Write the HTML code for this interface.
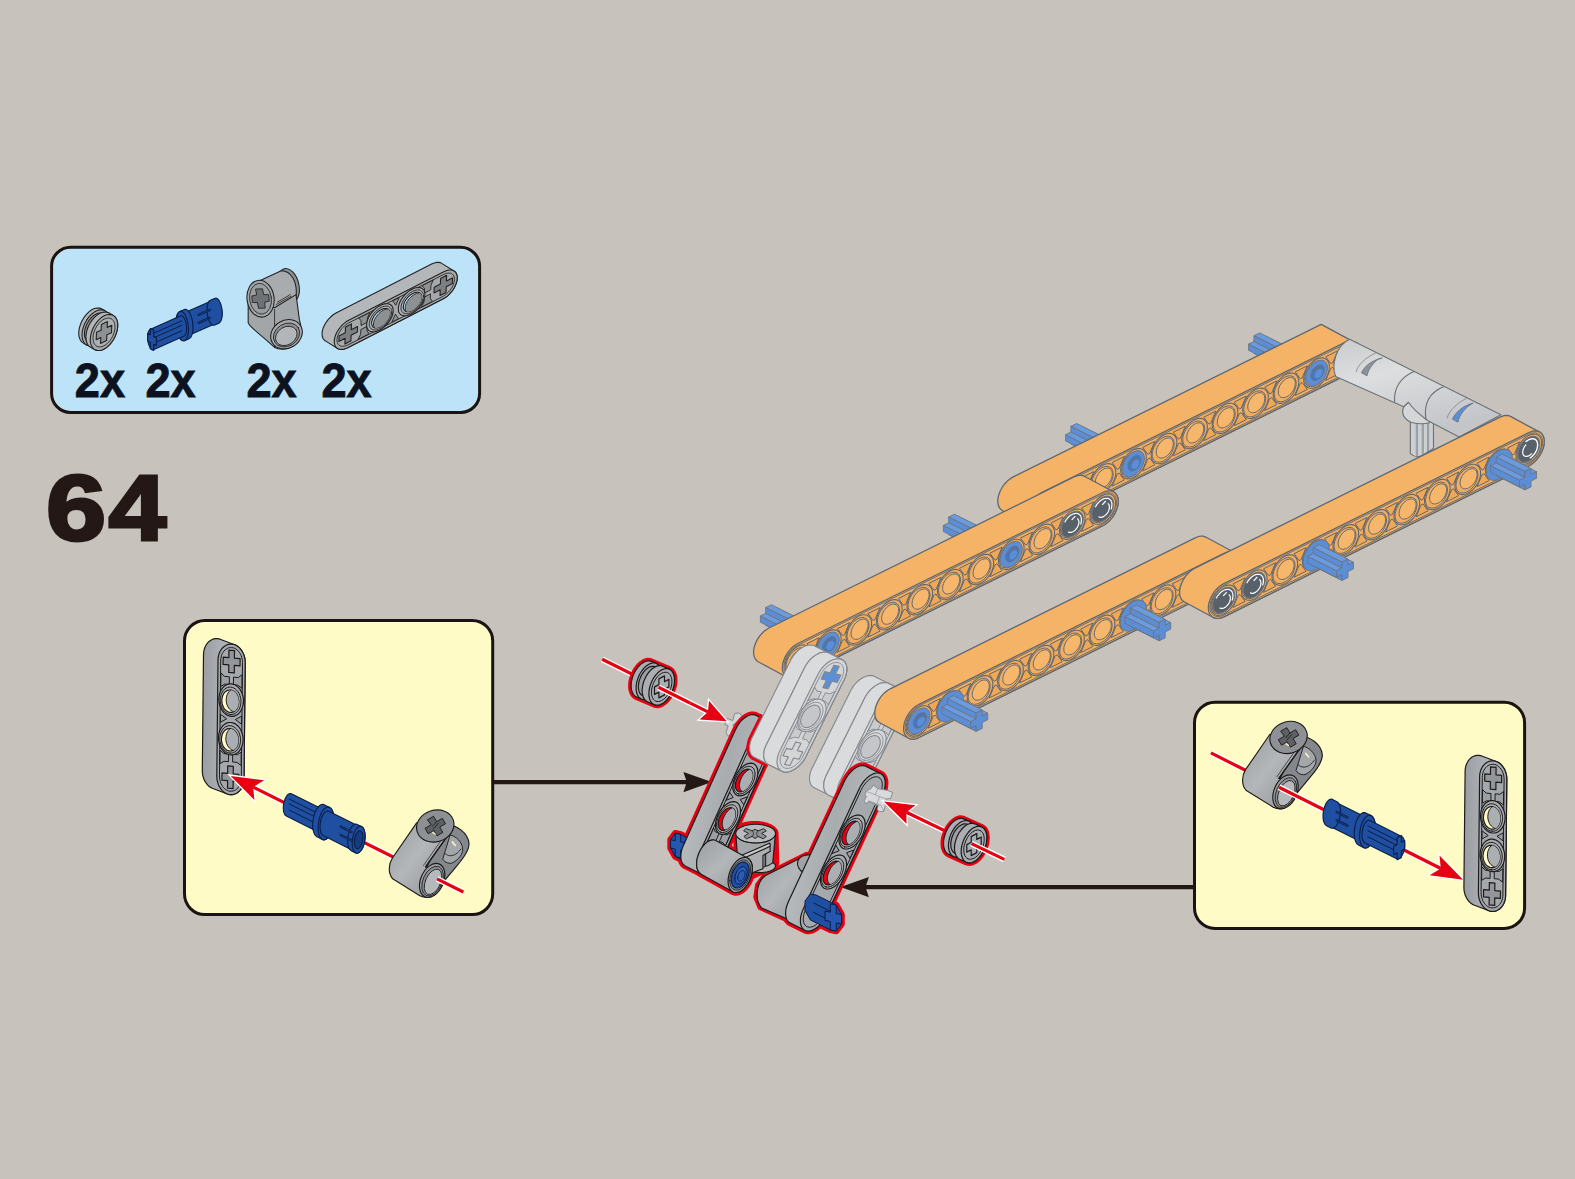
<!DOCTYPE html>
<html><head><meta charset="utf-8"><title>64</title>
<style>html,body{margin:0;padding:0;background:#c7c2bb;}body{width:1575px;height:1179px;overflow:hidden;font-family:"Liberation Sans",sans-serif;}svg{display:block;}</style>
</head><body>
<svg width="1575" height="1179" viewBox="0 0 1575 1179">
<defs>
<linearGradient id="gTube" x1="0" y1="0" x2="1" y2="1"><stop offset="0" stop-color="#9b9ea1"/><stop offset="0.45" stop-color="#b4b7ba"/><stop offset="1" stop-color="#8e9194"/></linearGradient>
<linearGradient id="gBandV" x1="0" y1="0" x2="1" y2="0"><stop offset="0" stop-color="#9a9ea2"/><stop offset="0.6" stop-color="#b2b6ba"/><stop offset="1" stop-color="#a8acb0"/></linearGradient>
<linearGradient id="gBandA" x1="0" y1="0" x2="1" y2="0.3"><stop offset="0" stop-color="#c2c5c7"/><stop offset="0.55" stop-color="#a9acaf"/><stop offset="1" stop-color="#b9bcbe"/></linearGradient>
<linearGradient id="gFadeCyl" x1="0" y1="0" x2="0.45" y2="1"><stop offset="0" stop-color="#c9cbcd"/><stop offset="0.4" stop-color="#dcdee0"/><stop offset="1" stop-color="#c3c5c8"/></linearGradient>
<linearGradient id="gOrEnd" x1="0" y1="0" x2="1" y2="0.6"><stop offset="0" stop-color="#f6b86f"/><stop offset="1" stop-color="#f1a95a"/></linearGradient>
</defs>
<rect width="1575" height="1179" fill="#c7c2bb"/>
<rect x="51.6" y="247.3" width="428" height="165.1" rx="19" ry="19" fill="#bce3f7" stroke="#1a1311" stroke-width="3"/>
<text transform="translate(74.8,396.7) scale(0.965,1.01)" font-family="Liberation Sans, sans-serif" font-weight="bold" font-size="46.8" fill="#0d1220" stroke="#0d1220" stroke-width="0.9">2x</text>
<text transform="translate(145.5,396.7) scale(0.965,1.01)" font-family="Liberation Sans, sans-serif" font-weight="bold" font-size="46.8" fill="#0d1220" stroke="#0d1220" stroke-width="0.9">2x</text>
<text transform="translate(246.5,396.7) scale(0.965,1.01)" font-family="Liberation Sans, sans-serif" font-weight="bold" font-size="46.8" fill="#0d1220" stroke="#0d1220" stroke-width="0.9">2x</text>
<text transform="translate(321.5,396.7) scale(0.965,1.01)" font-family="Liberation Sans, sans-serif" font-weight="bold" font-size="46.8" fill="#0d1220" stroke="#0d1220" stroke-width="0.9">2x</text>
<text transform="translate(46.0,539.9) scale(1.175,1.005)" font-family="Liberation Sans, sans-serif" font-weight="bold" font-size="92" fill="#231815" stroke="#231815" stroke-width="3" stroke-linejoin="miter">6</text>
<text transform="translate(108.4,539.9) scale(1.13,1)" font-family="Liberation Sans, sans-serif" font-weight="bold" font-size="92" fill="#231815" stroke="#231815" stroke-width="3" stroke-linejoin="miter">4</text>
<rect x="184.5" y="620.5" width="308.2" height="294.1" rx="20.5" ry="20.5" fill="#fffbc7" stroke="#1a1311" stroke-width="3"/>
<rect x="1194.5" y="702.3" width="330.1" height="226.1" rx="20.5" ry="20.5" fill="#fffbc7" stroke="#1a1311" stroke-width="3"/>
<path d="M494 782.1 H688" stroke="#231815" stroke-width="4.4" fill="none"/>
<path d="M711.8 782.1 L683.4 772.0 L686.8 782.1 L683.4 792.2Z" fill="#231815"/>
<path d="M1194 887.1 H864" stroke="#231815" stroke-width="4.4" fill="none"/>
<path d="M840.5 887.1 L868.9 877.0 L865.5 887.1 L868.9 897.2Z" fill="#231815"/>
<g stroke-linejoin="round" stroke-linecap="round">
<path d="M202.3 770.6 L203.5 654.8 L203.6 652.5 L204 650.4 L204.6 648.2 L205.4 646.3 L206.4 644.5 L207.6 642.9 L209 641.5 L210.5 640.4 L212.1 639.5 L213.8 638.9 L215.5 638.6 L217.3 638.6 L219.1 638.9 L220.8 639.5 L235.3 645 L237 645.9 L238.6 647.1 L240 648.5 L241.3 650.1 L242.5 651.9 L243.5 653.9 L244.2 656 L244.8 658.2 L245.1 660.4 L245.2 662.7 L244 778.5 L243.9 780.8 L243.5 783 L242.9 785.1 L242.1 787 L241.1 788.8 L239.9 790.4 L238.5 791.8 L237 792.9 L235.4 793.8 L233.8 794.4 L232 794.7 L230.2 794.7 L228.4 794.4 L226.7 793.8 L212.2 788.3 L210.5 787.4 L208.9 786.2 L207.5 784.9 L206.2 783.2 L205 781.4 L204 779.5 L203.3 777.3 L202.7 775.1 L202.4 772.9Z" fill="url(#gBandV)" stroke="#1c1a1a" stroke-width="1.2" />
<path d="M216.8 776.1 L216.9 778.4 L217.2 780.6 L217.8 782.8 L218.5 784.9 L219.5 786.9 L220.7 788.7 L222 790.4 L223.4 791.7 L225 792.9 L226.7 793.8 L228.4 794.4 L230.2 794.7 L232 794.7 L233.7 794.4 L235.4 793.8 L237 792.9 L238.5 791.8 L239.9 790.4 L241.1 788.8 L242.1 787 L242.9 785.1 L243.5 783 L243.9 780.8 L244 778.5 L245.2 662.7 L245.1 660.4 L244.8 658.2 L244.2 656 L243.5 653.9 L242.5 651.9 L241.3 650.1 L240 648.4 L238.6 647.1 L237 645.9 L235.3 645 L233.6 644.4 L231.8 644.1 L230 644.1 L228.3 644.4 L226.6 645 L225 645.9 L223.5 647 L222.1 648.4 L220.9 650 L219.9 651.8 L219.1 653.7 L218.5 655.8 L218.1 658 L218 660.3Z" fill="#a5a9ad" stroke="#1c1a1a" stroke-width="1.2" />
<path d="M219.5 776.3 L219.6 778.2 L219.9 780 L220.3 781.7 L220.9 783.4 L221.7 785 L222.6 786.4 L223.7 787.7 L224.8 788.9 L226.1 789.8 L227.4 790.5 L228.8 791 L230.3 791.2 L231.7 791.2 L233.1 791 L234.4 790.5 L235.7 789.8 L236.9 788.9 L238 787.8 L238.9 786.5 L239.8 785.1 L240.4 783.5 L240.9 781.8 L241.2 780.1 L241.3 778.3 L242.5 662.5 L242.4 660.6 L242.1 658.8 L241.7 657.1 L241.1 655.4 L240.3 653.8 L239.4 652.4 L238.3 651.1 L237.2 649.9 L235.9 649 L234.6 648.3 L233.2 647.8 L231.7 647.6 L230.3 647.6 L228.9 647.8 L227.6 648.3 L226.3 649 L225.1 649.9 L224 651 L223.1 652.3 L222.2 653.7 L221.6 655.3 L221.1 657 L220.8 658.7 L220.7 660.5Z" fill="none" stroke="#1c1a1a" stroke-width="1" />
<path d="M242 675.2 L241.9 688.3 L237.8 685.2 L233.4 684.8 L233.5 677.1 L237.9 677.5Z" fill="#9ca0a4" stroke="#1c1a1a" stroke-width="1" />
<path d="M220.9 673.3 L220.8 686.4 L224.9 684.1 L229.3 684.5 L229.4 676.8 L225 676.4Z" fill="#9ca0a4" stroke="#1c1a1a" stroke-width="1" />
<path d="M228.9 650.1 L228.9 657.6 L223.2 657.1 L223.1 664.4 L228.8 664.9 L228.7 672.4 L234.3 672.9 L234.3 665.4 L240 665.9 L240.1 658.6 L234.4 658.1 L234.5 650.6Z" fill="#92969a" stroke="#1c1a1a" stroke-width="1.2" />
<path d="M241.6 716.5 L241.5 724.2 L235.7 719.8Z" fill="#9ca0a4" stroke="#1c1a1a" stroke-width="1" />
<path d="M220.5 714.6 L220.4 722.3 L226.3 719Z" fill="#9ca0a4" stroke="#1c1a1a" stroke-width="1" />
<path d="M231 716.3 L233 716.3 L234.8 715.9 L236.6 715 L238.3 713.9 L239.8 712.3 L241 710.5 L242.1 708.4 L242.8 706.1 L243.3 703.7 L243.5 701.2 L243.4 698.6 L242.9 696.1 L242.2 693.7 L241.2 691.4 L240 689.4 L238.6 687.6 L236.9 686.1 L235.2 685 L233.3 684.3 L231.4 683.9 L229.4 683.9 L227.6 684.3 L225.8 685.2 L224.1 686.3 L222.6 687.9 L221.4 689.7 L220.3 691.8 L219.6 694.1 L219.1 696.5 L218.9 699 L219 701.6 L219.5 704.1 L220.2 706.5 L221.2 708.8 L222.4 710.8 L223.8 712.6 L225.5 714.1 L227.2 715.2 L229.1 715.9 L231 716.3Z" fill="#a8acb0" stroke="#1c1a1a" stroke-width="1.2" />
<path d="M230.5 714.5 L232.1 714.5 L233.7 714.1 L235.2 713.4 L236.6 712.4 L237.8 711.2 L238.9 709.6 L239.8 707.9 L240.4 705.9 L240.8 703.9 L241 701.7 L240.9 699.6 L240.5 697.5 L239.9 695.4 L239.1 693.5 L238 691.8 L236.8 690.3 L235.4 689 L234 688.1 L232.4 687.4 L230.7 687.1 L229.1 687.1 L227.5 687.5 L226 688.2 L224.6 689.2 L223.4 690.5 L222.3 692 L221.4 693.8 L220.8 695.7 L220.4 697.8 L220.2 699.9 L220.3 702.1 L220.7 704.2 L221.3 706.2 L222.1 708.1 L223.2 709.9 L224.4 711.4 L225.8 712.6 L227.3 713.6 L228.8 714.2 L230.5 714.5Z" fill="#a8acb0" stroke="#1c1a1a" stroke-width="1" />
<path d="M230.2 712.4 L231.5 712.4 L232.8 712.1 L234.1 711.5 L235.2 710.7 L236.2 709.6 L237.1 708.4 L237.8 706.9 L238.3 705.4 L238.7 703.7 L238.8 701.9 L238.7 700.2 L238.4 698.4 L237.9 696.8 L237.2 695.2 L236.4 693.8 L235.4 692.6 L234.3 691.5 L233 690.8 L231.8 690.2 L230.4 690 L229.1 690 L227.8 690.3 L226.6 690.9 L225.4 691.7 L224.4 692.7 L223.5 694 L222.8 695.4 L222.3 697 L222 698.7 L221.8 700.4 L221.9 702.2 L222.2 703.9 L222.7 705.6 L223.4 707.2 L224.2 708.6 L225.2 709.8 L226.4 710.8 L227.6 711.6 L228.9 712.1 L230.2 712.4Z" fill="#fffbc7" stroke="#1c1a1a" stroke-width="1.2" />
<clipPath id="c27"><path d="M230.2 712.4 L231.5 712.4 L232.8 712.1 L234.1 711.5 L235.2 710.7 L236.2 709.6 L237.1 708.4 L237.8 706.9 L238.3 705.4 L238.7 703.7 L238.8 701.9 L238.7 700.2 L238.4 698.4 L237.9 696.8 L237.2 695.2 L236.4 693.8 L235.4 692.6 L234.3 691.5 L233 690.8 L231.8 690.2 L230.4 690 L229.1 690 L227.8 690.3 L226.6 690.9 L225.4 691.7 L224.4 692.7 L223.5 694 L222.8 695.4 L222.3 697 L222 698.7 L221.8 700.4 L221.9 702.2 L222.2 703.9 L222.7 705.6 L223.4 707.2 L224.2 708.6 L225.2 709.8 L226.4 710.8 L227.6 711.6 L228.9 712.1 L230.2 712.4Z"/></clipPath>
<path d="M234.9 712 L236.3 712 L237.6 711.7 L238.9 711.1 L240.1 710.3 L241.1 709.2 L242 707.9 L242.8 706.4 L243.3 704.8 L243.6 703 L243.8 701.2 L243.7 699.4 L243.4 697.6 L242.9 695.9 L242.2 694.3 L241.3 692.8 L240.3 691.5 L239.1 690.5 L237.8 689.7 L236.5 689.1 L235.1 688.9 L233.7 688.9 L232.4 689.2 L231.1 689.8 L229.9 690.6 L228.9 691.7 L228 693 L227.2 694.5 L226.7 696.1 L226.4 697.9 L226.2 699.7 L226.3 701.5 L226.6 703.3 L227.1 705 L227.8 706.6 L228.7 708.1 L229.7 709.3 L230.9 710.4 L232.2 711.2 L233.5 711.8 L234.9 712Z" fill="#abafb3" stroke="#1c1a1a" stroke-width="1" clip-path="url(#c27)"/>
<path d="M241.2 752.4 L241.1 765.5 L237 762.4 L232.6 762 L232.7 754.3 L237.1 754.7Z" fill="#9ca0a4" stroke="#1c1a1a" stroke-width="1" />
<path d="M220.1 750.5 L220 763.6 L224.1 761.3 L228.5 761.7 L228.6 754 L224.2 753.6Z" fill="#9ca0a4" stroke="#1c1a1a" stroke-width="1" />
<path d="M230.6 754.9 L232.6 754.9 L234.4 754.5 L236.2 753.6 L237.9 752.5 L239.4 750.9 L240.6 749.1 L241.7 747 L242.4 744.7 L242.9 742.3 L243.1 739.8 L243 737.2 L242.5 734.7 L241.8 732.3 L240.8 730 L239.6 728 L238.2 726.2 L236.5 724.7 L234.8 723.6 L232.9 722.9 L231 722.5 L229 722.5 L227.2 722.9 L225.4 723.8 L223.7 724.9 L222.2 726.5 L221 728.3 L219.9 730.4 L219.2 732.7 L218.7 735.1 L218.5 737.6 L218.6 740.2 L219.1 742.7 L219.8 745.1 L220.8 747.4 L222 749.4 L223.4 751.2 L225.1 752.7 L226.8 753.8 L228.7 754.5 L230.6 754.9Z" fill="#a8acb0" stroke="#1c1a1a" stroke-width="1.2" />
<path d="M230.1 753.1 L231.7 753.1 L233.3 752.7 L234.8 752 L236.2 751 L237.4 749.8 L238.5 748.2 L239.4 746.5 L240 744.5 L240.4 742.5 L240.6 740.3 L240.5 738.2 L240.1 736.1 L239.5 734 L238.7 732.1 L237.6 730.4 L236.4 728.9 L235 727.6 L233.6 726.7 L232 726 L230.3 725.7 L228.7 725.7 L227.1 726.1 L225.6 726.8 L224.2 727.8 L223 729.1 L221.9 730.6 L221 732.4 L220.4 734.3 L220 736.4 L219.8 738.5 L219.9 740.7 L220.3 742.8 L220.9 744.8 L221.7 746.7 L222.8 748.5 L224 750 L225.4 751.2 L226.9 752.2 L228.4 752.8 L230.1 753.1Z" fill="#a8acb0" stroke="#1c1a1a" stroke-width="1" />
<path d="M229.8 751 L231.1 751 L232.4 750.7 L233.7 750.1 L234.8 749.3 L235.8 748.2 L236.7 747 L237.4 745.5 L237.9 744 L238.3 742.3 L238.4 740.5 L238.3 738.8 L238 737 L237.5 735.4 L236.8 733.8 L236 732.4 L235 731.2 L233.9 730.1 L232.6 729.4 L231.4 728.8 L230 728.6 L228.7 728.6 L227.4 728.9 L226.2 729.5 L225 730.3 L224 731.3 L223.1 732.6 L222.4 734 L221.9 735.6 L221.6 737.3 L221.4 739 L221.5 740.8 L221.8 742.5 L222.3 744.2 L223 745.8 L223.8 747.2 L224.8 748.4 L226 749.4 L227.2 750.2 L228.5 750.7 L229.8 751Z" fill="#fffbc7" stroke="#1c1a1a" stroke-width="1.2" />
<clipPath id="c34"><path d="M229.8 751 L231.1 751 L232.4 750.7 L233.7 750.1 L234.8 749.3 L235.8 748.2 L236.7 747 L237.4 745.5 L237.9 744 L238.3 742.3 L238.4 740.5 L238.3 738.8 L238 737 L237.5 735.4 L236.8 733.8 L236 732.4 L235 731.2 L233.9 730.1 L232.6 729.4 L231.4 728.8 L230 728.6 L228.7 728.6 L227.4 728.9 L226.2 729.5 L225 730.3 L224 731.3 L223.1 732.6 L222.4 734 L221.9 735.6 L221.6 737.3 L221.4 739 L221.5 740.8 L221.8 742.5 L222.3 744.2 L223 745.8 L223.8 747.2 L224.8 748.4 L226 749.4 L227.2 750.2 L228.5 750.7 L229.8 751Z"/></clipPath>
<path d="M234.5 750.6 L235.9 750.6 L237.2 750.3 L238.5 749.7 L239.7 748.9 L240.7 747.8 L241.6 746.5 L242.4 745 L242.9 743.4 L243.2 741.6 L243.4 739.8 L243.3 738 L243 736.2 L242.5 734.5 L241.8 732.9 L240.9 731.4 L239.9 730.1 L238.7 729.1 L237.4 728.3 L236.1 727.7 L234.7 727.5 L233.3 727.5 L232 727.8 L230.7 728.4 L229.5 729.2 L228.5 730.3 L227.6 731.6 L226.8 733.1 L226.3 734.7 L226 736.5 L225.8 738.3 L225.9 740.1 L226.2 741.9 L226.7 743.6 L227.4 745.2 L228.3 746.7 L229.3 747.9 L230.5 749 L231.8 749.8 L233.1 750.4 L234.5 750.6Z" fill="#abafb3" stroke="#1c1a1a" stroke-width="1" clip-path="url(#c34)"/>
<path d="M227.7 765.9 L227.7 773.4 L222 772.9 L221.9 780.2 L227.6 780.7 L227.5 788.2 L233.1 788.7 L233.1 781.2 L238.8 781.7 L238.9 774.4 L233.2 773.9 L233.3 766.4Z" fill="#92969a" stroke="#1c1a1a" stroke-width="1.2" />
</g>
<g stroke-linejoin="miter">
<path d="M463.3 892 L253.1 787.1" stroke="#ffffff" stroke-width="5.8" fill="none" stroke-linecap="butt"/>
<path d="M230.7 775.9 L264.2 780.3 L253.1 787.1 L254.4 800Z" fill="#ffffff" stroke="#ffffff" stroke-width="2.6" />
<path d="M463.3 892 L253.1 787.1" stroke="#e60012" stroke-width="3.2" fill="none" />
<path d="M230.7 775.9 L264.2 780.3 L253.1 787.1 L254.4 800Z" fill="#e60012" stroke="none" stroke-width="1" />
</g>
<g transform="translate(346.7,798.6) scale(0.11429)" stroke="#1c1a1a" stroke-width="10" stroke-linejoin="round" stroke-linecap="round" fill="none">
<path d="M880 232 C960 228 1062 300 1070 392 C1074 450 1030 512 962 590 L852 722 L700 600Z" fill="#84878b"/>
<path d="M905 318 C960 330 1010 380 1015 440 C1015 490 980 530 930 560 C900 575 860 560 840 530 L905 318Z" fill="#a4a7aa" stroke-width="8"/>
<path d="M925 380 L950 410" stroke="#fff6c0" stroke-width="14"/>
<path d="M860 480 C900 520 960 500 1000 440" stroke-width="7"/>
<path d="M612 212 L400 520 C366 572 360 650 402 702 L640 850 C705 882 765 862 802 798 C842 738 862 690 852 640 L690 598 L888 318Z" fill="url(#gTube)"/>
<g transform="translate(748 716) rotate(24)"><ellipse rx="100" ry="156" fill="#9da0a3"/><ellipse cx="6" cy="4" rx="84" ry="138" fill="#8b8e92" stroke-width="7"/><ellipse cx="12" cy="8" rx="66" ry="118" fill="#b6b9bc" stroke-width="7"/></g>
<path d="M888 318 L690 598" /><path d="M868 306 L672 585" stroke-width="6"/>
<g transform="translate(775 240) rotate(-18)"><ellipse rx="166" ry="138" fill="#8d9094"/><path d="M-32 -95 H32 V-32 H95 V32 H32 V95 H-32 V32 H-95 V-32 H-32Z" fill="#5d6064" stroke-width="8" transform="rotate(-12) scale(0.92,0.86)"/><path d="M-22 -10 L30 -28 M-28 14 L38 -8" stroke-width="6" transform="rotate(-12)"/><path d="M-48 38 L-36 60" stroke="#fff6c0" stroke-width="12" transform="rotate(-12)"/></g>
</g>
<path d="M437 878.9 L463.3 892" stroke="#ffffff" stroke-width="5.8" fill="none" />
<path d="M437 878.9 L463.3 892" stroke="#e60012" stroke-width="3.2" fill="none" />
<g stroke-linejoin="round">
<path d="M283.3 807.9 L283.4 806.2 L283.6 804.4 L283.9 802.6 L284.4 800.9 L284.9 799.2 L285.6 797.8 L286.4 796.5 L287.1 795.4 L288 794.5 L288.9 793.9 L289.7 793.6 L290.6 793.5 L291.4 793.7 L323.1 809.6 L323.9 810.1 L324.5 810.9 L325.1 811.9 L325.5 813.1 L325.9 814.5 L326.1 816.1 L326.1 817.8 L326.1 819.6 L325.9 821.4 L325.5 823.1 L325.1 824.9 L324.5 826.5 L323.9 828 L323.1 829.3 L322.3 830.4 L321.5 831.2 L320.6 831.8 L319.8 832.1 L318.9 832.2 L318.1 832 L286.4 816.1 L285.6 815.6 L284.9 814.9 L284.4 813.8 L283.9 812.6 L283.6 811.2 L283.4 809.6Z" fill="#1f4fa0" stroke="#0a1d48" stroke-width="1.1" />
<path d="M288.9 809.9 L320.6 825.8" stroke="#0a1d48" stroke-width="1" fill="none" />
<path d="M288.9 803.8 L320.6 819.7" stroke="#0a1d48" stroke-width="1" fill="none" />
<path d="M288.9 798.9 L320.6 814.7" stroke="#0a1d48" stroke-width="1" fill="none" />
<path d="M312.7 825.1 L312.8 822.5 L313.1 820 L313.6 817.4 L314.2 814.9 L315 812.6 L316 810.5 L317 808.6 L318.2 807 L319.4 805.8 L320.6 804.9 L321.9 804.5 L323.1 804.4 L324.2 804.7 L329.6 807.4 L330.6 808.1 L331.6 809.2 L332.4 810.7 L333.1 812.5 L333.5 814.5 L333.8 816.8 L333.9 819.2 L333.8 821.7 L333.5 824.3 L333.1 826.8 L332.4 829.3 L331.6 831.6 L330.6 833.8 L329.6 835.6 L328.4 837.2 L327.2 838.4 L326 839.3 L324.8 839.8 L323.5 839.9 L322.4 839.5 L317 836.8 L316 836.1 L315 835 L314.2 833.6 L313.6 831.8 L313.1 829.8 L312.8 827.5Z" fill="#1f4fa0" stroke="#0a1d48" stroke-width="1.1" />
<path d="M318.1 827.8 L318.2 825.2 L318.5 822.6 L318.9 820.1 L319.6 817.6 L320.4 815.3 L321.3 813.2 L322.4 811.3 L323.5 809.7 L324.8 808.5 L326 807.6 L327.2 807.1 L328.4 807.1 L329.6 807.4 L330.6 808.1 L331.6 809.2 L332.4 810.7 L333 812.4 L333.5 814.5 L333.8 816.7 L333.9 819.2 L333.8 821.7 L333.5 824.3 L333 826.8 L332.4 829.3 L331.6 831.6 L330.6 833.8 L329.6 835.6 L328.4 837.2 L327.2 838.4 L326 839.3 L324.8 839.8 L323.5 839.9 L322.4 839.5 L321.3 838.8 L320.4 837.7 L319.6 836.2 L318.9 834.5 L318.5 832.4 L318.2 830.2 L318.1 827.8Z" fill="#1f4fa0" stroke="#0a1d48" stroke-width="1.1" />
<path d="M320 826.7 L320.1 824.8 L320.3 822.9 L320.6 820.9 L321.1 819 L321.8 817.3 L322.5 815.7 L323.3 814.2 L324.1 813 L325.1 812.1 L326 811.5 L326.9 811.1 L327.8 811 L328.7 811.3 L361.4 827.6 L362.2 828.1 L362.9 829 L363.5 830.1 L364 831.4 L364.4 833 L364.6 834.7 L364.6 836.5 L364.6 838.4 L364.4 840.4 L364 842.3 L363.5 844.2 L362.9 846 L362.2 847.6 L361.4 849 L360.5 850.2 L359.6 851.1 L358.6 851.8 L357.7 852.1 L356.8 852.2 L355.9 851.9 L323.3 835.6 L322.5 835.1 L321.8 834.2 L321.1 833.1 L320.6 831.8 L320.3 830.3 L320.1 828.5Z" fill="#1f4fa0" stroke="#0a1d48" stroke-width="1.1" />
<path d="M347.7 841 L347.8 839 L348 836.9 L348.4 834.8 L348.9 832.8 L349.6 830.9 L350.4 829.1 L351.2 827.6 L352.2 826.3 L353.2 825.3 L354.2 824.6 L355.2 824.2 L356.2 824.1 L357.1 824.4 L361.6 826.6 L362.5 827.2 L363.2 828.1 L363.9 829.3 L364.4 830.8 L364.8 832.4 L365.1 834.3 L365.1 836.2 L365.1 838.3 L364.8 840.4 L364.4 842.5 L363.9 844.5 L363.2 846.5 L362.5 848.2 L361.6 849.7 L360.6 851 L359.7 852 L358.6 852.7 L357.6 853.1 L356.6 853.2 L355.7 852.9 L351.2 850.7 L350.4 850.1 L349.6 849.2 L348.9 848 L348.4 846.5 L348 844.9 L347.8 843Z" fill="#1f4fa0" stroke="#0a1d48" stroke-width="1.1" />
<path d="M352.2 843.3 L352.2 841.2 L352.5 839.1 L352.9 837 L353.4 835 L354.1 833.1 L354.8 831.3 L355.7 829.8 L356.6 828.5 L357.6 827.5 L358.6 826.8 L359.7 826.4 L360.6 826.4 L361.6 826.6 L362.5 827.2 L363.2 828.1 L363.9 829.3 L364.4 830.8 L364.8 832.4 L365 834.3 L365.1 836.3 L365 838.3 L364.8 840.4 L364.4 842.5 L363.9 844.5 L363.2 846.4 L362.5 848.2 L361.6 849.7 L360.6 851 L359.7 852 L358.6 852.7 L357.6 853.1 L356.6 853.2 L355.7 852.9 L354.8 852.3 L354.1 851.4 L353.4 850.2 L352.9 848.8 L352.5 847.1 L352.2 845.3 L352.2 843.3Z" fill="#1f4fa0" stroke="#0a1d48" stroke-width="1.1" />
<path d="M354.3 842.1 L354.4 840.7 L354.5 839.3 L354.8 837.9 L355.2 836.6 L355.6 835.3 L356.1 834.1 L356.7 833.1 L357.3 832.3 L358 831.6 L358.6 831.1 L359.3 830.9 L360 830.8 L360.6 831 L361.2 831.4 L361.7 832 L362.1 832.8 L362.5 833.8 L362.8 834.9 L362.9 836.1 L363 837.4 L362.9 838.8 L362.8 840.2 L362.5 841.6 L362.1 842.9 L361.7 844.2 L361.2 845.4 L360.6 846.4 L360 847.3 L359.3 847.9 L358.6 848.4 L358 848.7 L357.3 848.7 L356.7 848.5 L356.1 848.1 L355.6 847.5 L355.2 846.7 L354.8 845.8 L354.5 844.7 L354.4 843.4 L354.3 842.1Z" fill="#163c80" stroke="#0a1d48" stroke-width="1.1" />
<path d="M340.8 835 L351.5 840.4" stroke="#0a1d48" stroke-width="2.4" fill="none" stroke-linecap="round"/>
<path d="M340.8 835 L351.5 840.4" stroke="#163c80" stroke-width="1.1" fill="none" stroke-linecap="round"/>
<path d="M340.8 826.6 L351.5 832" stroke="#0a1d48" stroke-width="2.4" fill="none" stroke-linecap="round"/>
<path d="M340.8 826.6 L351.5 832" stroke="#163c80" stroke-width="1.1" fill="none" stroke-linecap="round"/>
</g>
<g stroke-linejoin="miter">
<path d="M1210.9 752.9 L1440.8 868.5" stroke="#ffffff" stroke-width="5.8" fill="none" stroke-linecap="butt"/>
<path d="M1463.1 879.7 L1429.6 875.2 L1440.8 868.5 L1439.5 855.5Z" fill="#ffffff" stroke="#ffffff" stroke-width="2.6" />
<path d="M1210.9 752.9 L1440.8 868.5" stroke="#e60012" stroke-width="3.2" fill="none" />
<path d="M1463.1 879.7 L1429.6 875.2 L1440.8 868.5 L1439.5 855.5Z" fill="#e60012" stroke="none" stroke-width="1" />
</g>
<g stroke-linejoin="round" stroke-linecap="round">
<path d="M1463.9 887.3 L1465.1 771.5 L1465.2 769.2 L1465.6 767 L1466.2 764.9 L1467 763 L1468 761.2 L1469.2 759.6 L1470.6 758.2 L1472.1 757.1 L1473.7 756.2 L1475.3 755.6 L1477.1 755.3 L1478.9 755.3 L1480.7 755.6 L1482.4 756.2 L1496.9 761.7 L1498.6 762.6 L1500.2 763.8 L1501.6 765.1 L1502.9 766.8 L1504.1 768.6 L1505.1 770.5 L1505.8 772.7 L1506.4 774.9 L1506.7 777.1 L1506.8 779.4 L1505.6 895.2 L1505.5 897.5 L1505.1 899.6 L1504.5 901.8 L1503.7 903.7 L1502.7 905.5 L1501.5 907.1 L1500.1 908.5 L1498.6 909.6 L1497 910.5 L1495.3 911.1 L1493.6 911.4 L1491.8 911.4 L1490 911.1 L1488.3 910.5 L1473.8 905 L1472.1 904.1 L1470.5 902.9 L1469.1 901.5 L1467.8 899.9 L1466.6 898.1 L1465.6 896.1 L1464.9 894 L1464.3 891.8 L1464 889.6Z" fill="url(#gBandV)" stroke="#1c1a1a" stroke-width="1.2" />
<path d="M1478.4 892.8 L1478.5 895.1 L1478.8 897.3 L1479.4 899.5 L1480.1 901.6 L1481.1 903.6 L1482.3 905.4 L1483.6 907.1 L1485 908.4 L1486.6 909.6 L1488.3 910.5 L1490 911.1 L1491.8 911.4 L1493.6 911.4 L1495.3 911.1 L1497 910.5 L1498.6 909.6 L1500.1 908.5 L1501.5 907.1 L1502.7 905.5 L1503.7 903.7 L1504.5 901.8 L1505.1 899.7 L1505.5 897.5 L1505.6 895.2 L1506.8 779.4 L1506.7 777.1 L1506.4 774.9 L1505.8 772.7 L1505.1 770.6 L1504.1 768.6 L1502.9 766.8 L1501.6 765.1 L1500.2 763.8 L1498.6 762.6 L1496.9 761.7 L1495.2 761.1 L1493.4 760.8 L1491.6 760.8 L1489.9 761.1 L1488.2 761.7 L1486.6 762.6 L1485.1 763.7 L1483.7 765.1 L1482.5 766.7 L1481.5 768.5 L1480.7 770.4 L1480.1 772.5 L1479.7 774.7 L1479.6 777Z" fill="#a5a9ad" stroke="#1c1a1a" stroke-width="1.2" />
<path d="M1481.1 893 L1481.2 894.9 L1481.5 896.7 L1481.9 898.4 L1482.5 900.1 L1483.3 901.7 L1484.2 903.1 L1485.3 904.4 L1486.4 905.6 L1487.7 906.5 L1489 907.2 L1490.4 907.7 L1491.9 907.9 L1493.3 907.9 L1494.7 907.7 L1496 907.2 L1497.3 906.5 L1498.5 905.6 L1499.6 904.5 L1500.5 903.2 L1501.4 901.8 L1502 900.2 L1502.5 898.5 L1502.8 896.8 L1502.9 895 L1504.1 779.2 L1504 777.3 L1503.7 775.5 L1503.3 773.8 L1502.7 772.1 L1501.9 770.5 L1501 769.1 L1499.9 767.8 L1498.8 766.6 L1497.5 765.7 L1496.2 765 L1494.8 764.5 L1493.3 764.3 L1491.9 764.3 L1490.5 764.5 L1489.2 765 L1487.9 765.7 L1486.7 766.6 L1485.6 767.7 L1484.7 769 L1483.8 770.4 L1483.2 772 L1482.7 773.7 L1482.4 775.4 L1482.3 777.2Z" fill="none" stroke="#1c1a1a" stroke-width="1" />
<path d="M1503.6 791.9 L1503.5 805 L1499.4 801.9 L1495 801.5 L1495.1 793.8 L1499.5 794.2Z" fill="#9ca0a4" stroke="#1c1a1a" stroke-width="1" />
<path d="M1482.5 790 L1482.4 803.1 L1486.5 800.8 L1490.9 801.2 L1491 793.5 L1486.6 793.1Z" fill="#9ca0a4" stroke="#1c1a1a" stroke-width="1" />
<path d="M1490.5 766.8 L1490.5 774.3 L1484.8 773.8 L1484.7 781.1 L1490.4 781.6 L1490.3 789.1 L1495.9 789.6 L1495.9 782.1 L1501.6 782.6 L1501.7 775.3 L1496 774.8 L1496.1 767.3Z" fill="#92969a" stroke="#1c1a1a" stroke-width="1.2" />
<path d="M1503.2 833.2 L1503.1 840.9 L1497.3 836.5Z" fill="#9ca0a4" stroke="#1c1a1a" stroke-width="1" />
<path d="M1482.1 831.3 L1482 839 L1487.9 835.7Z" fill="#9ca0a4" stroke="#1c1a1a" stroke-width="1" />
<path d="M1492.6 833 L1494.6 833 L1496.4 832.6 L1498.2 831.7 L1499.9 830.6 L1501.4 829 L1502.6 827.2 L1503.7 825.1 L1504.4 822.8 L1504.9 820.4 L1505.1 817.9 L1505 815.3 L1504.5 812.8 L1503.8 810.4 L1502.8 808.1 L1501.6 806.1 L1500.2 804.3 L1498.5 802.8 L1496.8 801.7 L1494.9 801 L1493 800.6 L1491 800.6 L1489.2 801 L1487.4 801.9 L1485.7 803 L1484.2 804.6 L1483 806.4 L1481.9 808.5 L1481.2 810.8 L1480.7 813.2 L1480.5 815.7 L1480.6 818.3 L1481.1 820.8 L1481.8 823.2 L1482.8 825.5 L1484 827.5 L1485.4 829.3 L1487.1 830.8 L1488.8 831.9 L1490.7 832.6 L1492.6 833Z" fill="#a8acb0" stroke="#1c1a1a" stroke-width="1.2" />
<path d="M1492.1 831.2 L1493.7 831.2 L1495.3 830.8 L1496.8 830.1 L1498.2 829.1 L1499.4 827.9 L1500.5 826.3 L1501.4 824.6 L1502 822.6 L1502.4 820.6 L1502.6 818.4 L1502.5 816.3 L1502.1 814.2 L1501.5 812.1 L1500.7 810.2 L1499.6 808.5 L1498.4 807 L1497 805.7 L1495.6 804.8 L1494 804.1 L1492.3 803.8 L1490.7 803.8 L1489.1 804.2 L1487.6 804.9 L1486.2 805.9 L1485 807.2 L1483.9 808.7 L1483 810.5 L1482.4 812.4 L1482 814.5 L1481.8 816.6 L1481.9 818.8 L1482.3 820.9 L1482.9 822.9 L1483.7 824.8 L1484.8 826.6 L1486 828.1 L1487.4 829.3 L1488.9 830.3 L1490.4 830.9 L1492.1 831.2Z" fill="#a8acb0" stroke="#1c1a1a" stroke-width="1" />
<path d="M1491.8 829.1 L1493.1 829.1 L1494.4 828.8 L1495.7 828.2 L1496.8 827.4 L1497.8 826.3 L1498.7 825.1 L1499.4 823.6 L1499.9 822.1 L1500.3 820.4 L1500.4 818.6 L1500.3 816.9 L1500 815.1 L1499.5 813.5 L1498.8 811.9 L1498 810.5 L1497 809.3 L1495.9 808.2 L1494.6 807.5 L1493.4 806.9 L1492 806.7 L1490.7 806.7 L1489.4 807 L1488.2 807.6 L1487 808.4 L1486 809.4 L1485.1 810.7 L1484.4 812.1 L1483.9 813.7 L1483.6 815.4 L1483.4 817.1 L1483.5 818.9 L1483.8 820.6 L1484.3 822.3 L1485 823.9 L1485.8 825.3 L1486.8 826.5 L1488 827.5 L1489.2 828.3 L1490.5 828.8 L1491.8 829.1Z" fill="#fffbc7" stroke="#1c1a1a" stroke-width="1.2" />
<clipPath id="c90"><path d="M1491.8 829.1 L1493.1 829.1 L1494.4 828.8 L1495.7 828.2 L1496.8 827.4 L1497.8 826.3 L1498.7 825.1 L1499.4 823.6 L1499.9 822.1 L1500.3 820.4 L1500.4 818.6 L1500.3 816.9 L1500 815.1 L1499.5 813.5 L1498.8 811.9 L1498 810.5 L1497 809.3 L1495.9 808.2 L1494.6 807.5 L1493.4 806.9 L1492 806.7 L1490.7 806.7 L1489.4 807 L1488.2 807.6 L1487 808.4 L1486 809.4 L1485.1 810.7 L1484.4 812.1 L1483.9 813.7 L1483.6 815.4 L1483.4 817.1 L1483.5 818.9 L1483.8 820.6 L1484.3 822.3 L1485 823.9 L1485.8 825.3 L1486.8 826.5 L1488 827.5 L1489.2 828.3 L1490.5 828.8 L1491.8 829.1Z"/></clipPath>
<path d="M1496.5 828.7 L1497.9 828.7 L1499.2 828.4 L1500.5 827.8 L1501.7 827 L1502.7 825.9 L1503.6 824.6 L1504.4 823.1 L1504.9 821.5 L1505.2 819.7 L1505.4 817.9 L1505.3 816.1 L1505 814.3 L1504.5 812.6 L1503.8 811 L1502.9 809.5 L1501.9 808.2 L1500.7 807.2 L1499.4 806.4 L1498.1 805.8 L1496.7 805.6 L1495.3 805.6 L1494 805.9 L1492.7 806.5 L1491.5 807.3 L1490.5 808.4 L1489.6 809.7 L1488.8 811.2 L1488.3 812.8 L1488 814.6 L1487.8 816.4 L1487.9 818.2 L1488.2 820 L1488.7 821.7 L1489.4 823.3 L1490.3 824.8 L1491.3 826 L1492.5 827.1 L1493.8 827.9 L1495.1 828.5 L1496.5 828.7Z" fill="#abafb3" stroke="#1c1a1a" stroke-width="1" clip-path="url(#c90)"/>
<path d="M1502.8 869.1 L1502.7 882.2 L1498.6 879.1 L1494.2 878.7 L1494.3 871 L1498.7 871.4Z" fill="#9ca0a4" stroke="#1c1a1a" stroke-width="1" />
<path d="M1481.7 867.2 L1481.6 880.3 L1485.7 878 L1490.1 878.4 L1490.2 870.7 L1485.8 870.3Z" fill="#9ca0a4" stroke="#1c1a1a" stroke-width="1" />
<path d="M1492.2 871.6 L1494.2 871.6 L1496 871.2 L1497.8 870.3 L1499.5 869.2 L1501 867.6 L1502.2 865.8 L1503.3 863.7 L1504 861.4 L1504.5 859 L1504.7 856.5 L1504.6 853.9 L1504.1 851.4 L1503.4 849 L1502.4 846.7 L1501.2 844.7 L1499.8 842.9 L1498.1 841.4 L1496.4 840.3 L1494.5 839.6 L1492.6 839.2 L1490.6 839.2 L1488.8 839.6 L1487 840.5 L1485.3 841.6 L1483.8 843.2 L1482.6 845 L1481.5 847.1 L1480.8 849.4 L1480.3 851.8 L1480.1 854.3 L1480.2 856.9 L1480.7 859.4 L1481.4 861.8 L1482.4 864.1 L1483.6 866.1 L1485 867.9 L1486.7 869.4 L1488.4 870.5 L1490.3 871.2 L1492.2 871.6Z" fill="#a8acb0" stroke="#1c1a1a" stroke-width="1.2" />
<path d="M1491.7 869.8 L1493.3 869.8 L1494.9 869.4 L1496.4 868.7 L1497.8 867.7 L1499 866.5 L1500.1 864.9 L1501 863.2 L1501.6 861.2 L1502 859.2 L1502.2 857 L1502.1 854.9 L1501.7 852.8 L1501.1 850.7 L1500.3 848.8 L1499.2 847.1 L1498 845.6 L1496.6 844.3 L1495.2 843.4 L1493.6 842.7 L1491.9 842.4 L1490.3 842.4 L1488.7 842.8 L1487.2 843.5 L1485.8 844.5 L1484.6 845.8 L1483.5 847.3 L1482.6 849.1 L1482 851 L1481.6 853.1 L1481.4 855.2 L1481.5 857.4 L1481.9 859.5 L1482.5 861.5 L1483.3 863.4 L1484.4 865.2 L1485.6 866.7 L1487 867.9 L1488.5 868.9 L1490 869.5 L1491.7 869.8Z" fill="#a8acb0" stroke="#1c1a1a" stroke-width="1" />
<path d="M1491.4 867.7 L1492.7 867.7 L1494 867.4 L1495.3 866.8 L1496.4 866 L1497.4 864.9 L1498.3 863.7 L1499 862.2 L1499.5 860.7 L1499.9 859 L1500 857.2 L1499.9 855.5 L1499.6 853.7 L1499.1 852.1 L1498.4 850.5 L1497.6 849.1 L1496.6 847.9 L1495.5 846.8 L1494.2 846.1 L1493 845.5 L1491.6 845.3 L1490.3 845.3 L1489 845.6 L1487.8 846.2 L1486.6 847 L1485.6 848 L1484.7 849.3 L1484 850.7 L1483.5 852.3 L1483.2 854 L1483 855.7 L1483.1 857.5 L1483.4 859.2 L1483.9 860.9 L1484.6 862.5 L1485.4 863.9 L1486.4 865.1 L1487.6 866.1 L1488.8 866.9 L1490.1 867.4 L1491.4 867.7Z" fill="#fffbc7" stroke="#1c1a1a" stroke-width="1.2" />
<clipPath id="c97"><path d="M1491.4 867.7 L1492.7 867.7 L1494 867.4 L1495.3 866.8 L1496.4 866 L1497.4 864.9 L1498.3 863.7 L1499 862.2 L1499.5 860.7 L1499.9 859 L1500 857.2 L1499.9 855.5 L1499.6 853.7 L1499.1 852.1 L1498.4 850.5 L1497.6 849.1 L1496.6 847.9 L1495.5 846.8 L1494.2 846.1 L1493 845.5 L1491.6 845.3 L1490.3 845.3 L1489 845.6 L1487.8 846.2 L1486.6 847 L1485.6 848 L1484.7 849.3 L1484 850.7 L1483.5 852.3 L1483.2 854 L1483 855.7 L1483.1 857.5 L1483.4 859.2 L1483.9 860.9 L1484.6 862.5 L1485.4 863.9 L1486.4 865.1 L1487.6 866.1 L1488.8 866.9 L1490.1 867.4 L1491.4 867.7Z"/></clipPath>
<path d="M1496.1 867.3 L1497.5 867.3 L1498.8 867 L1500.1 866.4 L1501.3 865.6 L1502.3 864.5 L1503.2 863.2 L1504 861.7 L1504.5 860.1 L1504.8 858.3 L1505 856.5 L1504.9 854.7 L1504.6 852.9 L1504.1 851.2 L1503.4 849.6 L1502.5 848.1 L1501.5 846.8 L1500.3 845.8 L1499 845 L1497.7 844.4 L1496.3 844.2 L1494.9 844.2 L1493.6 844.5 L1492.3 845.1 L1491.1 845.9 L1490.1 847 L1489.2 848.3 L1488.4 849.8 L1487.9 851.4 L1487.6 853.2 L1487.4 855 L1487.5 856.8 L1487.8 858.6 L1488.3 860.3 L1489 861.9 L1489.9 863.4 L1490.9 864.6 L1492.1 865.7 L1493.4 866.5 L1494.7 867.1 L1496.1 867.3Z" fill="#abafb3" stroke="#1c1a1a" stroke-width="1" clip-path="url(#c97)"/>
<path d="M1489.3 882.6 L1489.3 890.1 L1483.6 889.6 L1483.5 896.9 L1489.2 897.4 L1489.1 904.9 L1494.7 905.4 L1494.7 897.9 L1500.4 898.4 L1500.5 891.1 L1494.8 890.6 L1494.9 883.1Z" fill="#92969a" stroke="#1c1a1a" stroke-width="1.2" />
</g>
<g transform="translate(1200,710) scale(0.11429)" stroke="#1c1a1a" stroke-width="10" stroke-linejoin="round" stroke-linecap="round" fill="none">
<path d="M880 232 C960 228 1062 300 1070 392 C1074 450 1030 512 962 590 L852 722 L700 600Z" fill="#84878b"/>
<path d="M905 318 C960 330 1010 380 1015 440 C1015 490 980 530 930 560 C900 575 860 560 840 530 L905 318Z" fill="#a4a7aa" stroke-width="8"/>
<path d="M925 380 L950 410" stroke="#fff6c0" stroke-width="14"/>
<path d="M860 480 C900 520 960 500 1000 440" stroke-width="7"/>
<path d="M612 212 L400 520 C366 572 360 650 402 702 L640 850 C705 882 765 862 802 798 C842 738 862 690 852 640 L690 598 L888 318Z" fill="url(#gTube)"/>
<g transform="translate(748 716) rotate(24)"><ellipse rx="100" ry="156" fill="#9da0a3"/><ellipse cx="6" cy="4" rx="84" ry="138" fill="#8b8e92" stroke-width="7"/><ellipse cx="12" cy="8" rx="66" ry="118" fill="#b6b9bc" stroke-width="7"/></g>
<path d="M888 318 L690 598" /><path d="M868 306 L672 585" stroke-width="6"/>
<g transform="translate(775 240) rotate(-18)"><ellipse rx="166" ry="138" fill="#8d9094"/><path d="M-32 -95 H32 V-32 H95 V32 H32 V95 H-32 V32 H-95 V-32 H-32Z" fill="#5d6064" stroke-width="8" transform="rotate(-12) scale(0.92,0.86)"/><path d="M-22 -10 L30 -28 M-28 14 L38 -8" stroke-width="6" transform="rotate(-12)"/><path d="M-48 38 L-36 60" stroke="#fff6c0" stroke-width="12" transform="rotate(-12)"/></g>
</g>
<path d="M1279 787.2 L1336 815.8" stroke="#ffffff" stroke-width="5.8" fill="none" />
<path d="M1279 787.2 L1336 815.8" stroke="#e60012" stroke-width="3.2" fill="none" />
<g stroke-linejoin="round">
<path d="M1323.5 815.8 L1323.6 813.9 L1323.8 812 L1324.2 810 L1324.7 808.1 L1325.3 806.4 L1326 804.8 L1326.8 803.4 L1327.7 802.1 L1328.6 801.2 L1329.5 800.6 L1330.5 800.2 L1331.4 800.1 L1332.2 800.4 L1364.8 816.8 L1365.7 817.3 L1366.4 818.2 L1367 819.3 L1367.5 820.6 L1367.8 822.2 L1368 823.9 L1368.1 825.7 L1368 827.6 L1367.8 829.6 L1367.5 831.5 L1367 833.4 L1366.4 835.1 L1365.7 836.8 L1364.8 838.2 L1364 839.4 L1363.1 840.3 L1362.1 841 L1361.2 841.3 L1360.3 841.4 L1359.4 841.1 L1326.8 824.7 L1326 824.2 L1325.3 823.4 L1324.7 822.2 L1324.2 820.9 L1323.8 819.4 L1323.6 817.6Z" fill="#1f4fa0" stroke="#0a1d48" stroke-width="1.1" />
<path d="M1323 816.1 L1323.1 814 L1323.3 811.9 L1323.7 809.8 L1324.3 807.8 L1324.9 805.9 L1325.7 804.1 L1326.6 802.6 L1327.5 801.3 L1328.5 800.3 L1329.5 799.6 L1330.5 799.2 L1331.5 799.1 L1332.5 799.4 L1336.9 801.7 L1337.8 802.3 L1338.6 803.2 L1339.2 804.4 L1339.8 805.8 L1340.1 807.5 L1340.4 809.3 L1340.5 811.3 L1340.4 813.4 L1340.1 815.5 L1339.8 817.6 L1339.2 819.6 L1338.6 821.5 L1337.8 823.2 L1336.9 824.8 L1336 826 L1335 827.1 L1334 827.8 L1333 828.2 L1332 828.2 L1331 828 L1326.6 825.7 L1325.7 825.1 L1324.9 824.2 L1324.3 823 L1323.7 821.6 L1323.3 819.9 L1323.1 818.1Z" fill="#1f4fa0" stroke="#0a1d48" stroke-width="1.1" />
<path d="M1347.4 825.7 L1336.7 820.4" stroke="#0a1d48" stroke-width="2.4" fill="none" stroke-linecap="round"/>
<path d="M1347.4 825.7 L1336.7 820.4" stroke="#163c80" stroke-width="1.1" fill="none" stroke-linecap="round"/>
<path d="M1347.4 817.3 L1336.7 812" stroke="#0a1d48" stroke-width="2.4" fill="none" stroke-linecap="round"/>
<path d="M1347.4 817.3 L1336.7 812" stroke="#163c80" stroke-width="1.1" fill="none" stroke-linecap="round"/>
<path d="M1354.2 833.2 L1354.3 830.7 L1354.6 828.1 L1355.1 825.6 L1355.7 823.1 L1356.5 820.8 L1357.5 818.7 L1358.5 816.8 L1359.7 815.2 L1360.9 814 L1362.1 813.1 L1363.4 812.6 L1364.6 812.6 L1365.7 812.9 L1371.1 815.6 L1372.1 816.3 L1373.1 817.4 L1373.9 818.9 L1374.5 820.6 L1375 822.7 L1375.3 824.9 L1375.4 827.4 L1375.3 829.9 L1375 832.5 L1374.5 835 L1373.9 837.5 L1373.1 839.8 L1372.1 842 L1371.1 843.8 L1369.9 845.4 L1368.7 846.6 L1367.5 847.5 L1366.2 848 L1365 848 L1363.9 847.7 L1358.5 845 L1357.5 844.3 L1356.5 843.2 L1355.7 841.7 L1355.1 840 L1354.6 837.9 L1354.3 835.7Z" fill="#1f4fa0" stroke="#0a1d48" stroke-width="1.1" />
<path d="M1359.6 835.9 L1359.7 833.4 L1360 830.8 L1360.4 828.3 L1361.1 825.8 L1361.9 823.5 L1362.8 821.4 L1363.9 819.5 L1365 817.9 L1366.2 816.7 L1367.5 815.8 L1368.7 815.3 L1369.9 815.3 L1371.1 815.6 L1372.1 816.3 L1373.1 817.4 L1373.9 818.9 L1374.5 820.6 L1375 822.7 L1375.3 824.9 L1375.4 827.4 L1375.3 829.9 L1375 832.5 L1374.5 835 L1373.9 837.5 L1373.1 839.8 L1372.1 841.9 L1371.1 843.8 L1369.9 845.4 L1368.7 846.6 L1367.5 847.5 L1366.2 848 L1365 848 L1363.9 847.7 L1362.8 847 L1361.9 845.9 L1361.1 844.4 L1360.4 842.7 L1360 840.6 L1359.7 838.4 L1359.6 835.9Z" fill="#1f4fa0" stroke="#0a1d48" stroke-width="1.1" />
<path d="M1362 834.6 L1362 832.9 L1362.2 831.1 L1362.6 829.3 L1363 827.6 L1363.6 826 L1364.2 824.5 L1365 823.2 L1365.8 822.1 L1366.6 821.2 L1367.5 820.6 L1368.3 820.3 L1369.2 820.2 L1370 820.5 L1401.7 836.4 L1402.4 836.9 L1403.1 837.7 L1403.7 838.7 L1404.1 839.9 L1404.5 841.3 L1404.7 842.9 L1404.7 844.6 L1404.7 846.4 L1404.5 848.2 L1404.1 850 L1403.7 851.7 L1403.1 853.3 L1402.4 854.8 L1401.7 856.1 L1400.9 857.2 L1400.1 858 L1399.2 858.6 L1398.3 859 L1397.5 859 L1396.7 858.8 L1365 842.9 L1364.2 842.3 L1363.6 841.6 L1363 840.6 L1362.6 839.3 L1362.2 837.9 L1362 836.3Z" fill="#1f4fa0" stroke="#0a1d48" stroke-width="1.1" />
<path d="M1399.2 852.6 L1367.5 836.6" stroke="#0a1d48" stroke-width="1" fill="none" />
<path d="M1399.2 846.5 L1367.5 830.5" stroke="#0a1d48" stroke-width="1" fill="none" />
<path d="M1399.2 841.5 L1367.5 825.6" stroke="#0a1d48" stroke-width="1" fill="none" />
<path d="M1404.7 848.8 L1401.3 850.7 L1401.3 857.5 L1397.1 859.8 L1397.1 852.9 L1393.7 854.8 L1393.7 846.4 L1397.1 844.5 L1397.1 837.7 L1401.3 835.4 L1401.3 842.3 L1404.7 840.4Z" fill="#1f4fa0" stroke="#0a1d48" stroke-width="1.1" />
</g>
<g stroke-linejoin="round">
<path d="M78.8 332.3 L79 329.6 L79.7 326.8 L80.6 324 L81.8 321.2 L83.3 318.5 L85 316.1 L86.9 313.8 L88.9 311.9 L91 310.3 L93.2 309.1 L95.3 308.3 L97.4 308 L99.4 308.1 L101.1 308.6 L104.4 310.4 L105.9 311.4 L107.2 312.8 L108.3 314.5 L109 316.6 L109.4 318.9 L109.5 321.5 L109.2 324.2 L108.6 327 L107.6 329.9 L106.4 332.6 L104.9 335.3 L103.2 337.8 L101.3 340 L99.3 341.9 L97.2 343.5 L95 344.7 L92.9 345.5 L90.8 345.9 L88.9 345.8 L87.1 345.2 L83.9 343.4 L82.3 342.4 L81 341.1 L80 339.3 L79.2 337.2 L78.8 334.9Z" fill="#b4b7b9" stroke="#222222" stroke-width="1.1" />
<path d="M82 334.2 L82.3 331.4 L82.9 328.6 L83.8 325.8 L85 323 L86.5 320.4 L88.2 317.9 L90.1 315.6 L92.1 313.7 L94.3 312.1 L96.4 310.9 L98.6 310.1 L100.6 309.8 L102.6 309.9 L104.4 310.4 L105.9 311.4 L107.2 312.8 L108.3 314.5 L109 316.6 L109.4 318.9 L109.4 321.5 L109.2 324.2 L108.6 327 L107.6 329.8 L106.4 332.6 L104.9 335.3 L103.2 337.8 L101.3 340 L99.3 341.9 L97.2 343.5 L95 344.7 L92.9 345.5 L90.8 345.8 L88.9 345.8 L87.1 345.2 L85.5 344.2 L84.2 342.9 L83.2 341.1 L82.4 339.1 L82.1 336.7 L82 334.2Z" fill="#a6a9ab" stroke="#222222" stroke-width="1.1" />
<path d="M84.5 333 L84.7 330.8 L85.2 328.5 L86 326.2 L87 323.9 L88.2 321.7 L89.6 319.7 L91.1 317.8 L92.8 316.2 L94.5 314.9 L96.3 314 L98 313.3 L99.8 313 L101.3 313.1 L102.8 313.6 L106.7 315.8 L108 316.6 L109.1 317.7 L109.9 319.1 L110.5 320.8 L110.8 322.7 L110.9 324.8 L110.7 327.1 L110.2 329.4 L109.4 331.7 L108.4 334 L107.2 336.1 L105.8 338.2 L104.2 340 L102.6 341.6 L100.8 342.9 L99 343.9 L97.3 344.5 L95.6 344.8 L94 344.7 L92.5 344.3 L88.6 342.1 L87.3 341.3 L86.3 340.2 L85.4 338.7 L84.8 337 L84.5 335.1Z" fill="#8f9295" stroke="#222222" stroke-width="1.1" />
<path d="M85.9 336.4 L86.2 333.6 L86.8 330.8 L87.7 328 L88.9 325.2 L90.4 322.6 L92.1 320.1 L94 317.9 L96.1 315.9 L98.2 314.3 L100.3 313.1 L102.5 312.4 L104.5 312 L106.5 312.1 L108.3 312.6 L112.6 315.1 L114.2 316.1 L115.5 317.4 L116.5 319.2 L117.3 321.2 L117.7 323.6 L117.7 326.2 L117.5 328.9 L116.8 331.7 L115.9 334.5 L114.7 337.3 L113.2 340 L111.5 342.4 L109.6 344.7 L107.6 346.6 L105.5 348.2 L103.3 349.4 L101.2 350.2 L99.1 350.5 L97.1 350.4 L95.4 349.9 L91 347.4 L89.4 346.5 L88.1 345.1 L87.1 343.4 L86.4 341.3 L86 338.9Z" fill="#b4b7b9" stroke="#222222" stroke-width="1.1" />
<path d="M90.3 338.8 L90.6 336.1 L91.2 333.3 L92.1 330.5 L93.3 327.7 L94.8 325 L96.5 322.6 L98.4 320.3 L100.4 318.4 L102.5 316.8 L104.7 315.6 L106.8 314.8 L108.9 314.5 L110.9 314.6 L112.6 315.1 L114.2 316.1 L115.5 317.4 L116.6 319.2 L117.3 321.3 L117.7 323.6 L117.7 326.2 L117.4 328.9 L116.8 331.7 L115.9 334.5 L114.7 337.3 L113.2 340 L111.5 342.4 L109.6 344.7 L107.6 346.6 L105.5 348.2 L103.3 349.4 L101.2 350.2 L99.1 350.5 L97.1 350.4 L95.4 349.9 L93.8 348.9 L92.5 347.6 L91.4 345.8 L90.7 343.7 L90.3 341.4 L90.3 338.8Z" fill="#a6a9ab" stroke="#222222" stroke-width="1.1" />
<path d="M93 337.6 L93.2 335.4 L93.7 333.1 L94.5 330.9 L95.4 328.7 L96.6 326.5 L98 324.5 L99.5 322.8 L101.1 321.2 L102.8 319.9 L104.6 319 L106.3 318.4 L107.9 318.1 L109.5 318.2 L110.9 318.6 L112.2 319.4 L113.2 320.5 L114 321.8 L114.6 323.5 L114.9 325.4 L115 327.4 L114.8 329.6 L114.3 331.9 L113.5 334.1 L112.6 336.3 L111.4 338.5 L110 340.5 L108.5 342.2 L106.9 343.8 L105.2 345.1 L103.4 346 L101.7 346.6 L100.1 346.9 L98.5 346.8 L97.1 346.4 L95.8 345.6 L94.8 344.5 L94 343.2 L93.4 341.5 L93.1 339.6 L93 337.6Z" fill="#aeb1b3" stroke="#222222" stroke-width="0.9" />
<path d="M111.5 332.7 L106.9 334.8 L106.6 340.6 L100.6 343.4 L100.8 337.6 L96.2 339.8 L96.5 332.3 L101.1 330.2 L101.4 324.4 L107.4 321.6 L107.2 327.4 L111.8 325.2Z" fill="#8e9194" stroke="#222222" stroke-width="1.1" />
</g>
<g stroke-linejoin="round">
<path d="M181.8 321.5 L181.8 319.7 L182 318.1 L182.3 316.6 L182.7 315.3 L183.2 314.2 L183.8 313.4 L184.5 312.8 L214.6 299.4 L215.4 299.1 L216.1 299.1 L216.9 299.4 L217.7 299.9 L218.4 300.7 L219.1 301.8 L219.8 303 L220.4 304.5 L220.9 306.1 L221.3 307.8 L221.6 309.6 L221.8 311.5 L221.8 313.3 L221.8 315 L221.6 316.6 L221.3 318.1 L220.9 319.4 L220.4 320.5 L219.8 321.4 L219.1 321.9 L189 335.3 L188.3 335.6 L187.5 335.7 L186.7 335.4 L186 334.9 L185.2 334 L184.5 333 L183.8 331.7 L183.2 330.2 L182.7 328.6 L182.3 326.9 L182 325.1 L181.8 323.3Z" fill="#1f4fa0" stroke="#0a1d48" stroke-width="1.1" />
<path d="M207 309.9 L207 308 L207.2 306.3 L207.6 304.6 L208 303.2 L208.5 302.1 L209.2 301.2 L209.9 300.5 L214.5 298.5 L215.2 298.2 L216.1 298.1 L216.9 298.4 L217.7 299 L218.6 299.9 L219.3 301.1 L220 302.4 L220.7 304 L221.2 305.8 L221.7 307.6 L222 309.6 L222.2 311.5 L222.2 313.5 L222.2 315.4 L222 317.1 L221.7 318.7 L221.2 320.1 L220.7 321.3 L220 322.2 L219.3 322.9 L214.8 324.9 L214 325.2 L213.2 325.2 L212.3 324.9 L211.5 324.4 L210.7 323.5 L209.9 322.3 L209.2 320.9 L208.5 319.4 L208 317.6 L207.6 315.8 L207.2 313.8 L207 311.9Z" fill="#1f4fa0" stroke="#0a1d48" stroke-width="1.1" />
<path d="M198.6 322.8 L209.6 317.9" stroke="#0a1d48" stroke-width="2.4" fill="none" stroke-linecap="round"/>
<path d="M198.6 322.8 L209.6 317.9" stroke="#163c80" stroke-width="1.1" fill="none" stroke-linecap="round"/>
<path d="M198.6 314.8 L209.6 310" stroke="#0a1d48" stroke-width="2.4" fill="none" stroke-linecap="round"/>
<path d="M198.6 314.8 L209.6 310" stroke="#163c80" stroke-width="1.1" fill="none" stroke-linecap="round"/>
<path d="M175.9 322.8 L175.9 320.6 L176.2 318.5 L176.6 316.6 L177.1 315 L177.7 313.6 L178.5 312.5 L179.3 311.8 L183.9 309.7 L184.8 309.4 L185.8 309.3 L186.7 309.7 L187.7 310.4 L188.7 311.4 L189.6 312.7 L190.4 314.4 L191.2 316.2 L191.8 318.3 L192.3 320.5 L192.7 322.8 L192.9 325.1 L193 327.4 L192.9 329.6 L192.7 331.7 L192.3 333.6 L191.8 335.2 L191.2 336.6 L190.4 337.7 L189.6 338.4 L185 340.4 L184.1 340.8 L183.2 340.8 L182.2 340.5 L181.2 339.8 L180.2 338.8 L179.3 337.4 L178.5 335.8 L177.7 333.9 L177.1 331.9 L176.6 329.7 L176.2 327.4 L175.9 325.1Z" fill="#1f4fa0" stroke="#0a1d48" stroke-width="1.1" />
<path d="M188.5 329.4 L188.4 327.1 L188.2 324.8 L187.8 322.5 L187.3 320.3 L186.6 318.3 L185.9 316.4 L185 314.8 L184.1 313.4 L183.1 312.4 L182.2 311.7 L181.2 311.4 L180.2 311.4 L179.3 311.8 L178.5 312.5 L177.7 313.6 L177.1 315 L176.5 316.6 L176.2 318.5 L175.9 320.6 L175.9 322.8 L175.9 325.1 L176.2 327.4 L176.5 329.7 L177.1 331.9 L177.7 334 L178.5 335.8 L179.3 337.4 L180.2 338.8 L181.2 339.8 L182.2 340.5 L183.1 340.8 L184.1 340.8 L185 340.4 L185.9 339.7 L186.6 338.6 L187.3 337.2 L187.8 335.6 L188.2 333.7 L188.4 331.6 L188.5 329.4Z" fill="#1f4fa0" stroke="#0a1d48" stroke-width="1.1" />
<path d="M147.6 337.2 L147.6 335.6 L147.8 334.2 L148.1 332.9 L148.4 331.7 L148.9 330.7 L149.4 330 L150 329.5 L180.2 316.1 L180.8 315.8 L181.5 315.8 L182.2 316 L182.8 316.5 L183.5 317.2 L184.2 318.2 L184.8 319.3 L185.3 320.6 L185.7 322.1 L186.1 323.6 L186.4 325.2 L186.5 326.8 L186.6 328.4 L186.5 330 L186.4 331.4 L186.1 332.7 L185.7 333.9 L185.3 334.9 L184.8 335.6 L184.2 336.1 L154 349.5 L153.4 349.8 L152.7 349.8 L152 349.6 L151.3 349.1 L150.6 348.4 L150 347.4 L149.4 346.3 L148.9 345 L148.4 343.6 L148.1 342 L147.8 340.4 L147.6 338.8Z" fill="#1f4fa0" stroke="#0a1d48" stroke-width="1.1" />
<path d="M152 344 L182.2 330.6" stroke="#0a1d48" stroke-width="1" fill="none" />
<path d="M152 338.5 L182.2 325.1" stroke="#0a1d48" stroke-width="1" fill="none" />
<path d="M152 334 L182.2 320.6" stroke="#0a1d48" stroke-width="1" fill="none" />
<path d="M147.6 341 L150.3 342.5 L150.3 348.7 L153.7 350.5 L153.7 344.2 L156.4 345.6 L156.4 338 L153.7 336.5 L153.7 330.3 L150.3 328.5 L150.3 334.8 L147.6 333.4Z" fill="#1f4fa0" stroke="#0a1d48" stroke-width="1.1" />
</g>
<g transform="translate(60,255) scale(0.16507)" stroke="#222222" stroke-width="6.5" stroke-linejoin="round" stroke-linecap="round" fill="none">
<ellipse cx="1385" cy="185" rx="62" ry="105" transform="rotate(-14 1385 185)" fill="#8e9194"/>
<path d="M1190 165 L1340 95 C1400 95 1440 160 1430 250 L1300 330 L1150 300Z" fill="#a9acae"/>
<path d="M1140 300 L1140 410 C1150 440 1180 450 1300 560 C1340 580 1400 570 1440 530 C1465 490 1465 440 1450 390 L1430 240 L1300 320Z" fill="#a3a6a8"/>
<path d="M1300 330 L1300 560" stroke-width="5"/>
<path d="M1310 300 L1400 250 M1318 285 L1395 240" stroke-width="5"/>
<g transform="translate(1372 480) rotate(-32)"><ellipse rx="100" ry="84" fill="#a9acae"/><ellipse cx="-2" cy="4" rx="84" ry="68" fill="#8e9194" stroke-width="5"/><ellipse cx="-6" cy="8" rx="70" ry="54" fill="#b3b6b8" stroke-width="5"/></g>
<g transform="translate(1215 265) rotate(-8)"><ellipse rx="82" ry="112" fill="#a6a9ab"/><ellipse rx="66" ry="94" fill="#9b9ea0" stroke-width="5"/><path d="M-20 -62 L20 -58 L22 -22 L52 -18 L50 22 L22 24 L20 60 L-20 56 L-22 20 L-52 16 L-50 -24 L-22 -26Z" fill="#6f7275" stroke-width="5"/></g>
</g>
<g stroke-linejoin="round" stroke-linecap="round">
<path d="M322.1 333.5 L322.2 331.7 L322.7 329.7 L323.3 327.7 L324.2 325.7 L325.2 323.7 L326.5 321.8 L327.9 319.9 L329.5 318.1 L331.1 316.5 L332.9 315 L334.7 313.8 L336.5 312.7 L431.6 264.1 L433.4 263.3 L435.2 262.7 L436.9 262.4 L438.5 262.4 L440 262.6 L441.3 263.1 L453.5 270.7 L454.7 271.4 L455.6 272.4 L456.4 273.6 L456.9 275 L457.2 276.5 L457.2 278.3 L457.1 280.1 L456.6 282.1 L456 284.1 L455.1 286.1 L454.1 288.1 L452.8 290.1 L451.4 291.9 L449.8 293.7 L448.2 295.3 L446.4 296.8 L444.6 298.1 L442.8 299.1 L347.7 347.7 L345.9 348.5 L344.1 349.1 L342.4 349.4 L340.8 349.4 L339.3 349.2 L338 348.7 L325.8 341.1 L324.6 340.4 L323.7 339.4 L322.9 338.2 L322.4 336.8 L322.1 335.3Z" fill="#b4b7b9" stroke="#222222" stroke-width="1.1" />
<path d="M442.8 299.1 L444.6 298.1 L446.4 296.8 L448.2 295.3 L449.8 293.7 L451.4 291.9 L452.8 290 L454.1 288.1 L455.1 286.1 L456 284.1 L456.6 282.1 L457.1 280.1 L457.2 278.3 L457.2 276.5 L456.9 275 L456.4 273.6 L455.6 272.4 L454.7 271.4 L453.5 270.7 L452.2 270.2 L450.7 270 L449.1 270 L447.4 270.3 L445.6 270.9 L443.8 271.7 L348.7 320.3 L346.9 321.3 L345.1 322.6 L343.3 324.1 L341.7 325.7 L340.1 327.5 L338.7 329.4 L337.4 331.3 L336.4 333.3 L335.5 335.3 L334.9 337.3 L334.4 339.3 L334.3 341.1 L334.3 342.9 L334.6 344.4 L335.1 345.8 L335.9 347 L336.8 348 L338 348.7 L339.3 349.2 L340.8 349.4 L342.4 349.4 L344.1 349.1 L345.9 348.5 L347.7 347.7Z" fill="#a6a9ab" stroke="#222222" stroke-width="1.1" />
<path d="M442.9 296.4 L444.4 295.5 L445.8 294.5 L447.2 293.3 L448.5 292 L449.8 290.6 L450.9 289.1 L451.9 287.5 L452.8 285.9 L453.5 284.3 L454 282.7 L454.3 281.2 L454.5 279.7 L454.4 278.3 L454.2 277.1 L453.8 275.9 L453.2 275 L452.4 274.2 L451.5 273.6 L450.4 273.2 L449.2 273.1 L447.9 273.1 L446.6 273.3 L445.2 273.8 L443.7 274.4 L348.6 323 L347.1 323.9 L345.7 324.9 L344.3 326.1 L343 327.4 L341.7 328.8 L340.6 330.3 L339.6 331.9 L338.7 333.5 L338 335.1 L337.5 336.7 L337.2 338.2 L337 339.7 L337.1 341.1 L337.3 342.3 L337.7 343.5 L338.3 344.4 L339.1 345.2 L340 345.8 L341.1 346.2 L342.3 346.3 L343.6 346.3 L344.9 346.1 L346.3 345.6 L347.8 345Z" fill="none" stroke="#222222" stroke-width="0.9" />
<path d="M359 318 L369.8 312.5 L367.5 317.8 L367.3 322.2 L361 325.5 L361.1 321Z" fill="#8f9295" stroke="#222222" stroke-width="0.9" />
<path d="M358.3 339.3 L369.1 333.8 L367 330.8 L367.1 326.3 L360.8 329.6 L360.6 334Z" fill="#8f9295" stroke="#222222" stroke-width="0.9" />
<path d="M338.9 341.5 L345.1 338.3 L344.9 344.1 L350.9 341 L351.1 335.3 L357.3 332.1 L357.5 326.5 L351.3 329.7 L351.5 323.9 L345.5 327 L345.3 332.7 L339.1 335.9Z" fill="#7d8083" stroke="#222222" stroke-width="1.1" />
<path d="M393 300.7 L399.3 297.5 L395.9 305Z" fill="#8f9295" stroke="#222222" stroke-width="0.9" />
<path d="M392.2 321.9 L398.5 318.7 L395.6 314.4Z" fill="#8f9295" stroke="#222222" stroke-width="0.9" />
<path d="M393.2 311 L393.1 309.1 L392.7 307.5 L392 306.1 L390.9 305 L389.6 304.2 L388.1 303.8 L386.3 303.7 L384.4 303.9 L382.4 304.5 L380.4 305.4 L378.3 306.6 L376.2 308.1 L374.3 309.9 L372.4 311.8 L370.8 313.9 L369.4 316 L368.2 318.2 L367.4 320.4 L366.8 322.6 L366.6 324.6 L366.7 326.5 L367.1 328.1 L367.8 329.5 L368.9 330.6 L370.2 331.4 L371.7 331.8 L373.5 331.9 L375.4 331.7 L377.4 331.1 L379.4 330.2 L381.5 329 L383.6 327.5 L385.5 325.7 L387.4 323.8 L389 321.7 L390.4 319.6 L391.6 317.4 L392.4 315.2 L393 313 L393.2 311Z" fill="#aeb1b3" stroke="#222222" stroke-width="1.1" />
<path d="M391.8 312.3 L391.7 310.7 L391.3 309.4 L390.7 308.2 L389.8 307.3 L388.7 306.6 L387.4 306.2 L386 306.1 L384.4 306.3 L382.6 306.8 L380.9 307.6 L379.1 308.6 L377.4 309.9 L375.7 311.4 L374.2 313 L372.8 314.7 L371.6 316.6 L370.7 318.4 L369.9 320.3 L369.5 322.1 L369.3 323.8 L369.3 325.4 L369.7 326.8 L370.3 327.9 L371.2 328.9 L372.3 329.5 L373.6 329.9 L375.1 330 L376.7 329.8 L378.4 329.3 L380.1 328.5 L381.9 327.5 L383.6 326.2 L385.3 324.8 L386.8 323.1 L388.2 321.4 L389.4 319.6 L390.4 317.7 L391.1 315.8 L391.6 314 L391.8 312.3Z" fill="#aeb1b3" stroke="#222222" stroke-width="0.9" />
<path d="M390 313.5 L389.9 312.2 L389.7 311.1 L389.2 310.1 L388.4 309.4 L387.5 308.8 L386.5 308.5 L385.3 308.5 L384 308.6 L382.6 309 L381.1 309.7 L379.7 310.5 L378.3 311.5 L376.9 312.7 L375.7 314 L374.5 315.5 L373.6 317 L372.8 318.5 L372.2 320 L371.8 321.5 L371.6 322.9 L371.7 324.2 L372 325.3 L372.5 326.3 L373.2 327 L374.1 327.6 L375.2 327.9 L376.4 327.9 L377.7 327.8 L379.1 327.4 L380.5 326.7 L381.9 325.9 L383.4 324.9 L384.7 323.7 L386 322.3 L387.1 320.9 L388.1 319.4 L388.9 317.9 L389.5 316.4 L389.8 314.9 L390 313.5Z" fill="#bce3f7" stroke="#222222" stroke-width="1.1" />
<clipPath id="c173"><path d="M390 313.5 L389.9 312.2 L389.7 311.1 L389.2 310.1 L388.4 309.4 L387.5 308.8 L386.5 308.5 L385.3 308.5 L384 308.6 L382.6 309 L381.1 309.7 L379.7 310.5 L378.3 311.5 L376.9 312.7 L375.7 314 L374.5 315.5 L373.6 317 L372.8 318.5 L372.2 320 L371.8 321.5 L371.6 322.9 L371.7 324.2 L372 325.3 L372.5 326.3 L373.2 327 L374.1 327.6 L375.2 327.9 L376.4 327.9 L377.7 327.8 L379.1 327.4 L380.5 326.7 L381.9 325.9 L383.4 324.9 L384.7 323.7 L386 322.3 L387.1 320.9 L388.1 319.4 L388.9 317.9 L389.5 316.4 L389.8 314.9 L390 313.5Z"/></clipPath>
<path d="M392.5 314.3 L392.4 312.9 L392.1 311.8 L391.6 310.8 L390.8 310 L389.9 309.4 L388.8 309.1 L387.6 309 L386.2 309.2 L384.8 309.6 L383.3 310.3 L381.8 311.2 L380.3 312.2 L378.9 313.5 L377.6 314.8 L376.5 316.3 L375.5 317.9 L374.6 319.4 L374 321 L373.6 322.5 L373.5 324 L373.5 325.3 L373.8 326.5 L374.3 327.5 L375.1 328.3 L376 328.8 L377.1 329.1 L378.4 329.2 L379.7 329 L381.2 328.6 L382.6 328 L384.1 327.1 L385.6 326 L387 324.8 L388.3 323.4 L389.5 321.9 L390.5 320.4 L391.3 318.8 L391.9 317.2 L392.3 315.7 L392.5 314.3Z" fill="#8e9194" stroke="#222222" stroke-width="0.9" clip-path="url(#c173)"/>
<path d="M422.4 285.6 L433.2 280.1 L430.9 285.4 L430.7 289.8 L424.4 293.1 L424.5 288.6Z" fill="#8f9295" stroke="#222222" stroke-width="0.9" />
<path d="M421.7 306.9 L432.5 301.4 L430.4 298.4 L430.5 293.9 L424.2 297.2 L424 301.6Z" fill="#8f9295" stroke="#222222" stroke-width="0.9" />
<path d="M424.9 294.8 L424.8 292.9 L424.4 291.3 L423.7 289.9 L422.6 288.8 L421.3 288 L419.8 287.6 L418 287.5 L416.1 287.7 L414.1 288.3 L412.1 289.2 L410 290.4 L407.9 291.9 L406 293.7 L404.1 295.6 L402.5 297.7 L401.1 299.8 L399.9 302 L399.1 304.2 L398.5 306.4 L398.3 308.4 L398.4 310.3 L398.8 311.9 L399.5 313.3 L400.6 314.4 L401.9 315.2 L403.4 315.6 L405.2 315.7 L407.1 315.5 L409.1 314.9 L411.1 314 L413.2 312.8 L415.3 311.3 L417.2 309.5 L419.1 307.6 L420.7 305.5 L422.1 303.4 L423.3 301.2 L424.1 299 L424.7 296.8 L424.9 294.8Z" fill="#aeb1b3" stroke="#222222" stroke-width="1.1" />
<path d="M423.5 296.1 L423.4 294.5 L423 293.2 L422.4 292 L421.5 291.1 L420.4 290.4 L419.1 290 L417.7 289.9 L416.1 290.1 L414.3 290.6 L412.6 291.4 L410.8 292.4 L409.1 293.7 L407.4 295.2 L405.9 296.8 L404.5 298.5 L403.3 300.4 L402.4 302.2 L401.6 304.1 L401.2 305.9 L401 307.6 L401 309.2 L401.4 310.6 L402 311.7 L402.9 312.7 L404 313.3 L405.3 313.7 L406.8 313.8 L408.4 313.6 L410.1 313.1 L411.8 312.3 L413.6 311.3 L415.3 310 L417 308.6 L418.5 306.9 L419.9 305.2 L421.1 303.4 L422.1 301.5 L422.8 299.6 L423.3 297.8 L423.5 296.1Z" fill="#aeb1b3" stroke="#222222" stroke-width="0.9" />
<path d="M421.7 297.3 L421.6 296 L421.4 294.9 L420.9 293.9 L420.1 293.2 L419.2 292.6 L418.2 292.3 L417 292.3 L415.7 292.4 L414.3 292.8 L412.8 293.5 L411.4 294.3 L410 295.3 L408.6 296.5 L407.4 297.8 L406.2 299.3 L405.3 300.8 L404.5 302.3 L403.9 303.8 L403.5 305.3 L403.3 306.7 L403.4 308 L403.7 309.1 L404.2 310.1 L404.9 310.8 L405.8 311.4 L406.9 311.7 L408.1 311.7 L409.4 311.6 L410.8 311.2 L412.2 310.5 L413.6 309.7 L415.1 308.7 L416.4 307.5 L417.7 306.1 L418.8 304.7 L419.8 303.2 L420.6 301.7 L421.2 300.2 L421.5 298.7 L421.7 297.3Z" fill="#bce3f7" stroke="#222222" stroke-width="1.1" />
<clipPath id="c180"><path d="M421.7 297.3 L421.6 296 L421.4 294.9 L420.9 293.9 L420.1 293.2 L419.2 292.6 L418.2 292.3 L417 292.3 L415.7 292.4 L414.3 292.8 L412.8 293.5 L411.4 294.3 L410 295.3 L408.6 296.5 L407.4 297.8 L406.2 299.3 L405.3 300.8 L404.5 302.3 L403.9 303.8 L403.5 305.3 L403.3 306.7 L403.4 308 L403.7 309.1 L404.2 310.1 L404.9 310.8 L405.8 311.4 L406.9 311.7 L408.1 311.7 L409.4 311.6 L410.8 311.2 L412.2 310.5 L413.6 309.7 L415.1 308.7 L416.4 307.5 L417.7 306.1 L418.8 304.7 L419.8 303.2 L420.6 301.7 L421.2 300.2 L421.5 298.7 L421.7 297.3Z"/></clipPath>
<path d="M424.2 298.1 L424.1 296.7 L423.8 295.6 L423.3 294.6 L422.5 293.8 L421.6 293.2 L420.5 292.9 L419.3 292.8 L417.9 293 L416.5 293.4 L415 294.1 L413.5 295 L412 296 L410.6 297.3 L409.3 298.6 L408.2 300.1 L407.2 301.7 L406.3 303.2 L405.7 304.8 L405.3 306.3 L405.2 307.8 L405.2 309.1 L405.5 310.3 L406 311.3 L406.8 312.1 L407.7 312.6 L408.8 312.9 L410.1 313 L411.4 312.8 L412.9 312.4 L414.3 311.8 L415.8 310.9 L417.3 309.8 L418.7 308.6 L420 307.2 L421.2 305.7 L422.2 304.2 L423 302.6 L423.6 301 L424 299.5 L424.2 298.1Z" fill="#8e9194" stroke="#222222" stroke-width="0.9" clip-path="url(#c180)"/>
<path d="M434 292.9 L440.2 289.7 L440 295.5 L446 292.4 L446.2 286.7 L452.4 283.5 L452.6 277.9 L446.4 281.1 L446.6 275.3 L440.6 278.4 L440.4 284.1 L434.2 287.3Z" fill="#7d8083" stroke="#222222" stroke-width="1.1" />
</g>
<g stroke-linejoin="round">
<path d="M1259.7 338.6 L1265 336 L1297.5 352.2 L1292.1 354.9Z" fill="#6a9be0" stroke="#6b7581" stroke-width="0.9" />
<path d="M1253.9 353.4 L1253.9 347.7 L1286.3 364 L1286.3 369.7Z" fill="#5b8ed6" stroke="#6b7581" stroke-width="0.9" />
<path d="M1253.9 335.7 L1259.7 332.9 L1292.1 349.1 L1286.3 352Z" fill="#6a9be0" stroke="#6b7581" stroke-width="0.9" />
<path d="M1253.9 341.5 L1253.9 335.7 L1286.3 352 L1286.3 357.7Z" fill="#5b8ed6" stroke="#6b7581" stroke-width="0.9" />
<path d="M1248.6 350.3 L1248.6 344.1 L1281 360.4 L1281 366.6Z" fill="#5b8ed6" stroke="#6b7581" stroke-width="0.9" />
<path d="M1248.6 344.1 L1253.9 341.5 L1286.3 357.7 L1281 360.4Z" fill="#6a9be0" stroke="#6b7581" stroke-width="0.9" />
</g>
<g stroke-linejoin="round">
<path d="M1076.7 429.2 L1082 426.6 L1114.5 442.8 L1109.1 445.5Z" fill="#6a9be0" stroke="#6b7581" stroke-width="0.9" />
<path d="M1070.9 444 L1070.9 438.3 L1103.3 454.6 L1103.3 460.3Z" fill="#5b8ed6" stroke="#6b7581" stroke-width="0.9" />
<path d="M1070.9 426.3 L1076.7 423.5 L1109.1 439.7 L1103.3 442.6Z" fill="#6a9be0" stroke="#6b7581" stroke-width="0.9" />
<path d="M1070.9 432.1 L1070.9 426.3 L1103.3 442.6 L1103.3 448.3Z" fill="#5b8ed6" stroke="#6b7581" stroke-width="0.9" />
<path d="M1065.6 440.9 L1065.6 434.7 L1098 451 L1098 457.2Z" fill="#5b8ed6" stroke="#6b7581" stroke-width="0.9" />
<path d="M1065.6 434.7 L1070.9 432.1 L1103.3 448.3 L1098 451Z" fill="#6a9be0" stroke="#6b7581" stroke-width="0.9" />
</g>
<g stroke-linejoin="round">
<path d="M997.8 501.1 L997.9 498.9 L998.3 496.6 L999 494.2 L999.9 491.8 L1001 489.5 L1002.3 487.2 L1003.8 485 L1005.5 483 L1007.3 481.1 L1009.2 479.5 L1011.2 478.1 L1013.2 476.9 L1321.2 324.4 L1350 339.9 L1350 373.1 L1347 374.6 L1042 525.6 L1040 526.4 L1038 527 L1036.1 527.2 L1034.3 527.2 L1032.6 526.8 L1031.1 526.1 L1002.3 510.6 L1001 509.6 L999.9 508.4 L999 506.9 L998.3 505.1 L997.9 503.2Z" fill="#f5b368" stroke="#5f6870" stroke-width="1.3" />
<path d="M1042 525.6 L1040 526.4 L1038 527 L1036.1 527.2 L1034.3 527.2 L1032.6 526.8 L1031.1 526.1 L1029.8 525.1 L1028.7 523.9 L1027.8 522.4 L1027.1 520.7 L1026.7 518.7 L1026.6 516.6 L1026.7 514.4 L1027.1 512.1 L1027.8 509.7 L1028.7 507.3 L1029.8 505 L1031.1 502.7 L1032.6 500.5 L1034.3 498.5 L1036.1 496.6 L1038 495 L1040 493.6 L1042 492.4 L1347 341.4 L1350 339.9 L1350 373.1 L1347 374.6Z" fill="#f3ad60" stroke="#5f6870" stroke-width="1.3" />
<path d="M1042 523.9 L1040.2 524.7 L1038.4 525.2 L1036.7 525.4 L1035.1 525.3 L1033.6 525 L1032.2 524.4 L1031 523.5 L1030 522.4 L1029.2 521 L1028.6 519.5 L1028.3 517.8 L1028.1 515.9 L1028.3 513.9 L1028.6 511.8 L1029.2 509.6 L1030 507.5 L1031 505.4 L1032.2 503.3 L1033.6 501.4 L1035.1 499.5 L1036.7 497.9 L1038.4 496.4 L1040.2 495.1 L1042 494.1 L1347 343.1 L1348.8 342.3 L1350.6 341.8 L1352.3 341.6 L1353.9 341.7 L1355.4 342 L1356.8 342.6 L1358 343.5 L1359 344.6 L1359.8 346 L1360.4 347.5 L1360.7 349.2 L1360.9 351.1 L1360.7 353.1 L1360.4 355.2 L1359.8 357.4 L1359 359.5 L1358 361.6 L1356.8 363.7 L1355.4 365.6 L1353.9 367.5 L1352.3 369.1 L1350.6 370.6 L1348.8 371.9 L1347 372.9Z" fill="none" stroke="#5f6870" stroke-width="0.9" />
<path d="M1337.8 350.7 L1325.7 356.8 L1330.8 363.7 L1332.7 362.8ZM1337.8 374.3 L1325.7 380.4 L1330.8 368.3 L1332.7 367.4Z" fill="#f0a857" stroke="#5f6870" stroke-width="1" />
<path d="M1334.2 364.3 L1334.3 362.1 L1334.8 359.8 L1335.6 357.4 L1336.6 355 L1337.9 352.7 L1339.5 350.6 L1341.2 348.6 L1343 346.9 L1345 345.4 L1347 344.2 L1349 343.4 L1351 342.9 L1352.8 342.8 L1354.5 343.1 L1356.1 343.8 L1357.4 344.8 L1358.4 346.1 L1359.2 347.7 L1359.7 349.6 L1359.8 351.7 L1359.7 353.9 L1359.2 356.2 L1358.4 358.6 L1357.4 361 L1356.1 363.3 L1354.5 365.4 L1352.8 367.4 L1351 369.1 L1349 370.6 L1347 371.8 L1345 372.6 L1343 373.1 L1341.2 373.2 L1339.5 372.9 L1337.9 372.2 L1336.6 371.2 L1335.6 369.9 L1334.8 368.3 L1334.3 366.4 L1334.2 364.3Z" fill="#f3ad60" stroke="#5f6870" stroke-width="1.1" />
<path d="M1335.2 364 L1335.4 362.1 L1335.8 360.1 L1336.4 358.1 L1337.3 356.1 L1338.4 354.1 L1339.7 352.2 L1341.2 350.5 L1342.8 349 L1344.5 347.8 L1346.2 346.8 L1347.9 346.1 L1349.6 345.7 L1351.2 345.6 L1352.7 345.9 L1354 346.4 L1355.1 347.3 L1356 348.4 L1356.6 349.8 L1357 351.4 L1357.2 353.2 L1357 355.1 L1356.6 357.1 L1356 359.1 L1355.1 361.1 L1354 363.1 L1352.7 365 L1351.2 366.7 L1349.6 368.2 L1347.9 369.4 L1346.2 370.4 L1344.5 371.1 L1342.8 371.5 L1341.2 371.6 L1339.7 371.3 L1338.4 370.8 L1337.3 369.9 L1336.4 368.8 L1335.8 367.4 L1335.4 365.8 L1335.2 364Z" fill="none" stroke="#5f6870" stroke-width="1" />
<path d="M1339.3 361.6 L1339.4 360.1 L1339.7 358.6 L1340.2 357 L1340.9 355.4 L1341.8 353.9 L1342.8 352.5 L1343.9 351.1 L1345.2 350 L1346.5 349 L1347.8 348.2 L1349.1 347.7 L1350.4 347.4 L1351.7 347.3 L1352.8 347.5 L1353.8 347.9 L1354.7 348.6 L1355.4 349.5 L1355.9 350.5 L1356.2 351.8 L1356.3 353.2 L1356.2 354.7 L1355.9 356.2 L1355.4 357.8 L1354.7 359.4 L1353.8 360.9 L1352.8 362.3 L1351.7 363.7 L1350.4 364.8 L1349.1 365.8 L1347.8 366.6 L1346.5 367.1 L1345.2 367.4 L1343.9 367.5 L1342.8 367.3 L1341.8 366.9 L1340.9 366.2 L1340.2 365.3 L1339.7 364.3 L1339.4 363 L1339.3 361.6Z" fill="#f6b66c" stroke="#5f6870" stroke-width="1" />
<path d="M1307.3 365.8 L1295.2 371.9 L1300.3 378.8 L1302.2 377.9ZM1307.3 389.4 L1295.2 395.5 L1300.3 383.4 L1302.2 382.5Z" fill="#f0a857" stroke="#5f6870" stroke-width="1" />
<path d="M1303.7 379.4 L1303.8 377.2 L1304.3 374.9 L1305.1 372.5 L1306.1 370.1 L1307.4 367.8 L1309 365.7 L1310.7 363.7 L1312.5 362 L1314.5 360.5 L1316.5 359.3 L1318.5 358.5 L1320.5 358 L1322.3 357.9 L1324 358.2 L1325.6 358.9 L1326.9 359.9 L1327.9 361.2 L1328.7 362.8 L1329.2 364.7 L1329.3 366.8 L1329.2 369 L1328.7 371.3 L1327.9 373.7 L1326.9 376.1 L1325.6 378.4 L1324 380.5 L1322.3 382.5 L1320.5 384.2 L1318.5 385.7 L1316.5 386.9 L1314.5 387.7 L1312.5 388.2 L1310.7 388.3 L1309 388 L1307.4 387.3 L1306.1 386.3 L1305.1 385 L1304.3 383.4 L1303.8 381.5 L1303.7 379.4Z" fill="#f3ad60" stroke="#5f6870" stroke-width="1.1" />
<path d="M1304.7 379.1 L1304.9 377.2 L1305.3 375.2 L1305.9 373.2 L1306.8 371.2 L1307.9 369.2 L1309.2 367.3 L1310.7 365.6 L1312.3 364.1 L1314 362.9 L1315.7 361.9 L1317.4 361.2 L1319.1 360.8 L1320.7 360.7 L1322.2 361 L1323.5 361.5 L1324.6 362.4 L1325.5 363.5 L1326.1 364.9 L1326.5 366.5 L1326.7 368.3 L1326.5 370.2 L1326.1 372.2 L1325.5 374.2 L1324.6 376.2 L1323.5 378.2 L1322.2 380.1 L1320.7 381.8 L1319.1 383.3 L1317.4 384.5 L1315.7 385.5 L1314 386.2 L1312.3 386.6 L1310.7 386.7 L1309.2 386.4 L1307.9 385.9 L1306.8 385 L1305.9 383.9 L1305.3 382.5 L1304.9 380.9 L1304.7 379.1Z" fill="none" stroke="#5f6870" stroke-width="1" />
<path d="M1308.8 376.7 L1308.9 375.2 L1309.2 373.7 L1309.7 372.1 L1310.4 370.5 L1311.3 369 L1312.3 367.6 L1313.4 366.2 L1314.7 365.1 L1316 364.1 L1317.3 363.3 L1318.6 362.8 L1319.9 362.5 L1321.2 362.4 L1322.3 362.6 L1323.3 363 L1324.2 363.7 L1324.9 364.6 L1325.4 365.6 L1325.7 366.9 L1325.8 368.3 L1325.7 369.8 L1325.4 371.3 L1324.9 372.9 L1324.2 374.5 L1323.3 376 L1322.3 377.4 L1321.2 378.8 L1319.9 379.9 L1318.6 380.9 L1317.3 381.7 L1316 382.2 L1314.7 382.5 L1313.4 382.6 L1312.3 382.4 L1311.3 382 L1310.4 381.3 L1309.7 380.4 L1309.2 379.4 L1308.9 378.1 L1308.8 376.7Z" fill="#f6b66c" stroke="#5f6870" stroke-width="1" />
<path d="M1276.8 380.9 L1264.7 387 L1269.8 393.9 L1271.7 393ZM1276.8 404.5 L1264.7 410.6 L1269.8 398.5 L1271.7 397.6Z" fill="#f0a857" stroke="#5f6870" stroke-width="1" />
<path d="M1273.2 394.5 L1273.3 392.3 L1273.8 390 L1274.6 387.6 L1275.6 385.2 L1276.9 382.9 L1278.5 380.8 L1280.2 378.8 L1282 377.1 L1284 375.6 L1286 374.4 L1288 373.6 L1290 373.1 L1291.8 373 L1293.5 373.3 L1295.1 374 L1296.4 375 L1297.4 376.3 L1298.2 377.9 L1298.7 379.8 L1298.8 381.9 L1298.7 384.1 L1298.2 386.4 L1297.4 388.8 L1296.4 391.2 L1295.1 393.5 L1293.5 395.6 L1291.8 397.6 L1290 399.3 L1288 400.8 L1286 402 L1284 402.8 L1282 403.3 L1280.2 403.4 L1278.5 403.1 L1276.9 402.4 L1275.6 401.4 L1274.6 400.1 L1273.8 398.5 L1273.3 396.6 L1273.2 394.5Z" fill="#f3ad60" stroke="#5f6870" stroke-width="1.1" />
<path d="M1274.2 394.2 L1274.4 392.3 L1274.8 390.3 L1275.4 388.3 L1276.3 386.3 L1277.4 384.3 L1278.7 382.4 L1280.2 380.7 L1281.8 379.2 L1283.5 378 L1285.2 377 L1286.9 376.3 L1288.6 375.9 L1290.2 375.8 L1291.7 376.1 L1293 376.6 L1294.1 377.5 L1295 378.6 L1295.6 380 L1296 381.6 L1296.2 383.4 L1296 385.3 L1295.6 387.3 L1295 389.3 L1294.1 391.3 L1293 393.3 L1291.7 395.2 L1290.2 396.9 L1288.6 398.4 L1286.9 399.6 L1285.2 400.6 L1283.5 401.3 L1281.8 401.7 L1280.2 401.8 L1278.7 401.5 L1277.4 401 L1276.3 400.1 L1275.4 399 L1274.8 397.6 L1274.4 396 L1274.2 394.2Z" fill="none" stroke="#5f6870" stroke-width="1" />
<path d="M1278.3 391.8 L1278.4 390.3 L1278.7 388.8 L1279.2 387.2 L1279.9 385.6 L1280.8 384.1 L1281.8 382.7 L1282.9 381.3 L1284.2 380.2 L1285.5 379.2 L1286.8 378.4 L1288.1 377.9 L1289.4 377.6 L1290.7 377.5 L1291.8 377.7 L1292.8 378.1 L1293.7 378.8 L1294.4 379.7 L1294.9 380.7 L1295.2 382 L1295.3 383.4 L1295.2 384.9 L1294.9 386.4 L1294.4 388 L1293.7 389.6 L1292.8 391.1 L1291.8 392.5 L1290.7 393.9 L1289.4 395 L1288.1 396 L1286.8 396.8 L1285.5 397.3 L1284.2 397.6 L1282.9 397.7 L1281.8 397.5 L1280.8 397.1 L1279.9 396.4 L1279.2 395.5 L1278.7 394.5 L1278.4 393.2 L1278.3 391.8Z" fill="#f6b66c" stroke="#5f6870" stroke-width="1" />
<path d="M1246.3 396 L1234.2 402.1 L1239.3 409 L1241.2 408.1ZM1246.3 419.6 L1234.2 425.7 L1239.3 413.6 L1241.2 412.7Z" fill="#f0a857" stroke="#5f6870" stroke-width="1" />
<path d="M1242.7 409.6 L1242.8 407.4 L1243.3 405.1 L1244.1 402.7 L1245.1 400.3 L1246.4 398 L1248 395.9 L1249.7 393.9 L1251.5 392.2 L1253.5 390.7 L1255.5 389.5 L1257.5 388.7 L1259.5 388.2 L1261.3 388.1 L1263 388.4 L1264.6 389.1 L1265.9 390.1 L1266.9 391.4 L1267.7 393 L1268.2 394.9 L1268.3 397 L1268.2 399.2 L1267.7 401.5 L1266.9 403.9 L1265.9 406.3 L1264.6 408.6 L1263 410.7 L1261.3 412.7 L1259.5 414.4 L1257.5 415.9 L1255.5 417.1 L1253.5 417.9 L1251.5 418.4 L1249.7 418.5 L1248 418.2 L1246.4 417.5 L1245.1 416.5 L1244.1 415.2 L1243.3 413.6 L1242.8 411.7 L1242.7 409.6Z" fill="#f3ad60" stroke="#5f6870" stroke-width="1.1" />
<path d="M1243.7 409.3 L1243.9 407.4 L1244.3 405.4 L1244.9 403.4 L1245.8 401.4 L1246.9 399.4 L1248.2 397.5 L1249.7 395.8 L1251.3 394.3 L1253 393.1 L1254.7 392.1 L1256.4 391.4 L1258.1 391 L1259.7 390.9 L1261.2 391.2 L1262.5 391.7 L1263.6 392.6 L1264.5 393.7 L1265.1 395.1 L1265.5 396.7 L1265.7 398.5 L1265.5 400.4 L1265.1 402.4 L1264.5 404.4 L1263.6 406.4 L1262.5 408.4 L1261.2 410.3 L1259.7 412 L1258.1 413.5 L1256.4 414.7 L1254.7 415.7 L1253 416.4 L1251.3 416.8 L1249.7 416.9 L1248.2 416.6 L1246.9 416.1 L1245.8 415.2 L1244.9 414.1 L1244.3 412.7 L1243.9 411.1 L1243.7 409.3Z" fill="none" stroke="#5f6870" stroke-width="1" />
<path d="M1247.8 406.9 L1247.9 405.4 L1248.2 403.9 L1248.7 402.3 L1249.4 400.7 L1250.3 399.2 L1251.3 397.8 L1252.4 396.4 L1253.7 395.3 L1255 394.3 L1256.3 393.5 L1257.6 393 L1258.9 392.7 L1260.2 392.6 L1261.3 392.8 L1262.3 393.2 L1263.2 393.9 L1263.9 394.8 L1264.4 395.8 L1264.7 397.1 L1264.8 398.5 L1264.7 400 L1264.4 401.5 L1263.9 403.1 L1263.2 404.7 L1262.3 406.2 L1261.3 407.6 L1260.2 409 L1258.9 410.1 L1257.6 411.1 L1256.3 411.9 L1255 412.4 L1253.7 412.7 L1252.4 412.8 L1251.3 412.6 L1250.3 412.2 L1249.4 411.5 L1248.7 410.6 L1248.2 409.6 L1247.9 408.3 L1247.8 406.9Z" fill="#f6b66c" stroke="#5f6870" stroke-width="1" />
<path d="M1215.8 411.1 L1203.7 417.2 L1208.8 424.1 L1210.7 423.2ZM1215.8 434.7 L1203.7 440.8 L1208.8 428.7 L1210.7 427.8Z" fill="#f0a857" stroke="#5f6870" stroke-width="1" />
<path d="M1212.2 424.7 L1212.3 422.5 L1212.8 420.2 L1213.6 417.8 L1214.6 415.4 L1215.9 413.1 L1217.5 411 L1219.2 409 L1221 407.3 L1223 405.8 L1225 404.6 L1227 403.8 L1229 403.3 L1230.8 403.2 L1232.5 403.5 L1234.1 404.2 L1235.4 405.2 L1236.4 406.5 L1237.2 408.1 L1237.7 410 L1237.8 412.1 L1237.7 414.3 L1237.2 416.6 L1236.4 419 L1235.4 421.4 L1234.1 423.7 L1232.5 425.8 L1230.8 427.8 L1229 429.5 L1227 431 L1225 432.2 L1223 433 L1221 433.5 L1219.2 433.6 L1217.5 433.3 L1215.9 432.6 L1214.6 431.6 L1213.6 430.3 L1212.8 428.7 L1212.3 426.8 L1212.2 424.7Z" fill="#f3ad60" stroke="#5f6870" stroke-width="1.1" />
<path d="M1213.2 424.4 L1213.4 422.5 L1213.8 420.5 L1214.4 418.5 L1215.3 416.5 L1216.4 414.5 L1217.7 412.6 L1219.2 410.9 L1220.8 409.4 L1222.5 408.2 L1224.2 407.2 L1225.9 406.5 L1227.6 406.1 L1229.2 406 L1230.7 406.3 L1232 406.8 L1233.1 407.7 L1234 408.8 L1234.6 410.2 L1235 411.8 L1235.2 413.6 L1235 415.5 L1234.6 417.5 L1234 419.5 L1233.1 421.5 L1232 423.5 L1230.7 425.4 L1229.2 427.1 L1227.6 428.6 L1225.9 429.8 L1224.2 430.8 L1222.5 431.5 L1220.8 431.9 L1219.2 432 L1217.7 431.7 L1216.4 431.2 L1215.3 430.3 L1214.4 429.2 L1213.8 427.8 L1213.4 426.2 L1213.2 424.4Z" fill="none" stroke="#5f6870" stroke-width="1" />
<path d="M1217.3 422 L1217.4 420.5 L1217.7 419 L1218.2 417.4 L1218.9 415.8 L1219.8 414.3 L1220.8 412.9 L1221.9 411.5 L1223.2 410.4 L1224.5 409.4 L1225.8 408.6 L1227.1 408.1 L1228.4 407.8 L1229.7 407.7 L1230.8 407.9 L1231.8 408.3 L1232.7 409 L1233.4 409.9 L1233.9 410.9 L1234.2 412.2 L1234.3 413.6 L1234.2 415.1 L1233.9 416.6 L1233.4 418.2 L1232.7 419.8 L1231.8 421.3 L1230.8 422.7 L1229.7 424.1 L1228.4 425.2 L1227.1 426.2 L1225.8 427 L1224.5 427.5 L1223.2 427.8 L1221.9 427.9 L1220.8 427.7 L1219.8 427.3 L1218.9 426.6 L1218.2 425.7 L1217.7 424.7 L1217.4 423.4 L1217.3 422Z" fill="#f6b66c" stroke="#5f6870" stroke-width="1" />
<path d="M1185.3 426.2 L1173.2 432.3 L1178.3 439.2 L1180.2 438.3ZM1185.3 449.8 L1173.2 455.9 L1178.3 443.8 L1180.2 442.9Z" fill="#f0a857" stroke="#5f6870" stroke-width="1" />
<path d="M1181.7 439.8 L1181.8 437.6 L1182.3 435.3 L1183.1 432.9 L1184.1 430.5 L1185.4 428.2 L1187 426.1 L1188.7 424.1 L1190.5 422.4 L1192.5 420.9 L1194.5 419.7 L1196.5 418.9 L1198.5 418.4 L1200.3 418.3 L1202 418.6 L1203.6 419.3 L1204.9 420.3 L1205.9 421.6 L1206.7 423.2 L1207.2 425.1 L1207.3 427.2 L1207.2 429.4 L1206.7 431.7 L1205.9 434.1 L1204.9 436.5 L1203.6 438.8 L1202 440.9 L1200.3 442.9 L1198.5 444.6 L1196.5 446.1 L1194.5 447.3 L1192.5 448.1 L1190.5 448.6 L1188.7 448.7 L1187 448.4 L1185.4 447.7 L1184.1 446.7 L1183.1 445.4 L1182.3 443.8 L1181.8 441.9 L1181.7 439.8Z" fill="#f3ad60" stroke="#5f6870" stroke-width="1.1" />
<path d="M1182.7 439.5 L1182.9 437.6 L1183.3 435.6 L1183.9 433.6 L1184.8 431.6 L1185.9 429.6 L1187.2 427.7 L1188.7 426 L1190.3 424.5 L1192 423.3 L1193.7 422.3 L1195.4 421.6 L1197.1 421.2 L1198.7 421.1 L1200.2 421.4 L1201.5 421.9 L1202.6 422.8 L1203.5 423.9 L1204.1 425.3 L1204.5 426.9 L1204.7 428.7 L1204.5 430.6 L1204.1 432.6 L1203.5 434.6 L1202.6 436.6 L1201.5 438.6 L1200.2 440.5 L1198.7 442.2 L1197.1 443.7 L1195.4 444.9 L1193.7 445.9 L1192 446.6 L1190.3 447 L1188.7 447.1 L1187.2 446.8 L1185.9 446.3 L1184.8 445.4 L1183.9 444.3 L1183.3 442.9 L1182.9 441.3 L1182.7 439.5Z" fill="none" stroke="#5f6870" stroke-width="1" />
<path d="M1186.8 437.1 L1186.9 435.6 L1187.2 434.1 L1187.7 432.5 L1188.4 430.9 L1189.3 429.4 L1190.3 428 L1191.4 426.6 L1192.7 425.5 L1194 424.5 L1195.3 423.7 L1196.6 423.2 L1197.9 422.9 L1199.2 422.8 L1200.3 423 L1201.3 423.4 L1202.2 424.1 L1202.9 425 L1203.4 426 L1203.7 427.3 L1203.8 428.7 L1203.7 430.2 L1203.4 431.7 L1202.9 433.3 L1202.2 434.9 L1201.3 436.4 L1200.3 437.8 L1199.2 439.2 L1197.9 440.3 L1196.6 441.3 L1195.3 442.1 L1194 442.6 L1192.7 442.9 L1191.4 443 L1190.3 442.8 L1189.3 442.4 L1188.4 441.7 L1187.7 440.8 L1187.2 439.8 L1186.9 438.5 L1186.8 437.1Z" fill="#f6b66c" stroke="#5f6870" stroke-width="1" />
<path d="M1154.8 441.3 L1142.7 447.4 L1147.8 454.3 L1149.7 453.4ZM1154.8 464.9 L1142.7 471 L1147.8 458.9 L1149.7 458Z" fill="#f0a857" stroke="#5f6870" stroke-width="1" />
<path d="M1151.2 454.9 L1151.3 452.7 L1151.8 450.4 L1152.6 448 L1153.6 445.6 L1154.9 443.3 L1156.5 441.2 L1158.2 439.2 L1160 437.5 L1162 436 L1164 434.8 L1166 434 L1168 433.5 L1169.8 433.4 L1171.5 433.7 L1173.1 434.4 L1174.4 435.4 L1175.4 436.7 L1176.2 438.3 L1176.7 440.2 L1176.8 442.3 L1176.7 444.5 L1176.2 446.8 L1175.4 449.2 L1174.4 451.6 L1173.1 453.9 L1171.5 456 L1169.8 458 L1168 459.7 L1166 461.2 L1164 462.4 L1162 463.2 L1160 463.7 L1158.2 463.8 L1156.5 463.5 L1154.9 462.8 L1153.6 461.8 L1152.6 460.5 L1151.8 458.9 L1151.3 457 L1151.2 454.9Z" fill="#f3ad60" stroke="#5f6870" stroke-width="1.1" />
<path d="M1152.2 454.6 L1152.4 452.7 L1152.8 450.7 L1153.4 448.7 L1154.3 446.7 L1155.4 444.7 L1156.7 442.8 L1158.2 441.1 L1159.8 439.6 L1161.5 438.4 L1163.2 437.4 L1164.9 436.7 L1166.6 436.3 L1168.2 436.2 L1169.7 436.5 L1171 437 L1172.1 437.9 L1173 439 L1173.6 440.4 L1174 442 L1174.2 443.8 L1174 445.7 L1173.6 447.7 L1173 449.7 L1172.1 451.7 L1171 453.7 L1169.7 455.6 L1168.2 457.3 L1166.6 458.8 L1164.9 460 L1163.2 461 L1161.5 461.7 L1159.8 462.1 L1158.2 462.2 L1156.7 461.9 L1155.4 461.4 L1154.3 460.5 L1153.4 459.4 L1152.8 458 L1152.4 456.4 L1152.2 454.6Z" fill="none" stroke="#5f6870" stroke-width="1" />
<path d="M1156.3 452.2 L1156.4 450.7 L1156.7 449.2 L1157.2 447.6 L1157.9 446 L1158.8 444.5 L1159.8 443.1 L1160.9 441.7 L1162.2 440.6 L1163.5 439.6 L1164.8 438.8 L1166.1 438.3 L1167.4 438 L1168.7 437.9 L1169.8 438.1 L1170.8 438.5 L1171.7 439.2 L1172.4 440.1 L1172.9 441.1 L1173.2 442.4 L1173.3 443.8 L1173.2 445.3 L1172.9 446.8 L1172.4 448.4 L1171.7 450 L1170.8 451.5 L1169.8 452.9 L1168.7 454.3 L1167.4 455.4 L1166.1 456.4 L1164.8 457.2 L1163.5 457.7 L1162.2 458 L1160.9 458.1 L1159.8 457.9 L1158.8 457.5 L1157.9 456.8 L1157.2 455.9 L1156.7 454.9 L1156.4 453.6 L1156.3 452.2Z" fill="#f6b66c" stroke="#5f6870" stroke-width="1" />
<path d="M1124.3 456.4 L1112.2 462.5 L1117.3 469.4 L1119.2 468.5ZM1124.3 480 L1112.2 486.1 L1117.3 474 L1119.2 473.1Z" fill="#f0a857" stroke="#5f6870" stroke-width="1" />
<path d="M1120.7 470 L1120.8 467.8 L1121.3 465.5 L1122.1 463.1 L1123.1 460.7 L1124.4 458.4 L1126 456.3 L1127.7 454.3 L1129.5 452.6 L1131.5 451.1 L1133.5 449.9 L1135.5 449.1 L1137.5 448.6 L1139.3 448.5 L1141 448.8 L1142.6 449.5 L1143.9 450.5 L1144.9 451.8 L1145.7 453.4 L1146.2 455.3 L1146.3 457.4 L1146.2 459.6 L1145.7 461.9 L1144.9 464.3 L1143.9 466.7 L1142.6 469 L1141 471.1 L1139.3 473.1 L1137.5 474.8 L1135.5 476.3 L1133.5 477.5 L1131.5 478.3 L1129.5 478.8 L1127.7 478.9 L1126 478.6 L1124.4 477.9 L1123.1 476.9 L1122.1 475.6 L1121.3 474 L1120.8 472.1 L1120.7 470Z" fill="#f3ad60" stroke="#5f6870" stroke-width="1.1" />
<path d="M1121.7 469.7 L1121.9 467.8 L1122.3 465.8 L1122.9 463.8 L1123.8 461.8 L1124.9 459.8 L1126.2 457.9 L1127.7 456.2 L1129.3 454.7 L1131 453.5 L1132.7 452.5 L1134.4 451.8 L1136.1 451.4 L1137.7 451.3 L1139.2 451.6 L1140.5 452.1 L1141.6 453 L1142.5 454.1 L1143.1 455.5 L1143.5 457.1 L1143.7 458.9 L1143.5 460.8 L1143.1 462.8 L1142.5 464.8 L1141.6 466.8 L1140.5 468.8 L1139.2 470.7 L1137.7 472.4 L1136.1 473.9 L1134.4 475.1 L1132.7 476.1 L1131 476.8 L1129.3 477.2 L1127.7 477.3 L1126.2 477 L1124.9 476.5 L1123.8 475.6 L1122.9 474.5 L1122.3 473.1 L1121.9 471.5 L1121.7 469.7Z" fill="none" stroke="#5f6870" stroke-width="1" />
<path d="M1125.8 467.3 L1125.9 465.8 L1126.2 464.3 L1126.7 462.7 L1127.4 461.1 L1128.3 459.6 L1129.3 458.2 L1130.4 456.8 L1131.7 455.7 L1133 454.7 L1134.3 453.9 L1135.6 453.4 L1136.9 453.1 L1138.2 453 L1139.3 453.2 L1140.3 453.6 L1141.2 454.3 L1141.9 455.2 L1142.4 456.2 L1142.7 457.5 L1142.8 458.9 L1142.7 460.4 L1142.4 461.9 L1141.9 463.5 L1141.2 465.1 L1140.3 466.6 L1139.3 468 L1138.2 469.4 L1136.9 470.5 L1135.6 471.5 L1134.3 472.3 L1133 472.8 L1131.7 473.1 L1130.4 473.2 L1129.3 473 L1128.3 472.6 L1127.4 471.9 L1126.7 471 L1126.2 470 L1125.9 468.7 L1125.8 467.3Z" fill="#f6b66c" stroke="#5f6870" stroke-width="1" />
<path d="M1093.8 471.5 L1081.7 477.6 L1086.8 484.5 L1088.7 483.6ZM1093.8 495.1 L1081.7 501.2 L1086.8 489.1 L1088.7 488.2Z" fill="#f0a857" stroke="#5f6870" stroke-width="1" />
<path d="M1090.2 485.1 L1090.3 482.9 L1090.8 480.6 L1091.6 478.2 L1092.6 475.8 L1093.9 473.5 L1095.5 471.4 L1097.2 469.4 L1099 467.7 L1101 466.2 L1103 465 L1105 464.2 L1107 463.7 L1108.8 463.6 L1110.5 463.9 L1112.1 464.6 L1113.4 465.6 L1114.4 466.9 L1115.2 468.5 L1115.7 470.4 L1115.8 472.5 L1115.7 474.7 L1115.2 477 L1114.4 479.4 L1113.4 481.8 L1112.1 484.1 L1110.5 486.2 L1108.8 488.2 L1107 489.9 L1105 491.4 L1103 492.6 L1101 493.4 L1099 493.9 L1097.2 494 L1095.5 493.7 L1093.9 493 L1092.6 492 L1091.6 490.7 L1090.8 489.1 L1090.3 487.2 L1090.2 485.1Z" fill="#f3ad60" stroke="#5f6870" stroke-width="1.1" />
<path d="M1091.2 484.8 L1091.4 482.9 L1091.8 480.9 L1092.4 478.9 L1093.3 476.9 L1094.4 474.9 L1095.7 473 L1097.2 471.3 L1098.8 469.8 L1100.5 468.6 L1102.2 467.6 L1103.9 466.9 L1105.6 466.5 L1107.2 466.4 L1108.7 466.7 L1110 467.2 L1111.1 468.1 L1112 469.2 L1112.6 470.6 L1113 472.2 L1113.2 474 L1113 475.9 L1112.6 477.9 L1112 479.9 L1111.1 481.9 L1110 483.9 L1108.7 485.8 L1107.2 487.5 L1105.6 489 L1103.9 490.2 L1102.2 491.2 L1100.5 491.9 L1098.8 492.3 L1097.2 492.4 L1095.7 492.1 L1094.4 491.6 L1093.3 490.7 L1092.4 489.6 L1091.8 488.2 L1091.4 486.6 L1091.2 484.8Z" fill="none" stroke="#5f6870" stroke-width="1" />
<path d="M1095.3 482.4 L1095.4 480.9 L1095.7 479.4 L1096.2 477.8 L1096.9 476.2 L1097.8 474.7 L1098.8 473.3 L1099.9 471.9 L1101.2 470.8 L1102.5 469.8 L1103.8 469 L1105.1 468.5 L1106.4 468.2 L1107.7 468.1 L1108.8 468.3 L1109.8 468.7 L1110.7 469.4 L1111.4 470.3 L1111.9 471.3 L1112.2 472.6 L1112.3 474 L1112.2 475.5 L1111.9 477 L1111.4 478.6 L1110.7 480.2 L1109.8 481.7 L1108.8 483.1 L1107.7 484.5 L1106.4 485.6 L1105.1 486.6 L1103.8 487.4 L1102.5 487.9 L1101.2 488.2 L1099.9 488.3 L1098.8 488.1 L1097.8 487.7 L1096.9 487 L1096.2 486.1 L1095.7 485.1 L1095.4 483.8 L1095.3 482.4Z" fill="#f6b66c" stroke="#5f6870" stroke-width="1" />
<path d="M1063.3 486.6 L1051.2 492.7 L1056.3 499.6 L1058.2 498.7ZM1063.3 510.2 L1051.2 516.3 L1056.3 504.2 L1058.2 503.3Z" fill="#f0a857" stroke="#5f6870" stroke-width="1" />
<path d="M1059.7 500.2 L1059.8 498 L1060.3 495.7 L1061.1 493.3 L1062.1 490.9 L1063.4 488.6 L1065 486.5 L1066.7 484.5 L1068.5 482.8 L1070.5 481.3 L1072.5 480.1 L1074.5 479.3 L1076.5 478.8 L1078.3 478.7 L1080 479 L1081.6 479.7 L1082.9 480.7 L1083.9 482 L1084.7 483.6 L1085.2 485.5 L1085.3 487.6 L1085.2 489.8 L1084.7 492.1 L1083.9 494.5 L1082.9 496.9 L1081.6 499.2 L1080 501.3 L1078.3 503.3 L1076.5 505 L1074.5 506.5 L1072.5 507.7 L1070.5 508.5 L1068.5 509 L1066.7 509.1 L1065 508.8 L1063.4 508.1 L1062.1 507.1 L1061.1 505.8 L1060.3 504.2 L1059.8 502.3 L1059.7 500.2Z" fill="#f3ad60" stroke="#5f6870" stroke-width="1.1" />
<path d="M1060.7 499.9 L1060.9 498 L1061.3 496 L1061.9 494 L1062.8 492 L1063.9 490 L1065.2 488.1 L1066.7 486.4 L1068.3 484.9 L1070 483.7 L1071.7 482.7 L1073.4 482 L1075.1 481.6 L1076.7 481.5 L1078.2 481.8 L1079.5 482.3 L1080.6 483.2 L1081.5 484.3 L1082.1 485.7 L1082.5 487.3 L1082.7 489.1 L1082.5 491 L1082.1 493 L1081.5 495 L1080.6 497 L1079.5 499 L1078.2 500.9 L1076.7 502.6 L1075.1 504.1 L1073.4 505.3 L1071.7 506.3 L1070 507 L1068.3 507.4 L1066.7 507.5 L1065.2 507.2 L1063.9 506.7 L1062.8 505.8 L1061.9 504.7 L1061.3 503.3 L1060.9 501.7 L1060.7 499.9Z" fill="none" stroke="#5f6870" stroke-width="1" />
<path d="M1064.8 497.5 L1064.9 496 L1065.2 494.5 L1065.7 492.9 L1066.4 491.3 L1067.3 489.8 L1068.3 488.4 L1069.4 487 L1070.7 485.9 L1072 484.9 L1073.3 484.1 L1074.6 483.6 L1075.9 483.3 L1077.2 483.2 L1078.3 483.4 L1079.3 483.8 L1080.2 484.5 L1080.9 485.4 L1081.4 486.4 L1081.7 487.7 L1081.8 489.1 L1081.7 490.6 L1081.4 492.1 L1080.9 493.7 L1080.2 495.3 L1079.3 496.8 L1078.3 498.2 L1077.2 499.6 L1075.9 500.7 L1074.6 501.7 L1073.3 502.5 L1072 503 L1070.7 503.3 L1069.4 503.4 L1068.3 503.2 L1067.3 502.8 L1066.4 502.1 L1065.7 501.2 L1065.2 500.2 L1064.9 498.9 L1064.8 497.5Z" fill="#f6b66c" stroke="#5f6870" stroke-width="1" />
<path d="M1029.2 515.3 L1029.3 513.1 L1029.8 510.8 L1030.6 508.4 L1031.6 506 L1032.9 503.7 L1034.5 501.6 L1036.2 499.6 L1038 497.9 L1040 496.4 L1042 495.2 L1044 494.4 L1046 493.9 L1047.8 493.8 L1049.5 494.1 L1051.1 494.8 L1052.4 495.8 L1053.4 497.1 L1054.2 498.7 L1054.7 500.6 L1054.8 502.7 L1054.7 504.9 L1054.2 507.2 L1053.4 509.6 L1052.4 512 L1051.1 514.3 L1049.5 516.4 L1047.8 518.4 L1046 520.1 L1044 521.6 L1042 522.8 L1040 523.6 L1038 524.1 L1036.2 524.2 L1034.5 523.9 L1032.9 523.2 L1031.6 522.2 L1030.6 520.9 L1029.8 519.3 L1029.3 517.4 L1029.2 515.3Z" fill="#f3ad60" stroke="#5f6870" stroke-width="1.1" />
<path d="M1030.2 515 L1030.4 513.1 L1030.8 511.1 L1031.4 509.1 L1032.3 507.1 L1033.4 505.1 L1034.7 503.2 L1036.2 501.5 L1037.8 500 L1039.5 498.8 L1041.2 497.8 L1042.9 497.1 L1044.6 496.7 L1046.2 496.6 L1047.7 496.9 L1049 497.4 L1050.1 498.3 L1051 499.4 L1051.6 500.8 L1052 502.4 L1052.2 504.2 L1052 506.1 L1051.6 508.1 L1051 510.1 L1050.1 512.1 L1049 514.1 L1047.7 516 L1046.2 517.7 L1044.6 519.2 L1042.9 520.4 L1041.2 521.4 L1039.5 522.1 L1037.8 522.5 L1036.2 522.6 L1034.7 522.3 L1033.4 521.8 L1032.3 520.9 L1031.4 519.8 L1030.8 518.4 L1030.4 516.8 L1030.2 515Z" fill="none" stroke="#5f6870" stroke-width="1" />
<path d="M1034.3 512.6 L1034.4 511.1 L1034.7 509.6 L1035.2 508 L1035.9 506.4 L1036.8 504.9 L1037.8 503.5 L1038.9 502.1 L1040.2 501 L1041.5 500 L1042.8 499.2 L1044.1 498.7 L1045.4 498.4 L1046.7 498.3 L1047.8 498.5 L1048.8 498.9 L1049.7 499.6 L1050.4 500.5 L1050.9 501.5 L1051.2 502.8 L1051.3 504.2 L1051.2 505.7 L1050.9 507.2 L1050.4 508.8 L1049.7 510.4 L1048.8 511.9 L1047.8 513.3 L1046.7 514.7 L1045.4 515.8 L1044.1 516.8 L1042.8 517.6 L1041.5 518.1 L1040.2 518.4 L1038.9 518.5 L1037.8 518.3 L1036.8 517.9 L1035.9 517.2 L1035.2 516.3 L1034.7 515.3 L1034.4 514 L1034.3 512.6Z" fill="#f6b66c" stroke="#5f6870" stroke-width="1" />
</g>
<g stroke-linejoin="round">
<path d="M1305.5 378.5 L1305.7 376.6 L1306.1 374.6 L1306.7 372.6 L1307.6 370.6 L1308.7 368.6 L1310 366.7 L1311.5 365 L1313.1 363.5 L1314.8 362.3 L1316.5 361.3 L1318.2 360.6 L1319.9 360.2 L1321.5 360.1 L1323 360.4 L1324.3 360.9 L1325.4 361.8 L1326.3 362.9 L1326.9 364.3 L1327.3 365.9 L1327.5 367.7 L1327.3 369.6 L1326.9 371.6 L1326.3 373.6 L1325.4 375.6 L1324.3 377.6 L1323 379.5 L1321.5 381.2 L1319.9 382.7 L1318.2 383.9 L1316.5 384.9 L1314.8 385.6 L1313.1 386 L1311.5 386.1 L1310 385.8 L1308.7 385.3 L1307.6 384.4 L1306.7 383.3 L1306.1 381.9 L1305.7 380.3 L1305.5 378.5Z" fill="#5b8ed6" stroke="#6b7581" stroke-width="1" />
<path d="M1310.8 375.9 L1310.9 374.8 L1311.1 373.5 L1311.5 372.3 L1312.1 371 L1312.8 369.8 L1313.6 368.7 L1314.5 367.7 L1315.4 366.8 L1316.5 366 L1317.5 365.4 L1318.5 365 L1319.6 364.7 L1320.5 364.7 L1321.4 364.8 L1322.2 365.1 L1322.9 365.7 L1323.5 366.4 L1323.9 367.2 L1324.1 368.2 L1324.2 369.3 L1324.1 370.4 L1323.9 371.7 L1323.5 372.9 L1322.9 374.2 L1322.2 375.4 L1321.4 376.5 L1320.5 377.5 L1319.6 378.4 L1318.5 379.2 L1317.5 379.8 L1316.5 380.2 L1315.4 380.5 L1314.5 380.5 L1313.6 380.4 L1312.8 380.1 L1312.1 379.5 L1311.5 378.8 L1311.1 378 L1310.9 377 L1310.8 375.9Z" fill="#4677bd" stroke="#6b7581" stroke-width="0.9" />
<path d="M1314.5 375.6 L1314.6 374.9 L1314.7 374.1 L1315 373.4 L1315.3 372.7 L1315.7 372 L1316.2 371.3 L1316.7 370.7 L1317.3 370.2 L1317.9 369.7 L1318.5 369.3 L1319.1 369.1 L1319.7 368.9 L1320.3 368.9 L1320.8 369 L1321.3 369.2 L1321.7 369.5 L1322 369.9 L1322.3 370.4 L1322.4 371 L1322.5 371.6 L1322.4 372.3 L1322.3 373.1 L1322 373.8 L1321.7 374.5 L1321.3 375.2 L1320.8 375.9 L1320.3 376.5 L1319.7 377 L1319.1 377.5 L1318.5 377.9 L1317.9 378.1 L1317.3 378.3 L1316.7 378.3 L1316.2 378.2 L1315.7 378 L1315.3 377.7 L1315 377.3 L1314.7 376.8 L1314.6 376.2 L1314.5 375.6Z" fill="#5b8ed6" stroke="none" stroke-width="0" />
<path d="M1322.6 366.8 L1311.9 371.4" stroke="#6b7581" stroke-width="1.2" fill="none" />
</g>
<g stroke-linejoin="round">
<path d="M1122.5 469.1 L1122.7 467.2 L1123.1 465.2 L1123.7 463.2 L1124.6 461.2 L1125.7 459.2 L1127 457.3 L1128.5 455.6 L1130.1 454.1 L1131.8 452.9 L1133.5 451.9 L1135.2 451.2 L1136.9 450.8 L1138.5 450.7 L1140 451 L1141.3 451.5 L1142.4 452.4 L1143.3 453.5 L1143.9 454.9 L1144.3 456.5 L1144.5 458.3 L1144.3 460.2 L1143.9 462.2 L1143.3 464.2 L1142.4 466.2 L1141.3 468.2 L1140 470.1 L1138.5 471.8 L1136.9 473.3 L1135.2 474.5 L1133.5 475.5 L1131.8 476.2 L1130.1 476.6 L1128.5 476.7 L1127 476.4 L1125.7 475.9 L1124.6 475 L1123.7 473.9 L1123.1 472.5 L1122.7 470.9 L1122.5 469.1Z" fill="#5b8ed6" stroke="#6b7581" stroke-width="1" />
<path d="M1127.8 466.5 L1127.9 465.4 L1128.1 464.1 L1128.5 462.9 L1129.1 461.6 L1129.8 460.4 L1130.6 459.3 L1131.5 458.3 L1132.4 457.4 L1133.5 456.6 L1134.5 456 L1135.5 455.6 L1136.6 455.3 L1137.5 455.3 L1138.4 455.4 L1139.2 455.7 L1139.9 456.3 L1140.5 457 L1140.9 457.8 L1141.1 458.8 L1141.2 459.9 L1141.1 461 L1140.9 462.3 L1140.5 463.5 L1139.9 464.8 L1139.2 466 L1138.4 467.1 L1137.5 468.1 L1136.6 469 L1135.5 469.8 L1134.5 470.4 L1133.5 470.8 L1132.4 471.1 L1131.5 471.1 L1130.6 471 L1129.8 470.7 L1129.1 470.1 L1128.5 469.4 L1128.1 468.6 L1127.9 467.6 L1127.8 466.5Z" fill="#4677bd" stroke="#6b7581" stroke-width="0.9" />
<path d="M1131.5 466.2 L1131.6 465.5 L1131.7 464.7 L1132 464 L1132.3 463.3 L1132.7 462.6 L1133.2 461.9 L1133.7 461.3 L1134.3 460.8 L1134.9 460.3 L1135.5 459.9 L1136.1 459.7 L1136.7 459.5 L1137.3 459.5 L1137.8 459.6 L1138.3 459.8 L1138.7 460.1 L1139 460.5 L1139.3 461 L1139.4 461.6 L1139.5 462.2 L1139.4 462.9 L1139.3 463.7 L1139 464.4 L1138.7 465.1 L1138.3 465.8 L1137.8 466.5 L1137.3 467.1 L1136.7 467.6 L1136.1 468.1 L1135.5 468.5 L1134.9 468.7 L1134.3 468.9 L1133.7 468.9 L1133.2 468.8 L1132.7 468.6 L1132.3 468.3 L1132 467.9 L1131.7 467.4 L1131.6 466.8 L1131.5 466.2Z" fill="#5b8ed6" stroke="none" stroke-width="0" />
<path d="M1139.6 457.4 L1128.9 462" stroke="#6b7581" stroke-width="1.2" fill="none" />
</g>
<g transform="translate(1300,310) scale(0.16540)" stroke="#6d7378" stroke-width="7" stroke-linejoin="round" stroke-linecap="round" fill="none">
<path d="M667 660 L667 868 C690 888 720 890 740 880 L807 838 L807 660Z" fill="#cdd0d2"/>
<path d="M703 672 V884 M710 672 V884 M739 668 V880 M746 668 V877 M771 668 V860 M778 668 V856" stroke-width="3.5"/>
<path d="M627 585 C612 620 625 655 670 679 C700 690 760 690 780 682 L792 668 L656 556Z" fill="#d4d6d8"/>
<path d="M300 177 L1215 633 L962 768 L771 668 C745 648 690 610 656 558 L627 585 L216 402 C188 340 215 215 300 177Z" fill="url(#gFadeCyl)"/>
<path d="M690 372 C610 405 565 470 572 556" /><path d="M870 462 C790 495 745 560 762 662"/>
<path d="M495 290 C430 305 385 345 372 380 L405 398 C415 350 450 315 470 300Z" fill="#8b9299" stroke-width="5"/>
<path d="M1045 563 C980 580 935 625 922 660 L955 678 C965 630 1000 595 1020 580Z" fill="#5b8ed6" stroke-width="5"/>
<path d="M455 262 C400 285 350 330 340 372 M1005 535 C950 562 900 610 890 652" stroke-width="4"/>
</g>
<g stroke-linejoin="round">
<path d="M954.5 519.9 L959.8 517.3 L992.3 533.5 L986.9 536.2Z" fill="#6a9be0" stroke="#6b7581" stroke-width="0.9" />
<path d="M948.7 534.7 L948.7 529 L981.1 545.3 L981.1 551Z" fill="#5b8ed6" stroke="#6b7581" stroke-width="0.9" />
<path d="M948.7 517 L954.5 514.2 L986.9 530.4 L981.1 533.3Z" fill="#6a9be0" stroke="#6b7581" stroke-width="0.9" />
<path d="M948.7 522.8 L948.7 517 L981.1 533.3 L981.1 539Z" fill="#5b8ed6" stroke="#6b7581" stroke-width="0.9" />
<path d="M943.4 531.6 L943.4 525.4 L975.8 541.7 L975.8 547.9Z" fill="#5b8ed6" stroke="#6b7581" stroke-width="0.9" />
<path d="M943.4 525.4 L948.7 522.8 L981.1 539 L975.8 541.7Z" fill="#6a9be0" stroke="#6b7581" stroke-width="0.9" />
</g>
<g stroke-linejoin="round">
<path d="M771.5 610.5 L776.8 607.9 L809.3 624.1 L803.9 626.8Z" fill="#6a9be0" stroke="#6b7581" stroke-width="0.9" />
<path d="M765.7 625.3 L765.7 619.6 L798.1 635.9 L798.1 641.6Z" fill="#5b8ed6" stroke="#6b7581" stroke-width="0.9" />
<path d="M765.7 607.6 L771.5 604.8 L803.9 621 L798.1 623.9Z" fill="#6a9be0" stroke="#6b7581" stroke-width="0.9" />
<path d="M765.7 613.4 L765.7 607.6 L798.1 623.9 L798.1 629.6Z" fill="#5b8ed6" stroke="#6b7581" stroke-width="0.9" />
<path d="M760.4 622.2 L760.4 616 L792.8 632.3 L792.8 638.5Z" fill="#5b8ed6" stroke="#6b7581" stroke-width="0.9" />
<path d="M760.4 616 L765.7 613.4 L798.1 629.6 L792.8 632.3Z" fill="#6a9be0" stroke="#6b7581" stroke-width="0.9" />
</g>
<g stroke-linejoin="round">
<path d="M753.6 652.2 L753.7 650 L754.1 647.7 L754.8 645.3 L755.7 642.9 L756.8 640.6 L758.1 638.3 L759.6 636.1 L761.3 634.1 L763.1 632.2 L765 630.6 L767 629.2 L769 628 L1074 477 L1076 476.2 L1078 475.6 L1079.9 475.4 L1081.7 475.4 L1083.4 475.8 L1084.9 476.5 L1113.7 492 L1115 493 L1116.1 494.2 L1117 495.7 L1117.7 497.4 L1118.1 499.4 L1118.2 501.5 L1118.1 503.7 L1117.7 506 L1117 508.4 L1116.1 510.8 L1115 513.1 L1113.7 515.4 L1112.2 517.6 L1110.5 519.6 L1108.7 521.5 L1106.8 523.1 L1104.8 524.5 L1102.8 525.7 L797.8 676.7 L795.8 677.5 L793.8 678.1 L791.9 678.3 L790.1 678.3 L788.4 677.9 L786.9 677.2 L758.1 661.7 L756.8 660.7 L755.7 659.5 L754.8 658 L754.1 656.2 L753.7 654.3Z" fill="#f5b368" stroke="#5f6870" stroke-width="1.3" />
<path d="M797.8 676.7 L795.8 677.5 L793.8 678.1 L791.9 678.3 L790.1 678.3 L788.4 677.9 L786.9 677.2 L785.6 676.2 L784.5 675 L783.6 673.5 L782.9 671.8 L782.5 669.8 L782.4 667.7 L782.5 665.5 L782.9 663.2 L783.6 660.8 L784.5 658.4 L785.6 656.1 L786.9 653.8 L788.4 651.6 L790.1 649.6 L791.9 647.7 L793.8 646.1 L795.8 644.7 L797.8 643.5 L1102.8 492.5 L1104.8 491.7 L1106.8 491.1 L1108.7 490.9 L1110.5 490.9 L1112.2 491.3 L1113.7 492 L1115 493 L1116.1 494.2 L1117 495.7 L1117.7 497.4 L1118.1 499.4 L1118.2 501.5 L1118.1 503.7 L1117.7 506 L1117 508.4 L1116.1 510.8 L1115 513.1 L1113.7 515.4 L1112.2 517.6 L1110.5 519.6 L1108.7 521.5 L1106.8 523.1 L1104.8 524.5 L1102.8 525.7Z" fill="#f3ad60" stroke="#5f6870" stroke-width="1.3" />
<path d="M797.8 675 L796 675.8 L794.2 676.3 L792.5 676.5 L790.9 676.4 L789.4 676.1 L788 675.5 L786.8 674.6 L785.8 673.5 L785 672.1 L784.4 670.6 L784.1 668.9 L783.9 667 L784.1 665 L784.4 662.9 L785 660.7 L785.8 658.6 L786.8 656.5 L788 654.4 L789.4 652.5 L790.9 650.6 L792.5 649 L794.2 647.5 L796 646.2 L797.8 645.2 L1102.8 494.2 L1104.6 493.4 L1106.4 492.9 L1108.1 492.7 L1109.7 492.8 L1111.2 493.1 L1112.6 493.7 L1113.8 494.6 L1114.8 495.7 L1115.6 497.1 L1116.2 498.6 L1116.5 500.3 L1116.7 502.2 L1116.5 504.2 L1116.2 506.3 L1115.6 508.5 L1114.8 510.6 L1113.8 512.7 L1112.6 514.8 L1111.2 516.7 L1109.7 518.6 L1108.1 520.2 L1106.4 521.7 L1104.6 523 L1102.8 524Z" fill="none" stroke="#5f6870" stroke-width="0.9" />
<path d="M1093.6 501.8 L1081.5 507.9 L1086.6 514.8 L1088.5 513.9ZM1093.6 525.4 L1081.5 531.5 L1086.6 519.4 L1088.5 518.5Z" fill="#f0a857" stroke="#5f6870" stroke-width="1" />
<path d="M1090 515.4 L1090.1 513.2 L1090.6 510.9 L1091.4 508.5 L1092.4 506.1 L1093.7 503.8 L1095.3 501.7 L1097 499.7 L1098.8 498 L1100.8 496.5 L1102.8 495.3 L1104.8 494.5 L1106.8 494 L1108.6 493.9 L1110.3 494.2 L1111.9 494.9 L1113.2 495.9 L1114.2 497.2 L1115 498.8 L1115.5 500.7 L1115.6 502.8 L1115.5 505 L1115 507.3 L1114.2 509.7 L1113.2 512.1 L1111.9 514.4 L1110.3 516.5 L1108.6 518.5 L1106.8 520.2 L1104.8 521.7 L1102.8 522.9 L1100.8 523.7 L1098.8 524.2 L1097 524.3 L1095.3 524 L1093.7 523.3 L1092.4 522.3 L1091.4 521 L1090.6 519.4 L1090.1 517.5 L1090 515.4Z" fill="#f3ad60" stroke="#5f6870" stroke-width="1.1" />
<path d="M1091 515.1 L1091.2 513.2 L1091.6 511.2 L1092.2 509.2 L1093.1 507.2 L1094.2 505.2 L1095.5 503.3 L1097 501.6 L1098.6 500.1 L1100.3 498.9 L1102 497.9 L1103.7 497.2 L1105.4 496.8 L1107 496.7 L1108.5 497 L1109.8 497.5 L1110.9 498.4 L1111.8 499.5 L1112.4 500.9 L1112.8 502.5 L1113 504.3 L1112.8 506.2 L1112.4 508.2 L1111.8 510.2 L1110.9 512.2 L1109.8 514.2 L1108.5 516.1 L1107 517.8 L1105.4 519.3 L1103.7 520.5 L1102 521.5 L1100.3 522.2 L1098.6 522.6 L1097 522.7 L1095.5 522.4 L1094.2 521.9 L1093.1 521 L1092.2 519.9 L1091.6 518.5 L1091.2 516.9 L1091 515.1Z" fill="none" stroke="#5f6870" stroke-width="1" />
<path d="M1095.1 512.7 L1095.2 511.2 L1095.5 509.7 L1096 508.1 L1096.7 506.5 L1097.6 505 L1098.6 503.6 L1099.7 502.2 L1101 501.1 L1102.3 500.1 L1103.6 499.3 L1104.9 498.8 L1106.2 498.5 L1107.5 498.4 L1108.6 498.6 L1109.6 499 L1110.5 499.7 L1111.2 500.6 L1111.7 501.6 L1112 502.9 L1112.1 504.3 L1112 505.8 L1111.7 507.3 L1111.2 508.9 L1110.5 510.5 L1109.6 512 L1108.6 513.4 L1107.5 514.8 L1106.2 515.9 L1104.9 516.9 L1103.6 517.7 L1102.3 518.2 L1101 518.5 L1099.7 518.6 L1098.6 518.4 L1097.6 518 L1096.7 517.3 L1096 516.4 L1095.5 515.4 L1095.2 514.1 L1095.1 512.7Z" fill="#f6b66c" stroke="#5f6870" stroke-width="1" />
<path d="M1063.1 516.9 L1051 523 L1056.1 529.9 L1058 529ZM1063.1 540.5 L1051 546.6 L1056.1 534.5 L1058 533.6Z" fill="#f0a857" stroke="#5f6870" stroke-width="1" />
<path d="M1059.5 530.5 L1059.6 528.3 L1060.1 526 L1060.9 523.6 L1061.9 521.2 L1063.2 518.9 L1064.8 516.8 L1066.5 514.8 L1068.3 513.1 L1070.3 511.6 L1072.3 510.4 L1074.3 509.6 L1076.3 509.1 L1078.1 509 L1079.8 509.3 L1081.4 510 L1082.7 511 L1083.7 512.3 L1084.5 513.9 L1085 515.8 L1085.1 517.9 L1085 520.1 L1084.5 522.4 L1083.7 524.8 L1082.7 527.2 L1081.4 529.5 L1079.8 531.6 L1078.1 533.6 L1076.3 535.3 L1074.3 536.8 L1072.3 538 L1070.3 538.8 L1068.3 539.3 L1066.5 539.4 L1064.8 539.1 L1063.2 538.4 L1061.9 537.4 L1060.9 536.1 L1060.1 534.5 L1059.6 532.6 L1059.5 530.5Z" fill="#f3ad60" stroke="#5f6870" stroke-width="1.1" />
<path d="M1060.5 530.2 L1060.7 528.3 L1061.1 526.3 L1061.7 524.3 L1062.6 522.3 L1063.7 520.3 L1065 518.4 L1066.5 516.7 L1068.1 515.2 L1069.8 514 L1071.5 513 L1073.2 512.3 L1074.9 511.9 L1076.5 511.8 L1078 512.1 L1079.3 512.6 L1080.4 513.5 L1081.3 514.6 L1081.9 516 L1082.3 517.6 L1082.5 519.4 L1082.3 521.3 L1081.9 523.3 L1081.3 525.3 L1080.4 527.3 L1079.3 529.3 L1078 531.2 L1076.5 532.9 L1074.9 534.4 L1073.2 535.6 L1071.5 536.6 L1069.8 537.3 L1068.1 537.7 L1066.5 537.8 L1065 537.5 L1063.7 537 L1062.6 536.1 L1061.7 535 L1061.1 533.6 L1060.7 532 L1060.5 530.2Z" fill="none" stroke="#5f6870" stroke-width="1" />
<path d="M1064.6 527.8 L1064.7 526.3 L1065 524.8 L1065.5 523.2 L1066.2 521.6 L1067.1 520.1 L1068.1 518.7 L1069.2 517.3 L1070.5 516.2 L1071.8 515.2 L1073.1 514.4 L1074.4 513.9 L1075.7 513.6 L1077 513.5 L1078.1 513.7 L1079.1 514.1 L1080 514.8 L1080.7 515.7 L1081.2 516.7 L1081.5 518 L1081.6 519.4 L1081.5 520.9 L1081.2 522.4 L1080.7 524 L1080 525.6 L1079.1 527.1 L1078.1 528.5 L1077 529.9 L1075.7 531 L1074.4 532 L1073.1 532.8 L1071.8 533.3 L1070.5 533.6 L1069.2 533.7 L1068.1 533.5 L1067.1 533.1 L1066.2 532.4 L1065.5 531.5 L1065 530.5 L1064.7 529.2 L1064.6 527.8Z" fill="#f6b66c" stroke="#5f6870" stroke-width="1" />
<path d="M1032.6 532 L1020.4 538.1 L1025.6 545 L1027.5 544.1ZM1032.6 555.6 L1020.4 561.7 L1025.6 549.6 L1027.5 548.7Z" fill="#f0a857" stroke="#5f6870" stroke-width="1" />
<path d="M1029 545.6 L1029.1 543.4 L1029.6 541.1 L1030.4 538.7 L1031.4 536.3 L1032.7 534 L1034.3 531.9 L1036 529.9 L1037.8 528.2 L1039.8 526.7 L1041.8 525.5 L1043.8 524.7 L1045.8 524.2 L1047.6 524.1 L1049.3 524.4 L1050.9 525.1 L1052.2 526.1 L1053.2 527.4 L1054 529 L1054.5 530.9 L1054.6 533 L1054.5 535.2 L1054 537.5 L1053.2 539.9 L1052.2 542.3 L1050.9 544.6 L1049.3 546.7 L1047.6 548.7 L1045.8 550.4 L1043.8 551.9 L1041.8 553.1 L1039.8 553.9 L1037.8 554.4 L1036 554.5 L1034.3 554.2 L1032.7 553.5 L1031.4 552.5 L1030.4 551.2 L1029.6 549.6 L1029.1 547.7 L1029 545.6Z" fill="#f3ad60" stroke="#5f6870" stroke-width="1.1" />
<path d="M1030 545.3 L1030.2 543.4 L1030.6 541.4 L1031.2 539.4 L1032.1 537.4 L1033.2 535.4 L1034.5 533.5 L1036 531.8 L1037.6 530.3 L1039.3 529.1 L1041 528.1 L1042.7 527.4 L1044.4 527 L1046 526.9 L1047.5 527.2 L1048.8 527.7 L1049.9 528.6 L1050.8 529.7 L1051.4 531.1 L1051.8 532.7 L1052 534.5 L1051.8 536.4 L1051.4 538.4 L1050.8 540.4 L1049.9 542.4 L1048.8 544.4 L1047.5 546.3 L1046 548 L1044.4 549.5 L1042.7 550.7 L1041 551.7 L1039.3 552.4 L1037.6 552.8 L1036 552.9 L1034.5 552.6 L1033.2 552.1 L1032.1 551.2 L1031.2 550.1 L1030.6 548.7 L1030.2 547.1 L1030 545.3Z" fill="none" stroke="#5f6870" stroke-width="1" />
<path d="M1034.1 542.9 L1034.2 541.4 L1034.5 539.9 L1035 538.3 L1035.7 536.7 L1036.6 535.2 L1037.6 533.8 L1038.7 532.4 L1040 531.3 L1041.3 530.3 L1042.6 529.5 L1043.9 529 L1045.2 528.7 L1046.5 528.6 L1047.6 528.8 L1048.6 529.2 L1049.5 529.9 L1050.2 530.8 L1050.7 531.8 L1051 533.1 L1051.1 534.5 L1051 536 L1050.7 537.5 L1050.2 539.1 L1049.5 540.7 L1048.6 542.2 L1047.6 543.6 L1046.5 545 L1045.2 546.1 L1043.9 547.1 L1042.6 547.9 L1041.3 548.4 L1040 548.7 L1038.7 548.8 L1037.6 548.6 L1036.6 548.2 L1035.7 547.5 L1035 546.6 L1034.5 545.6 L1034.2 544.3 L1034.1 542.9Z" fill="#f6b66c" stroke="#5f6870" stroke-width="1" />
<path d="M1002.1 547.1 L989.9 553.2 L995.1 560.1 L997 559.2ZM1002.1 570.7 L989.9 576.8 L995.1 564.7 L997 563.8Z" fill="#f0a857" stroke="#5f6870" stroke-width="1" />
<path d="M998.5 560.7 L998.6 558.5 L999.1 556.2 L999.9 553.8 L1000.9 551.4 L1002.2 549.1 L1003.8 547 L1005.5 545 L1007.3 543.3 L1009.3 541.8 L1011.3 540.6 L1013.3 539.8 L1015.3 539.3 L1017.1 539.2 L1018.8 539.5 L1020.4 540.2 L1021.7 541.2 L1022.7 542.5 L1023.5 544.1 L1024 546 L1024.1 548.1 L1024 550.3 L1023.5 552.6 L1022.7 555 L1021.7 557.4 L1020.4 559.7 L1018.8 561.8 L1017.1 563.8 L1015.3 565.5 L1013.3 567 L1011.3 568.2 L1009.3 569 L1007.3 569.5 L1005.5 569.6 L1003.8 569.3 L1002.2 568.6 L1000.9 567.6 L999.9 566.3 L999.1 564.7 L998.6 562.8 L998.5 560.7Z" fill="#f3ad60" stroke="#5f6870" stroke-width="1.1" />
<path d="M999.5 560.4 L999.7 558.5 L1000.1 556.5 L1000.7 554.5 L1001.6 552.5 L1002.7 550.5 L1004 548.6 L1005.5 546.9 L1007.1 545.4 L1008.8 544.2 L1010.5 543.2 L1012.2 542.5 L1013.9 542.1 L1015.5 542 L1017 542.3 L1018.3 542.8 L1019.4 543.7 L1020.3 544.8 L1020.9 546.2 L1021.3 547.8 L1021.5 549.6 L1021.3 551.5 L1020.9 553.5 L1020.3 555.5 L1019.4 557.5 L1018.3 559.5 L1017 561.4 L1015.5 563.1 L1013.9 564.6 L1012.2 565.8 L1010.5 566.8 L1008.8 567.5 L1007.1 567.9 L1005.5 568 L1004 567.7 L1002.7 567.2 L1001.6 566.3 L1000.7 565.2 L1000.1 563.8 L999.7 562.2 L999.5 560.4Z" fill="none" stroke="#5f6870" stroke-width="1" />
<path d="M1003.6 558 L1003.7 556.5 L1004 555 L1004.5 553.4 L1005.2 551.8 L1006.1 550.3 L1007.1 548.9 L1008.2 547.5 L1009.5 546.4 L1010.8 545.4 L1012.1 544.6 L1013.4 544.1 L1014.7 543.8 L1016 543.7 L1017.1 543.9 L1018.1 544.3 L1019 545 L1019.7 545.9 L1020.2 546.9 L1020.5 548.2 L1020.6 549.6 L1020.5 551.1 L1020.2 552.6 L1019.7 554.2 L1019 555.8 L1018.1 557.3 L1017.1 558.7 L1016 560.1 L1014.7 561.2 L1013.4 562.2 L1012.1 563 L1010.8 563.5 L1009.5 563.8 L1008.2 563.9 L1007.1 563.7 L1006.1 563.3 L1005.2 562.6 L1004.5 561.7 L1004 560.7 L1003.7 559.4 L1003.6 558Z" fill="#f6b66c" stroke="#5f6870" stroke-width="1" />
<path d="M971.6 562.2 L959.4 568.3 L964.6 575.2 L966.5 574.3ZM971.6 585.8 L959.4 591.9 L964.6 579.8 L966.5 578.9Z" fill="#f0a857" stroke="#5f6870" stroke-width="1" />
<path d="M968 575.8 L968.1 573.6 L968.6 571.3 L969.4 568.9 L970.4 566.5 L971.7 564.2 L973.3 562.1 L975 560.1 L976.8 558.4 L978.8 556.9 L980.8 555.7 L982.8 554.9 L984.8 554.4 L986.6 554.3 L988.3 554.6 L989.9 555.3 L991.2 556.3 L992.2 557.6 L993 559.2 L993.5 561.1 L993.6 563.2 L993.5 565.4 L993 567.7 L992.2 570.1 L991.2 572.5 L989.9 574.8 L988.3 576.9 L986.6 578.9 L984.8 580.6 L982.8 582.1 L980.8 583.3 L978.8 584.1 L976.8 584.6 L975 584.7 L973.3 584.4 L971.7 583.7 L970.4 582.7 L969.4 581.4 L968.6 579.8 L968.1 577.9 L968 575.8Z" fill="#f3ad60" stroke="#5f6870" stroke-width="1.1" />
<path d="M969 575.5 L969.2 573.6 L969.6 571.6 L970.2 569.6 L971.1 567.6 L972.2 565.6 L973.5 563.7 L975 562 L976.6 560.5 L978.3 559.3 L980 558.3 L981.7 557.6 L983.4 557.2 L985 557.1 L986.5 557.4 L987.8 557.9 L988.9 558.8 L989.8 559.9 L990.4 561.3 L990.8 562.9 L991 564.7 L990.8 566.6 L990.4 568.6 L989.8 570.6 L988.9 572.6 L987.8 574.6 L986.5 576.5 L985 578.2 L983.4 579.7 L981.7 580.9 L980 581.9 L978.3 582.6 L976.6 583 L975 583.1 L973.5 582.8 L972.2 582.3 L971.1 581.4 L970.2 580.3 L969.6 578.9 L969.2 577.3 L969 575.5Z" fill="none" stroke="#5f6870" stroke-width="1" />
<path d="M973.1 573.1 L973.2 571.6 L973.5 570.1 L974 568.5 L974.7 566.9 L975.6 565.4 L976.6 564 L977.7 562.6 L979 561.5 L980.3 560.5 L981.6 559.7 L982.9 559.2 L984.2 558.9 L985.5 558.8 L986.6 559 L987.6 559.4 L988.5 560.1 L989.2 561 L989.7 562 L990 563.3 L990.1 564.7 L990 566.2 L989.7 567.7 L989.2 569.3 L988.5 570.9 L987.6 572.4 L986.6 573.8 L985.5 575.2 L984.2 576.3 L982.9 577.3 L981.6 578.1 L980.3 578.6 L979 578.9 L977.7 579 L976.6 578.8 L975.6 578.4 L974.7 577.7 L974 576.8 L973.5 575.8 L973.2 574.5 L973.1 573.1Z" fill="#f6b66c" stroke="#5f6870" stroke-width="1" />
<path d="M941.1 577.3 L928.9 583.4 L934.1 590.3 L936 589.4ZM941.1 600.9 L928.9 607 L934.1 594.9 L936 594Z" fill="#f0a857" stroke="#5f6870" stroke-width="1" />
<path d="M937.5 590.9 L937.6 588.7 L938.1 586.4 L938.9 584 L939.9 581.6 L941.2 579.3 L942.8 577.2 L944.5 575.2 L946.3 573.5 L948.3 572 L950.3 570.8 L952.3 570 L954.3 569.5 L956.1 569.4 L957.8 569.7 L959.4 570.4 L960.7 571.4 L961.7 572.7 L962.5 574.3 L963 576.2 L963.1 578.3 L963 580.5 L962.5 582.8 L961.7 585.2 L960.7 587.6 L959.4 589.9 L957.8 592 L956.1 594 L954.3 595.7 L952.3 597.2 L950.3 598.4 L948.3 599.2 L946.3 599.7 L944.5 599.8 L942.8 599.5 L941.2 598.8 L939.9 597.8 L938.9 596.5 L938.1 594.9 L937.6 593 L937.5 590.9Z" fill="#f3ad60" stroke="#5f6870" stroke-width="1.1" />
<path d="M938.5 590.6 L938.7 588.7 L939.1 586.7 L939.7 584.7 L940.6 582.7 L941.7 580.7 L943 578.8 L944.5 577.1 L946.1 575.6 L947.8 574.4 L949.5 573.4 L951.2 572.7 L952.9 572.3 L954.5 572.2 L956 572.5 L957.3 573 L958.4 573.9 L959.3 575 L959.9 576.4 L960.3 578 L960.5 579.8 L960.3 581.7 L959.9 583.7 L959.3 585.7 L958.4 587.7 L957.3 589.7 L956 591.6 L954.5 593.3 L952.9 594.8 L951.2 596 L949.5 597 L947.8 597.7 L946.1 598.1 L944.5 598.2 L943 597.9 L941.7 597.4 L940.6 596.5 L939.7 595.4 L939.1 594 L938.7 592.4 L938.5 590.6Z" fill="none" stroke="#5f6870" stroke-width="1" />
<path d="M942.6 588.2 L942.7 586.7 L943 585.2 L943.5 583.6 L944.2 582 L945.1 580.5 L946.1 579.1 L947.2 577.7 L948.5 576.6 L949.8 575.6 L951.1 574.8 L952.4 574.3 L953.7 574 L955 573.9 L956.1 574.1 L957.1 574.5 L958 575.2 L958.7 576.1 L959.2 577.1 L959.5 578.4 L959.6 579.8 L959.5 581.3 L959.2 582.8 L958.7 584.4 L958 586 L957.1 587.5 L956.1 588.9 L955 590.3 L953.7 591.4 L952.4 592.4 L951.1 593.2 L949.8 593.7 L948.5 594 L947.2 594.1 L946.1 593.9 L945.1 593.5 L944.2 592.8 L943.5 591.9 L943 590.9 L942.7 589.6 L942.6 588.2Z" fill="#f6b66c" stroke="#5f6870" stroke-width="1" />
<path d="M910.6 592.4 L898.4 598.5 L903.6 605.4 L905.5 604.5ZM910.6 616 L898.4 622.1 L903.6 610 L905.5 609.1Z" fill="#f0a857" stroke="#5f6870" stroke-width="1" />
<path d="M907 606 L907.1 603.8 L907.6 601.5 L908.4 599.1 L909.4 596.7 L910.7 594.4 L912.3 592.3 L914 590.3 L915.8 588.6 L917.8 587.1 L919.8 585.9 L921.8 585.1 L923.8 584.6 L925.6 584.5 L927.3 584.8 L928.9 585.5 L930.2 586.5 L931.2 587.8 L932 589.4 L932.5 591.3 L932.6 593.4 L932.5 595.6 L932 597.9 L931.2 600.3 L930.2 602.7 L928.9 605 L927.3 607.1 L925.6 609.1 L923.8 610.8 L921.8 612.3 L919.8 613.5 L917.8 614.3 L915.8 614.8 L914 614.9 L912.3 614.6 L910.7 613.9 L909.4 612.9 L908.4 611.6 L907.6 610 L907.1 608.1 L907 606Z" fill="#f3ad60" stroke="#5f6870" stroke-width="1.1" />
<path d="M908 605.7 L908.2 603.8 L908.6 601.8 L909.2 599.8 L910.1 597.8 L911.2 595.8 L912.5 593.9 L914 592.2 L915.6 590.7 L917.3 589.5 L919 588.5 L920.7 587.8 L922.4 587.4 L924 587.3 L925.5 587.6 L926.8 588.1 L927.9 589 L928.8 590.1 L929.4 591.5 L929.8 593.1 L930 594.9 L929.8 596.8 L929.4 598.8 L928.8 600.8 L927.9 602.8 L926.8 604.8 L925.5 606.7 L924 608.4 L922.4 609.9 L920.7 611.1 L919 612.1 L917.3 612.8 L915.6 613.2 L914 613.3 L912.5 613 L911.2 612.5 L910.1 611.6 L909.2 610.5 L908.6 609.1 L908.2 607.5 L908 605.7Z" fill="none" stroke="#5f6870" stroke-width="1" />
<path d="M912.1 603.3 L912.2 601.8 L912.5 600.3 L913 598.7 L913.7 597.1 L914.6 595.6 L915.6 594.2 L916.7 592.8 L918 591.7 L919.3 590.7 L920.6 589.9 L921.9 589.4 L923.2 589.1 L924.5 589 L925.6 589.2 L926.6 589.6 L927.5 590.3 L928.2 591.2 L928.7 592.2 L929 593.5 L929.1 594.9 L929 596.4 L928.7 597.9 L928.2 599.5 L927.5 601.1 L926.6 602.6 L925.6 604 L924.5 605.4 L923.2 606.5 L921.9 607.5 L920.6 608.3 L919.3 608.8 L918 609.1 L916.7 609.2 L915.6 609 L914.6 608.6 L913.7 607.9 L913 607 L912.5 606 L912.2 604.7 L912.1 603.3Z" fill="#f6b66c" stroke="#5f6870" stroke-width="1" />
<path d="M880.1 607.5 L867.9 613.6 L873.1 620.5 L875 619.6ZM880.1 631.1 L867.9 637.2 L873.1 625.1 L875 624.2Z" fill="#f0a857" stroke="#5f6870" stroke-width="1" />
<path d="M876.5 621.1 L876.6 618.9 L877.1 616.6 L877.9 614.2 L878.9 611.8 L880.2 609.5 L881.8 607.4 L883.5 605.4 L885.3 603.7 L887.3 602.2 L889.3 601 L891.3 600.2 L893.3 599.7 L895.1 599.6 L896.8 599.9 L898.4 600.6 L899.7 601.6 L900.7 602.9 L901.5 604.5 L902 606.4 L902.1 608.5 L902 610.7 L901.5 613 L900.7 615.4 L899.7 617.8 L898.4 620.1 L896.8 622.2 L895.1 624.2 L893.3 625.9 L891.3 627.4 L889.3 628.6 L887.3 629.4 L885.3 629.9 L883.5 630 L881.8 629.7 L880.2 629 L878.9 628 L877.9 626.7 L877.1 625.1 L876.6 623.2 L876.5 621.1Z" fill="#f3ad60" stroke="#5f6870" stroke-width="1.1" />
<path d="M877.5 620.8 L877.7 618.9 L878.1 616.9 L878.7 614.9 L879.6 612.9 L880.7 610.9 L882 609 L883.5 607.3 L885.1 605.8 L886.8 604.6 L888.5 603.6 L890.2 602.9 L891.9 602.5 L893.5 602.4 L895 602.7 L896.3 603.2 L897.4 604.1 L898.3 605.2 L898.9 606.6 L899.3 608.2 L899.5 610 L899.3 611.9 L898.9 613.9 L898.3 615.9 L897.4 617.9 L896.3 619.9 L895 621.8 L893.5 623.5 L891.9 625 L890.2 626.2 L888.5 627.2 L886.8 627.9 L885.1 628.3 L883.5 628.4 L882 628.1 L880.7 627.6 L879.6 626.7 L878.7 625.6 L878.1 624.2 L877.7 622.6 L877.5 620.8Z" fill="none" stroke="#5f6870" stroke-width="1" />
<path d="M881.6 618.4 L881.7 616.9 L882 615.4 L882.5 613.8 L883.2 612.2 L884.1 610.7 L885.1 609.3 L886.2 607.9 L887.5 606.8 L888.8 605.8 L890.1 605 L891.4 604.5 L892.7 604.2 L894 604.1 L895.1 604.3 L896.1 604.7 L897 605.4 L897.7 606.3 L898.2 607.3 L898.5 608.6 L898.6 610 L898.5 611.5 L898.2 613 L897.7 614.6 L897 616.2 L896.1 617.7 L895.1 619.1 L894 620.5 L892.7 621.6 L891.4 622.6 L890.1 623.4 L888.8 623.9 L887.5 624.2 L886.2 624.3 L885.1 624.1 L884.1 623.7 L883.2 623 L882.5 622.1 L882 621.1 L881.7 619.8 L881.6 618.4Z" fill="#f6b66c" stroke="#5f6870" stroke-width="1" />
<path d="M849.6 622.6 L837.4 628.7 L842.6 635.6 L844.5 634.7ZM849.6 646.2 L837.4 652.3 L842.6 640.2 L844.5 639.3Z" fill="#f0a857" stroke="#5f6870" stroke-width="1" />
<path d="M846 636.2 L846.1 634 L846.6 631.7 L847.4 629.3 L848.4 626.9 L849.7 624.6 L851.3 622.5 L853 620.5 L854.8 618.8 L856.8 617.3 L858.8 616.1 L860.8 615.3 L862.8 614.8 L864.6 614.7 L866.3 615 L867.9 615.7 L869.2 616.7 L870.2 618 L871 619.6 L871.5 621.5 L871.6 623.6 L871.5 625.8 L871 628.1 L870.2 630.5 L869.2 632.9 L867.9 635.2 L866.3 637.3 L864.6 639.3 L862.8 641 L860.8 642.5 L858.8 643.7 L856.8 644.5 L854.8 645 L853 645.1 L851.3 644.8 L849.7 644.1 L848.4 643.1 L847.4 641.8 L846.6 640.2 L846.1 638.3 L846 636.2Z" fill="#f3ad60" stroke="#5f6870" stroke-width="1.1" />
<path d="M847 635.9 L847.2 634 L847.6 632 L848.2 630 L849.1 628 L850.2 626 L851.5 624.1 L853 622.4 L854.6 620.9 L856.3 619.7 L858 618.7 L859.7 618 L861.4 617.6 L863 617.5 L864.5 617.8 L865.8 618.3 L866.9 619.2 L867.8 620.3 L868.4 621.7 L868.8 623.3 L869 625.1 L868.8 627 L868.4 629 L867.8 631 L866.9 633 L865.8 635 L864.5 636.9 L863 638.6 L861.4 640.1 L859.7 641.3 L858 642.3 L856.3 643 L854.6 643.4 L853 643.5 L851.5 643.2 L850.2 642.7 L849.1 641.8 L848.2 640.7 L847.6 639.3 L847.2 637.7 L847 635.9Z" fill="none" stroke="#5f6870" stroke-width="1" />
<path d="M851.1 633.5 L851.2 632 L851.5 630.5 L852 628.9 L852.7 627.3 L853.6 625.8 L854.6 624.4 L855.7 623 L857 621.9 L858.3 620.9 L859.6 620.1 L860.9 619.6 L862.2 619.3 L863.5 619.2 L864.6 619.4 L865.6 619.8 L866.5 620.5 L867.2 621.4 L867.7 622.4 L868 623.7 L868.1 625.1 L868 626.6 L867.7 628.1 L867.2 629.7 L866.5 631.3 L865.6 632.8 L864.6 634.2 L863.5 635.6 L862.2 636.7 L860.9 637.7 L859.6 638.5 L858.3 639 L857 639.3 L855.7 639.4 L854.6 639.2 L853.6 638.8 L852.7 638.1 L852 637.2 L851.5 636.2 L851.2 634.9 L851.1 633.5Z" fill="#f6b66c" stroke="#5f6870" stroke-width="1" />
<path d="M819.1 637.7 L806.9 643.8 L812.1 650.7 L814 649.8ZM819.1 661.3 L806.9 667.4 L812.1 655.3 L814 654.4Z" fill="#f0a857" stroke="#5f6870" stroke-width="1" />
<path d="M815.5 651.3 L815.6 649.1 L816.1 646.8 L816.9 644.4 L817.9 642 L819.2 639.7 L820.8 637.6 L822.5 635.6 L824.3 633.9 L826.3 632.4 L828.3 631.2 L830.3 630.4 L832.3 629.9 L834.1 629.8 L835.8 630.1 L837.4 630.8 L838.7 631.8 L839.7 633.1 L840.5 634.7 L841 636.6 L841.1 638.7 L841 640.9 L840.5 643.2 L839.7 645.6 L838.7 648 L837.4 650.3 L835.8 652.4 L834.1 654.4 L832.3 656.1 L830.3 657.6 L828.3 658.8 L826.3 659.6 L824.3 660.1 L822.5 660.2 L820.8 659.9 L819.2 659.2 L817.9 658.2 L816.9 656.9 L816.1 655.3 L815.6 653.4 L815.5 651.3Z" fill="#f3ad60" stroke="#5f6870" stroke-width="1.1" />
<path d="M816.5 651 L816.7 649.1 L817.1 647.1 L817.7 645.1 L818.6 643.1 L819.7 641.1 L821 639.2 L822.5 637.5 L824.1 636 L825.8 634.8 L827.5 633.8 L829.2 633.1 L830.9 632.7 L832.5 632.6 L834 632.9 L835.3 633.4 L836.4 634.3 L837.3 635.4 L837.9 636.8 L838.3 638.4 L838.5 640.2 L838.3 642.1 L837.9 644.1 L837.3 646.1 L836.4 648.1 L835.3 650.1 L834 652 L832.5 653.7 L830.9 655.2 L829.2 656.4 L827.5 657.4 L825.8 658.1 L824.1 658.5 L822.5 658.6 L821 658.3 L819.7 657.8 L818.6 656.9 L817.7 655.8 L817.1 654.4 L816.7 652.8 L816.5 651Z" fill="none" stroke="#5f6870" stroke-width="1" />
<path d="M820.6 648.6 L820.7 647.1 L821 645.6 L821.5 644 L822.2 642.4 L823.1 640.9 L824.1 639.5 L825.2 638.1 L826.5 637 L827.8 636 L829.1 635.2 L830.4 634.7 L831.7 634.4 L833 634.3 L834.1 634.5 L835.1 634.9 L836 635.6 L836.7 636.5 L837.2 637.5 L837.5 638.8 L837.6 640.2 L837.5 641.7 L837.2 643.2 L836.7 644.8 L836 646.4 L835.1 647.9 L834.1 649.3 L833 650.7 L831.7 651.8 L830.4 652.8 L829.1 653.6 L827.8 654.1 L826.5 654.4 L825.2 654.5 L824.1 654.3 L823.1 653.9 L822.2 653.2 L821.5 652.3 L821 651.3 L820.7 650 L820.6 648.6Z" fill="#f6b66c" stroke="#5f6870" stroke-width="1" />
<path d="M785 666.4 L785.1 664.2 L785.6 661.9 L786.4 659.5 L787.4 657.1 L788.7 654.8 L790.3 652.7 L792 650.7 L793.8 649 L795.8 647.5 L797.8 646.3 L799.8 645.5 L801.8 645 L803.6 644.9 L805.3 645.2 L806.9 645.9 L808.2 646.9 L809.2 648.2 L810 649.8 L810.5 651.7 L810.6 653.8 L810.5 656 L810 658.3 L809.2 660.7 L808.2 663.1 L806.9 665.4 L805.3 667.5 L803.6 669.5 L801.8 671.2 L799.8 672.7 L797.8 673.9 L795.8 674.7 L793.8 675.2 L792 675.3 L790.3 675 L788.7 674.3 L787.4 673.3 L786.4 672 L785.6 670.4 L785.1 668.5 L785 666.4Z" fill="#f3ad60" stroke="#5f6870" stroke-width="1.1" />
<path d="M786 666.1 L786.2 664.2 L786.6 662.2 L787.2 660.2 L788.1 658.2 L789.2 656.2 L790.5 654.3 L792 652.6 L793.6 651.1 L795.3 649.9 L797 648.9 L798.7 648.2 L800.4 647.8 L802 647.7 L803.5 648 L804.8 648.5 L805.9 649.4 L806.8 650.5 L807.4 651.9 L807.8 653.5 L808 655.3 L807.8 657.2 L807.4 659.2 L806.8 661.2 L805.9 663.2 L804.8 665.2 L803.5 667.1 L802 668.8 L800.4 670.3 L798.7 671.5 L797 672.5 L795.3 673.2 L793.6 673.6 L792 673.7 L790.5 673.4 L789.2 672.9 L788.1 672 L787.2 670.9 L786.6 669.5 L786.2 667.9 L786 666.1Z" fill="none" stroke="#5f6870" stroke-width="1" />
<path d="M790.1 663.7 L790.2 662.2 L790.5 660.7 L791 659.1 L791.7 657.5 L792.6 656 L793.6 654.6 L794.7 653.2 L796 652.1 L797.3 651.1 L798.6 650.3 L799.9 649.8 L801.2 649.5 L802.5 649.4 L803.6 649.6 L804.6 650 L805.5 650.7 L806.2 651.6 L806.7 652.6 L807 653.9 L807.1 655.3 L807 656.8 L806.7 658.3 L806.2 659.9 L805.5 661.5 L804.6 663 L803.6 664.4 L802.5 665.8 L801.2 666.9 L799.9 667.9 L798.6 668.7 L797.3 669.2 L796 669.5 L794.7 669.6 L793.6 669.4 L792.6 669 L791.7 668.3 L791 667.4 L790.5 666.4 L790.2 665.1 L790.1 663.7Z" fill="#f6b66c" stroke="#5f6870" stroke-width="1" />
</g>
<g stroke-linejoin="round">
<path d="M1000.3 559.8 L1000.5 557.9 L1000.9 555.9 L1001.5 553.9 L1002.4 551.9 L1003.5 549.9 L1004.8 548 L1006.3 546.3 L1007.9 544.8 L1009.6 543.6 L1011.3 542.6 L1013 541.9 L1014.7 541.5 L1016.3 541.4 L1017.8 541.7 L1019.1 542.2 L1020.2 543.1 L1021.1 544.2 L1021.7 545.6 L1022.1 547.2 L1022.3 549 L1022.1 550.9 L1021.7 552.9 L1021.1 554.9 L1020.2 556.9 L1019.1 558.9 L1017.8 560.8 L1016.3 562.5 L1014.7 564 L1013 565.2 L1011.3 566.2 L1009.6 566.9 L1007.9 567.3 L1006.3 567.4 L1004.8 567.1 L1003.5 566.6 L1002.4 565.7 L1001.5 564.6 L1000.9 563.2 L1000.5 561.6 L1000.3 559.8Z" fill="#5b8ed6" stroke="#6b7581" stroke-width="1" />
<path d="M1005.6 557.2 L1005.7 556.1 L1005.9 554.8 L1006.3 553.6 L1006.9 552.3 L1007.6 551.1 L1008.4 550 L1009.3 549 L1010.2 548.1 L1011.3 547.3 L1012.3 546.7 L1013.3 546.3 L1014.4 546 L1015.3 546 L1016.2 546.1 L1017 546.4 L1017.7 547 L1018.3 547.7 L1018.7 548.5 L1018.9 549.5 L1019 550.6 L1018.9 551.7 L1018.7 553 L1018.3 554.2 L1017.7 555.5 L1017 556.7 L1016.2 557.8 L1015.3 558.8 L1014.4 559.7 L1013.3 560.5 L1012.3 561.1 L1011.3 561.5 L1010.2 561.8 L1009.3 561.8 L1008.4 561.7 L1007.6 561.4 L1006.9 560.8 L1006.3 560.1 L1005.9 559.3 L1005.7 558.3 L1005.6 557.2Z" fill="#4677bd" stroke="#6b7581" stroke-width="0.9" />
<path d="M1009.3 556.9 L1009.4 556.2 L1009.5 555.4 L1009.8 554.7 L1010.1 554 L1010.5 553.3 L1011 552.6 L1011.5 552 L1012.1 551.5 L1012.7 551 L1013.3 550.6 L1013.9 550.4 L1014.5 550.2 L1015.1 550.2 L1015.6 550.3 L1016.1 550.5 L1016.5 550.8 L1016.8 551.2 L1017.1 551.7 L1017.2 552.3 L1017.3 552.9 L1017.2 553.6 L1017.1 554.4 L1016.8 555.1 L1016.5 555.8 L1016.1 556.5 L1015.6 557.2 L1015.1 557.8 L1014.5 558.3 L1013.9 558.8 L1013.3 559.2 L1012.7 559.4 L1012.1 559.6 L1011.5 559.6 L1011 559.5 L1010.5 559.3 L1010.1 559 L1009.8 558.6 L1009.5 558.1 L1009.4 557.5 L1009.3 556.9Z" fill="#5b8ed6" stroke="none" stroke-width="0" />
<path d="M1017.4 548.1 L1006.7 552.7" stroke="#6b7581" stroke-width="1.2" fill="none" />
</g>
<g stroke-linejoin="round">
<path d="M817.3 650.4 L817.5 648.5 L817.9 646.5 L818.5 644.5 L819.4 642.5 L820.5 640.5 L821.8 638.6 L823.3 636.9 L824.9 635.4 L826.6 634.2 L828.3 633.2 L830 632.5 L831.7 632.1 L833.3 632 L834.8 632.3 L836.1 632.8 L837.2 633.7 L838.1 634.8 L838.7 636.2 L839.1 637.8 L839.3 639.6 L839.1 641.5 L838.7 643.5 L838.1 645.5 L837.2 647.5 L836.1 649.5 L834.8 651.4 L833.3 653.1 L831.7 654.6 L830 655.8 L828.3 656.8 L826.6 657.5 L824.9 657.9 L823.3 658 L821.8 657.7 L820.5 657.2 L819.4 656.3 L818.5 655.2 L817.9 653.8 L817.5 652.2 L817.3 650.4Z" fill="#5b8ed6" stroke="#6b7581" stroke-width="1" />
<path d="M822.6 647.8 L822.7 646.7 L822.9 645.4 L823.3 644.2 L823.9 642.9 L824.6 641.7 L825.4 640.6 L826.3 639.6 L827.2 638.7 L828.3 637.9 L829.3 637.3 L830.3 636.9 L831.4 636.6 L832.3 636.6 L833.2 636.7 L834 637 L834.7 637.6 L835.3 638.3 L835.7 639.1 L835.9 640.1 L836 641.2 L835.9 642.3 L835.7 643.6 L835.3 644.8 L834.7 646.1 L834 647.3 L833.2 648.4 L832.3 649.4 L831.4 650.3 L830.3 651.1 L829.3 651.7 L828.3 652.1 L827.2 652.4 L826.3 652.4 L825.4 652.3 L824.6 652 L823.9 651.4 L823.3 650.7 L822.9 649.9 L822.7 648.9 L822.6 647.8Z" fill="#4677bd" stroke="#6b7581" stroke-width="0.9" />
<path d="M826.3 647.5 L826.4 646.8 L826.5 646 L826.8 645.3 L827.1 644.6 L827.5 643.9 L828 643.2 L828.5 642.6 L829.1 642.1 L829.7 641.6 L830.3 641.2 L830.9 641 L831.5 640.8 L832.1 640.8 L832.6 640.9 L833.1 641.1 L833.5 641.4 L833.8 641.8 L834.1 642.3 L834.2 642.9 L834.3 643.5 L834.2 644.2 L834.1 645 L833.8 645.7 L833.5 646.4 L833.1 647.1 L832.6 647.8 L832.1 648.4 L831.5 648.9 L830.9 649.4 L830.3 649.8 L829.7 650 L829.1 650.2 L828.5 650.2 L828 650.1 L827.5 649.9 L827.1 649.6 L826.8 649.2 L826.5 648.7 L826.4 648.1 L826.3 647.5Z" fill="#5b8ed6" stroke="none" stroke-width="0" />
<path d="M834.4 638.7 L823.7 643.3" stroke="#6b7581" stroke-width="1.2" fill="none" />
</g>
<g stroke-linejoin="round">
<path d="M1091.8 514.5 L1092 512.6 L1092.4 510.6 L1093 508.6 L1093.9 506.6 L1095 504.6 L1096.3 502.7 L1097.8 501 L1099.4 499.5 L1101.1 498.3 L1102.8 497.3 L1104.5 496.6 L1106.2 496.2 L1107.8 496.1 L1109.3 496.4 L1110.6 496.9 L1111.7 497.8 L1112.6 498.9 L1113.2 500.3 L1113.6 501.9 L1113.8 503.7 L1113.6 505.6 L1113.2 507.6 L1112.6 509.6 L1111.7 511.6 L1110.6 513.6 L1109.3 515.5 L1107.8 517.2 L1106.2 518.7 L1104.5 519.9 L1102.8 520.9 L1101.1 521.6 L1099.4 522 L1097.8 522.1 L1096.3 521.8 L1095 521.3 L1093.9 520.4 L1093 519.3 L1092.4 517.9 L1092 516.3 L1091.8 514.5Z" fill="#586069" stroke="#6b7581" stroke-width="1" />
<path d="M1095.2 507.3 L1095.7 506.5 L1096.1 505.7 L1096.6 504.9 L1097.1 504.2 L1097.7 503.5 L1098.2 502.8 L1098.9 502.2 L1099.5 501.6 L1100.1 501 L1100.8 500.5 L1101.5 500 L1102.2 499.6 L1102.8 499.2 L1103.5 498.9 L1104.2 498.7 L1104.9 498.5 L1105.5 498.4 L1106.2 498.3 L1106.8 498.3 L1107.4 498.3 L1108 498.4 L1108.5 498.6 L1109.1 498.8 L1109.5 499.1 L1110 499.5 L1110.4 499.9 L1110.8 500.3 L1111.1 500.8 L1111.3 501.3 L1111.6 501.9 L1111.7 502.6 L1111.9 503.2 L1111.9 503.9 L1111.9 504.7 L1111.9 505.4 L1111.8 506.2 L1111.7 507 L1111.5 507.8 L1111.3 508.6 L1111 509.4" fill="none" stroke="#ffffff" stroke-width="1.2" />
<path d="M1107.8 503.4 L1108.1 503.7 L1108.4 504 L1108.6 504.3 L1108.9 504.7 L1109 505.1 L1109.2 505.5 L1109.3 505.9 L1109.4 506.4 L1109.4 506.9 L1109.4 507.5 L1109.3 508 L1109.3 508.6 L1109.1 509.1 L1109 509.7 L1108.8 510.3 L1108.5 510.9 L1108.3 511.4 L1108 512 L1107.6 512.6 L1107.3 513.1 L1106.9 513.6 L1106.5 514.1 L1106.1 514.6 L1105.6 515 L1105.2 515.4 L1104.7 515.8 L1104.2 516.1 L1103.7 516.4 L1103.3 516.7 L1102.8 516.9 L1102.3 517.1 L1101.8 517.2 L1101.3 517.3 L1100.9 517.3 L1100.4 517.3 L1100 517.3 L1099.6 517.2 L1099.2 517 L1098.9 516.8 L1098.6 516.6" fill="none" stroke="#ffffff" stroke-width="1.2" />
<path d="M1102.2 504.8 L1105.8 501" stroke="#ffffff" stroke-width="1.2" fill="none" />
</g>
<g stroke-linejoin="round">
<path d="M1061.3 529.6 L1061.5 527.7 L1061.9 525.7 L1062.5 523.7 L1063.4 521.7 L1064.5 519.7 L1065.8 517.8 L1067.3 516.1 L1068.9 514.6 L1070.6 513.4 L1072.3 512.4 L1074 511.7 L1075.7 511.3 L1077.3 511.2 L1078.8 511.5 L1080.1 512 L1081.2 512.9 L1082.1 514 L1082.7 515.4 L1083.1 517 L1083.3 518.8 L1083.1 520.7 L1082.7 522.7 L1082.1 524.7 L1081.2 526.7 L1080.1 528.7 L1078.8 530.6 L1077.3 532.3 L1075.7 533.8 L1074 535 L1072.3 536 L1070.6 536.7 L1068.9 537.1 L1067.3 537.2 L1065.8 536.9 L1064.5 536.4 L1063.4 535.5 L1062.5 534.4 L1061.9 533 L1061.5 531.4 L1061.3 529.6Z" fill="#586069" stroke="#6b7581" stroke-width="1" />
<path d="M1064.7 522.4 L1065.2 521.6 L1065.6 520.8 L1066.1 520 L1066.6 519.3 L1067.2 518.6 L1067.7 517.9 L1068.4 517.3 L1069 516.7 L1069.6 516.1 L1070.3 515.6 L1071 515.1 L1071.7 514.7 L1072.3 514.3 L1073 514 L1073.7 513.8 L1074.4 513.6 L1075 513.5 L1075.7 513.4 L1076.3 513.4 L1076.9 513.4 L1077.5 513.5 L1078 513.7 L1078.6 513.9 L1079 514.2 L1079.5 514.6 L1079.9 515 L1080.3 515.4 L1080.6 515.9 L1080.8 516.4 L1081.1 517 L1081.2 517.7 L1081.4 518.3 L1081.4 519 L1081.4 519.8 L1081.4 520.5 L1081.3 521.3 L1081.2 522.1 L1081 522.9 L1080.8 523.7 L1080.5 524.5" fill="none" stroke="#ffffff" stroke-width="1.2" />
<path d="M1077.3 518.5 L1077.6 518.8 L1077.9 519.1 L1078.1 519.4 L1078.4 519.8 L1078.5 520.2 L1078.7 520.6 L1078.8 521 L1078.9 521.5 L1078.9 522 L1078.9 522.6 L1078.8 523.1 L1078.8 523.7 L1078.6 524.2 L1078.5 524.8 L1078.3 525.4 L1078 526 L1077.8 526.5 L1077.5 527.1 L1077.1 527.7 L1076.8 528.2 L1076.4 528.7 L1076 529.2 L1075.6 529.7 L1075.1 530.1 L1074.7 530.5 L1074.2 530.9 L1073.7 531.2 L1073.2 531.5 L1072.8 531.8 L1072.3 532 L1071.8 532.2 L1071.3 532.3 L1070.8 532.4 L1070.4 532.4 L1069.9 532.4 L1069.5 532.4 L1069.1 532.3 L1068.7 532.1 L1068.4 531.9 L1068.1 531.7" fill="none" stroke="#ffffff" stroke-width="1.2" />
<path d="M1071.7 519.9 L1075.3 516.1" stroke="#ffffff" stroke-width="1.2" fill="none" />
</g>
<g transform="translate(690,700) scale(0.07634)" stroke="#84888d" stroke-width="13" stroke-linejoin="round" fill="#d3d5d7">
<path d="M585 175 L640 170 L700 215 L640 330 L590 300 L560 330 L610 360 L560 460 L500 470 L470 430 L500 340 L455 320 L490 240 L560 270Z"/>
</g>
<path d="M809.5 779.3 L809.5 777.1 L809.9 774.9 L810.4 772.5 L811.2 770.1 L812.3 767.8 L850.5 691 L851.8 688.6 L853.3 686.4 L854.9 684.2 L856.7 682.3 L858.6 680.5 L860.7 679 L862.7 677.7 L864.8 676.7 L866.8 676 L868.8 675.6 L870.7 675.5 L872.5 675.6 L874.1 676.2 L901.6 690 L903 690.8 L904.3 691.9 L905.3 693.2 L906 694.9 L906.5 696.7 L906.8 698.7 L906.8 700.9 L906.5 703.1 L905.9 705.5 L905.1 707.9 L904 710.2 L865.8 787 L864.5 789.4 L863 791.6 L861.4 793.8 L859.6 795.7 L857.6 797.5 L855.6 799 L853.6 800.3 L851.5 801.3 L849.5 802 L847.5 802.4 L845.6 802.5 L843.8 802.4 L842.2 801.8 L814.7 788 L813.3 787.2 L812 786.1 L811 784.8 L810.3 783.1 L809.8 781.3Z" fill="#d9dbdd" stroke="#84888d" stroke-width="1.1" stroke-linejoin="round"/>
<path d="M823.7 786.5 L823.8 784.3 L824 782 L824.6 779.7 L825.4 777.3 L826.5 774.9 L864.7 698.1 L866 695.8 L867.5 693.5 L869.1 691.4 L870.9 689.4 L872.9 687.7 L874.9 686.1 L876.9 684.9 L879 683.8 L881 683.1 L883 682.7 L884.9 682.6 L886.7 682.8 L888.3 683.3 L901.6 690 L903 690.8 L904.3 691.9 L905.3 693.2 L906 694.9 L906.5 696.7 L906.8 698.7 L906.8 700.9 L906.5 703.1 L905.9 705.5 L905.1 707.9 L904 710.2 L865.8 787 L864.5 789.4 L863 791.6 L861.4 793.8 L859.6 795.7 L857.6 797.5 L855.6 799 L853.6 800.3 L851.5 801.3 L849.5 802 L847.5 802.4 L845.6 802.5 L843.8 802.4 L842.2 801.8 L828.9 795.2 L827.5 794.4 L826.2 793.3 L825.2 791.9 L824.5 790.3 L824 788.5Z" fill="#d9dbdd" stroke="#84888d" stroke-width="1.1" stroke-linejoin="round"/>
<g stroke-linejoin="round" stroke-linecap="round">
<path d="M823.7 786.5 L823.8 784.3 L824 782 L824.6 779.7 L825.4 777.3 L826.5 774.9 L864.7 698.1 L866 695.8 L867.5 693.5 L869.1 691.4 L870.9 689.4 L872.9 687.7 L874.9 686.1 L876.9 684.9 L879 683.8 L881 683.1 L883 682.7 L884.9 682.6 L886.7 682.8 L888.3 683.3 L901.6 690 L903 690.8 L904.3 691.9 L905.3 693.2 L906 694.9 L906.5 696.7 L906.8 698.7 L906.8 700.9 L906.5 703.1 L905.9 705.5 L905.1 707.9 L904 710.2 L865.8 787 L864.5 789.4 L863 791.6 L861.4 793.8 L859.6 795.7 L857.6 797.5 L855.6 799 L853.6 800.3 L851.5 801.3 L849.5 802 L847.5 802.4 L845.6 802.5 L843.8 802.4 L842.2 801.8 L828.9 795.2 L827.5 794.4 L826.2 793.3 L825.2 791.9 L824.5 790.3 L824 788.5Z" fill="#d9dbdd" stroke="#84888d" stroke-width="1.1" />
<path d="M839.8 781.5 L838.7 783.9 L837.9 786.3 L837.4 788.7 L837.1 790.9 L837 793.1 L837.3 795.1 L837.8 796.9 L838.5 798.6 L839.5 799.9 L840.8 801 L842.2 801.8 L843.8 802.3 L845.6 802.6 L847.5 802.4 L849.5 802 L851.5 801.3 L853.6 800.3 L855.6 799 L857.6 797.5 L859.6 795.7 L861.4 793.7 L863 791.6 L864.5 789.4 L865.8 787 L904 710.2 L905.1 707.9 L905.9 705.5 L906.4 703.1 L906.7 700.9 L906.8 698.7 L906.5 696.7 L906 694.9 L905.3 693.2 L904.3 691.9 L903 690.8 L901.6 690 L900 689.5 L898.2 689.2 L896.3 689.4 L894.3 689.8 L892.3 690.5 L890.2 691.5 L888.2 692.8 L886.2 694.3 L884.2 696.1 L882.4 698.1 L880.8 700.2 L879.3 702.4 L878 704.8Z" fill="#d3d5d7" stroke="#84888d" stroke-width="1.1" />
<path d="M842.4 782.1 L841.6 784 L840.9 785.9 L840.4 787.8 L840.2 789.6 L840.2 791.3 L840.4 793 L840.8 794.4 L841.4 795.7 L842.2 796.8 L843.2 797.7 L844.3 798.3 L845.6 798.7 L847 798.9 L848.6 798.8 L850.1 798.5 L851.8 797.9 L853.4 797.1 L855.1 796.1 L856.7 794.8 L858.2 793.4 L859.7 791.9 L861 790.2 L862.2 788.4 L863.2 786.5 L901.4 709.7 L902.2 707.8 L902.9 705.9 L903.4 704 L903.6 702.2 L903.6 700.5 L903.4 698.8 L903 697.4 L902.4 696.1 L901.6 695 L900.6 694.1 L899.5 693.5 L898.2 693.1 L896.8 692.9 L895.2 693 L893.7 693.3 L892 693.9 L890.4 694.7 L888.7 695.7 L887.1 697 L885.6 698.4 L884.1 699.9 L882.8 701.6 L881.6 703.4 L880.6 705.3Z" fill="none" stroke="#84888d" stroke-width="0.9" />
<path d="M894.8 722.3 L888.3 735.4 L885.7 731.8 L881.5 731 L885.3 723.3 L889.5 724.2Z" fill="#c9cbcd" stroke="#84888d" stroke-width="0.9" />
<path d="M874.6 718 L868.1 731.1 L873.4 729.2 L877.6 730.1 L881.4 722.4 L877.2 721.6Z" fill="#c9cbcd" stroke="#84888d" stroke-width="0.9" />
<path d="M893.9 695.8 L890.2 703.3 L884.7 702.1 L881.1 709.4 L886.5 710.6 L882.8 718.1 L888.1 719.2 L891.8 711.7 L897.3 712.9 L900.9 705.6 L895.5 704.4 L899.2 696.9Z" fill="#d3d5d7" stroke="#84888d" stroke-width="1.1" />
<path d="M875.7 760.7 L869.2 773.8 L866.6 770.2 L862.4 769.4 L866.2 761.7 L870.4 762.6Z" fill="#c9cbcd" stroke="#84888d" stroke-width="0.9" />
<path d="M855.5 756.4 L849 769.5 L854.3 767.6 L858.5 768.5 L862.3 760.8 L858.1 760Z" fill="#c9cbcd" stroke="#84888d" stroke-width="0.9" />
<path d="M863.9 762 L865.8 762.2 L867.9 762 L870.1 761.4 L872.3 760.4 L874.5 759.1 L876.7 757.4 L878.7 755.4 L880.6 753.2 L882.2 750.9 L883.6 748.4 L884.8 745.8 L885.5 743.3 L886 740.8 L886.1 738.4 L885.9 736.3 L885.3 734.3 L884.4 732.7 L883.2 731.3 L881.7 730.4 L879.9 729.8 L878 729.6 L875.9 729.8 L873.7 730.4 L871.5 731.4 L869.3 732.7 L867.1 734.4 L865.1 736.4 L863.2 738.6 L861.6 740.9 L860.2 743.4 L859 746 L858.3 748.5 L857.8 751 L857.7 753.4 L857.9 755.5 L858.5 757.5 L859.4 759.1 L860.6 760.5 L862.1 761.4 L863.9 762Z" fill="#d6d8da" stroke="#84888d" stroke-width="1.1" />
<path d="M864.2 760.2 L865.8 760.3 L867.6 760.2 L869.4 759.6 L871.3 758.8 L873.2 757.7 L875 756.3 L876.7 754.6 L878.3 752.8 L879.7 750.8 L880.9 748.6 L881.8 746.5 L882.5 744.3 L882.9 742.2 L883 740.2 L882.8 738.4 L882.3 736.8 L881.5 735.4 L880.5 734.2 L879.2 733.4 L877.7 732.9 L876.1 732.8 L874.3 732.9 L872.5 733.5 L870.6 734.3 L868.7 735.4 L866.9 736.8 L865.2 738.5 L863.6 740.3 L862.2 742.3 L861 744.5 L860.1 746.6 L859.4 748.8 L859 750.9 L858.9 752.9 L859.1 754.7 L859.6 756.3 L860.4 757.7 L861.4 758.9 L862.7 759.7 L864.2 760.2Z" fill="#d6d8da" stroke="#84888d" stroke-width="0.9" />
<path d="M864.9 758 L866.3 758.1 L867.7 758 L869.2 757.6 L870.8 756.9 L872.3 756 L873.8 754.8 L875.2 753.5 L876.5 751.9 L877.6 750.3 L878.6 748.6 L879.4 746.8 L879.9 745.1 L880.2 743.3 L880.3 741.7 L880.1 740.2 L879.7 738.9 L879.1 737.7 L878.3 736.8 L877.2 736.1 L876 735.7 L874.7 735.6 L873.3 735.8 L871.7 736.2 L870.2 736.9 L868.7 737.8 L867.2 738.9 L865.8 740.3 L864.5 741.8 L863.3 743.4 L862.4 745.2 L861.6 746.9 L861.1 748.7 L860.7 750.4 L860.7 752 L860.8 753.5 L861.2 754.9 L861.9 756 L862.7 756.9 L863.7 757.6 L864.9 758Z" fill="#c4c6c9" stroke="#84888d" stroke-width="1.1" />
<path d="M855.7 772.6 L852 780.1 L846.5 778.9 L842.9 786.2 L848.3 787.4 L844.6 794.9 L849.9 796 L853.6 788.5 L859.1 789.7 L862.7 782.4 L857.3 781.2 L861 773.7Z" fill="#d3d5d7" stroke="#84888d" stroke-width="1.1" />
</g>
<g stroke-linejoin="round">
<path d="M874.8 713 L874.9 710.8 L875.3 708.5 L876 706.1 L876.9 703.7 L878 701.4 L879.3 699.1 L880.8 696.9 L882.5 694.9 L884.3 693 L886.2 691.4 L888.2 690 L890.2 688.8 L1195.2 537.8 L1197.2 537 L1199.2 536.4 L1201.1 536.2 L1202.9 536.2 L1204.6 536.6 L1206.1 537.3 L1234.9 552.8 L1236.2 553.8 L1237.3 555 L1238.2 556.5 L1238.9 558.2 L1239.3 560.2 L1239.4 562.3 L1239.3 564.5 L1238.9 566.8 L1238.2 569.2 L1237.3 571.6 L1236.2 573.9 L1234.9 576.2 L1233.4 578.4 L1231.7 580.4 L1229.9 582.3 L1228 583.9 L1226 585.3 L1224 586.5 L919 737.5 L917 738.3 L915 738.9 L913.1 739.1 L911.3 739.1 L909.6 738.7 L908.1 738 L879.3 722.5 L878 721.5 L876.9 720.3 L876 718.8 L875.3 717 L874.9 715.1Z" fill="#f5b368" stroke="#5f6870" stroke-width="1.3" />
<path d="M919 737.5 L917 738.3 L915 738.9 L913.1 739.1 L911.3 739.1 L909.6 738.7 L908.1 738 L906.8 737 L905.7 735.8 L904.8 734.3 L904.1 732.6 L903.7 730.6 L903.6 728.5 L903.7 726.3 L904.1 724 L904.8 721.6 L905.7 719.2 L906.8 716.9 L908.1 714.6 L909.6 712.4 L911.3 710.4 L913.1 708.5 L915 706.9 L917 705.5 L919 704.3 L1224 553.3 L1226 552.5 L1228 551.9 L1229.9 551.7 L1231.7 551.7 L1233.4 552.1 L1234.9 552.8 L1236.2 553.8 L1237.3 555 L1238.2 556.5 L1238.9 558.2 L1239.3 560.2 L1239.4 562.3 L1239.3 564.5 L1238.9 566.8 L1238.2 569.2 L1237.3 571.6 L1236.2 573.9 L1234.9 576.2 L1233.4 578.4 L1231.7 580.4 L1229.9 582.3 L1228 583.9 L1226 585.3 L1224 586.5Z" fill="#f3ad60" stroke="#5f6870" stroke-width="1.3" />
<path d="M919 735.8 L917.2 736.6 L915.4 737.1 L913.7 737.3 L912.1 737.2 L910.6 736.9 L909.2 736.3 L908 735.4 L907 734.3 L906.2 732.9 L905.6 731.4 L905.3 729.7 L905.1 727.8 L905.3 725.8 L905.6 723.7 L906.2 721.5 L907 719.4 L908 717.3 L909.2 715.2 L910.6 713.3 L912.1 711.4 L913.7 709.8 L915.4 708.3 L917.2 707 L919 706 L1224 555 L1225.8 554.2 L1227.6 553.7 L1229.3 553.5 L1230.9 553.6 L1232.4 553.9 L1233.8 554.5 L1235 555.4 L1236 556.5 L1236.8 557.9 L1237.4 559.4 L1237.7 561.1 L1237.9 563 L1237.7 565 L1237.4 567.1 L1236.8 569.3 L1236 571.4 L1235 573.5 L1233.8 575.6 L1232.4 577.5 L1230.9 579.4 L1229.3 581 L1227.6 582.5 L1225.8 583.8 L1224 584.8Z" fill="none" stroke="#5f6870" stroke-width="0.9" />
<path d="M1214.8 562.6 L1202.7 568.7 L1207.8 575.6 L1209.7 574.7ZM1214.8 586.2 L1202.7 592.3 L1207.8 580.2 L1209.7 579.3Z" fill="#f0a857" stroke="#5f6870" stroke-width="1" />
<path d="M1211.2 576.2 L1211.3 574 L1211.8 571.7 L1212.6 569.3 L1213.6 566.9 L1214.9 564.6 L1216.5 562.5 L1218.2 560.5 L1220 558.8 L1222 557.3 L1224 556.1 L1226 555.3 L1228 554.8 L1229.8 554.7 L1231.5 555 L1233.1 555.7 L1234.4 556.7 L1235.4 558 L1236.2 559.6 L1236.7 561.5 L1236.8 563.6 L1236.7 565.8 L1236.2 568.1 L1235.4 570.5 L1234.4 572.9 L1233.1 575.2 L1231.5 577.3 L1229.8 579.3 L1228 581 L1226 582.5 L1224 583.7 L1222 584.5 L1220 585 L1218.2 585.1 L1216.5 584.8 L1214.9 584.1 L1213.6 583.1 L1212.6 581.8 L1211.8 580.2 L1211.3 578.3 L1211.2 576.2Z" fill="#f3ad60" stroke="#5f6870" stroke-width="1.1" />
<path d="M1212.2 575.9 L1212.4 574 L1212.8 572 L1213.4 570 L1214.3 568 L1215.4 566 L1216.7 564.1 L1218.2 562.4 L1219.8 560.9 L1221.5 559.7 L1223.2 558.7 L1224.9 558 L1226.6 557.6 L1228.2 557.5 L1229.7 557.8 L1231 558.3 L1232.1 559.2 L1233 560.3 L1233.6 561.7 L1234 563.3 L1234.2 565.1 L1234 567 L1233.6 569 L1233 571 L1232.1 573 L1231 575 L1229.7 576.9 L1228.2 578.6 L1226.6 580.1 L1224.9 581.3 L1223.2 582.3 L1221.5 583 L1219.8 583.4 L1218.2 583.5 L1216.7 583.2 L1215.4 582.7 L1214.3 581.8 L1213.4 580.7 L1212.8 579.3 L1212.4 577.7 L1212.2 575.9Z" fill="none" stroke="#5f6870" stroke-width="1" />
<path d="M1216.3 573.5 L1216.4 572 L1216.7 570.5 L1217.2 568.9 L1217.9 567.3 L1218.8 565.8 L1219.8 564.4 L1220.9 563 L1222.2 561.9 L1223.5 560.9 L1224.8 560.1 L1226.1 559.6 L1227.4 559.3 L1228.7 559.2 L1229.8 559.4 L1230.8 559.8 L1231.7 560.5 L1232.4 561.4 L1232.9 562.4 L1233.2 563.7 L1233.3 565.1 L1233.2 566.6 L1232.9 568.1 L1232.4 569.7 L1231.7 571.3 L1230.8 572.8 L1229.8 574.2 L1228.7 575.6 L1227.4 576.7 L1226.1 577.7 L1224.8 578.5 L1223.5 579 L1222.2 579.3 L1220.9 579.4 L1219.8 579.2 L1218.8 578.8 L1217.9 578.1 L1217.2 577.2 L1216.7 576.2 L1216.4 574.9 L1216.3 573.5Z" fill="#f6b66c" stroke="#5f6870" stroke-width="1" />
<path d="M1184.3 577.7 L1172.2 583.8 L1177.3 590.7 L1179.2 589.8ZM1184.3 601.3 L1172.2 607.4 L1177.3 595.3 L1179.2 594.4Z" fill="#f0a857" stroke="#5f6870" stroke-width="1" />
<path d="M1180.7 591.3 L1180.8 589.1 L1181.3 586.8 L1182.1 584.4 L1183.1 582 L1184.4 579.7 L1186 577.6 L1187.7 575.6 L1189.5 573.9 L1191.5 572.4 L1193.5 571.2 L1195.5 570.4 L1197.5 569.9 L1199.3 569.8 L1201 570.1 L1202.6 570.8 L1203.9 571.8 L1204.9 573.1 L1205.7 574.7 L1206.2 576.6 L1206.3 578.7 L1206.2 580.9 L1205.7 583.2 L1204.9 585.6 L1203.9 588 L1202.6 590.3 L1201 592.4 L1199.3 594.4 L1197.5 596.1 L1195.5 597.6 L1193.5 598.8 L1191.5 599.6 L1189.5 600.1 L1187.7 600.2 L1186 599.9 L1184.4 599.2 L1183.1 598.2 L1182.1 596.9 L1181.3 595.3 L1180.8 593.4 L1180.7 591.3Z" fill="#f3ad60" stroke="#5f6870" stroke-width="1.1" />
<path d="M1181.7 591 L1181.9 589.1 L1182.3 587.1 L1182.9 585.1 L1183.8 583.1 L1184.9 581.1 L1186.2 579.2 L1187.7 577.5 L1189.3 576 L1191 574.8 L1192.7 573.8 L1194.4 573.1 L1196.1 572.7 L1197.7 572.6 L1199.2 572.9 L1200.5 573.4 L1201.6 574.3 L1202.5 575.4 L1203.1 576.8 L1203.5 578.4 L1203.7 580.2 L1203.5 582.1 L1203.1 584.1 L1202.5 586.1 L1201.6 588.1 L1200.5 590.1 L1199.2 592 L1197.7 593.7 L1196.1 595.2 L1194.4 596.4 L1192.7 597.4 L1191 598.1 L1189.3 598.5 L1187.7 598.6 L1186.2 598.3 L1184.9 597.8 L1183.8 596.9 L1182.9 595.8 L1182.3 594.4 L1181.9 592.8 L1181.7 591Z" fill="none" stroke="#5f6870" stroke-width="1" />
<path d="M1185.8 588.6 L1185.9 587.1 L1186.2 585.6 L1186.7 584 L1187.4 582.4 L1188.3 580.9 L1189.3 579.5 L1190.4 578.1 L1191.7 577 L1193 576 L1194.3 575.2 L1195.6 574.7 L1196.9 574.4 L1198.2 574.3 L1199.3 574.5 L1200.3 574.9 L1201.2 575.6 L1201.9 576.5 L1202.4 577.5 L1202.7 578.8 L1202.8 580.2 L1202.7 581.7 L1202.4 583.2 L1201.9 584.8 L1201.2 586.4 L1200.3 587.9 L1199.3 589.3 L1198.2 590.7 L1196.9 591.8 L1195.6 592.8 L1194.3 593.6 L1193 594.1 L1191.7 594.4 L1190.4 594.5 L1189.3 594.3 L1188.3 593.9 L1187.4 593.2 L1186.7 592.3 L1186.2 591.3 L1185.9 590 L1185.8 588.6Z" fill="#f6b66c" stroke="#5f6870" stroke-width="1" />
<path d="M1153.8 592.8 L1141.7 598.9 L1146.8 605.8 L1148.7 604.9ZM1153.8 616.4 L1141.7 622.5 L1146.8 610.4 L1148.7 609.5Z" fill="#f0a857" stroke="#5f6870" stroke-width="1" />
<path d="M1150.2 606.4 L1150.3 604.2 L1150.8 601.9 L1151.6 599.5 L1152.6 597.1 L1153.9 594.8 L1155.5 592.7 L1157.2 590.7 L1159 589 L1161 587.5 L1163 586.3 L1165 585.5 L1167 585 L1168.8 584.9 L1170.5 585.2 L1172.1 585.9 L1173.4 586.9 L1174.4 588.2 L1175.2 589.8 L1175.7 591.7 L1175.8 593.8 L1175.7 596 L1175.2 598.3 L1174.4 600.7 L1173.4 603.1 L1172.1 605.4 L1170.5 607.5 L1168.8 609.5 L1167 611.2 L1165 612.7 L1163 613.9 L1161 614.7 L1159 615.2 L1157.2 615.3 L1155.5 615 L1153.9 614.3 L1152.6 613.3 L1151.6 612 L1150.8 610.4 L1150.3 608.5 L1150.2 606.4Z" fill="#f3ad60" stroke="#5f6870" stroke-width="1.1" />
<path d="M1151.2 606.1 L1151.4 604.2 L1151.8 602.2 L1152.4 600.2 L1153.3 598.2 L1154.4 596.2 L1155.7 594.3 L1157.2 592.6 L1158.8 591.1 L1160.5 589.9 L1162.2 588.9 L1163.9 588.2 L1165.6 587.8 L1167.2 587.7 L1168.7 588 L1170 588.5 L1171.1 589.4 L1172 590.5 L1172.6 591.9 L1173 593.5 L1173.2 595.3 L1173 597.2 L1172.6 599.2 L1172 601.2 L1171.1 603.2 L1170 605.2 L1168.7 607.1 L1167.2 608.8 L1165.6 610.3 L1163.9 611.5 L1162.2 612.5 L1160.5 613.2 L1158.8 613.6 L1157.2 613.7 L1155.7 613.4 L1154.4 612.9 L1153.3 612 L1152.4 610.9 L1151.8 609.5 L1151.4 607.9 L1151.2 606.1Z" fill="none" stroke="#5f6870" stroke-width="1" />
<path d="M1155.3 603.7 L1155.4 602.2 L1155.7 600.7 L1156.2 599.1 L1156.9 597.5 L1157.8 596 L1158.8 594.6 L1159.9 593.2 L1161.2 592.1 L1162.5 591.1 L1163.8 590.3 L1165.1 589.8 L1166.4 589.5 L1167.7 589.4 L1168.8 589.6 L1169.8 590 L1170.7 590.7 L1171.4 591.6 L1171.9 592.6 L1172.2 593.9 L1172.3 595.3 L1172.2 596.8 L1171.9 598.3 L1171.4 599.9 L1170.7 601.5 L1169.8 603 L1168.8 604.4 L1167.7 605.8 L1166.4 606.9 L1165.1 607.9 L1163.8 608.7 L1162.5 609.2 L1161.2 609.5 L1159.9 609.6 L1158.8 609.4 L1157.8 609 L1156.9 608.3 L1156.2 607.4 L1155.7 606.4 L1155.4 605.1 L1155.3 603.7Z" fill="#f6b66c" stroke="#5f6870" stroke-width="1" />
<path d="M1123.3 607.9 L1111.2 614 L1116.3 620.9 L1118.2 620ZM1123.3 631.5 L1111.2 637.6 L1116.3 625.5 L1118.2 624.6Z" fill="#f0a857" stroke="#5f6870" stroke-width="1" />
<path d="M1119.7 621.5 L1119.8 619.3 L1120.3 617 L1121.1 614.6 L1122.1 612.2 L1123.4 609.9 L1125 607.8 L1126.7 605.8 L1128.5 604.1 L1130.5 602.6 L1132.5 601.4 L1134.5 600.6 L1136.5 600.1 L1138.3 600 L1140 600.3 L1141.6 601 L1142.9 602 L1143.9 603.3 L1144.7 604.9 L1145.2 606.8 L1145.3 608.9 L1145.2 611.1 L1144.7 613.4 L1143.9 615.8 L1142.9 618.2 L1141.6 620.5 L1140 622.6 L1138.3 624.6 L1136.5 626.3 L1134.5 627.8 L1132.5 629 L1130.5 629.8 L1128.5 630.3 L1126.7 630.4 L1125 630.1 L1123.4 629.4 L1122.1 628.4 L1121.1 627.1 L1120.3 625.5 L1119.8 623.6 L1119.7 621.5Z" fill="#f3ad60" stroke="#5f6870" stroke-width="1.1" />
<path d="M1120.7 621.2 L1120.9 619.3 L1121.3 617.3 L1121.9 615.3 L1122.8 613.3 L1123.9 611.3 L1125.2 609.4 L1126.7 607.7 L1128.3 606.2 L1130 605 L1131.7 604 L1133.4 603.3 L1135.1 602.9 L1136.7 602.8 L1138.2 603.1 L1139.5 603.6 L1140.6 604.5 L1141.5 605.6 L1142.1 607 L1142.5 608.6 L1142.7 610.4 L1142.5 612.3 L1142.1 614.3 L1141.5 616.3 L1140.6 618.3 L1139.5 620.3 L1138.2 622.2 L1136.7 623.9 L1135.1 625.4 L1133.4 626.6 L1131.7 627.6 L1130 628.3 L1128.3 628.7 L1126.7 628.8 L1125.2 628.5 L1123.9 628 L1122.8 627.1 L1121.9 626 L1121.3 624.6 L1120.9 623 L1120.7 621.2Z" fill="none" stroke="#5f6870" stroke-width="1" />
<path d="M1124.8 618.8 L1124.9 617.3 L1125.2 615.8 L1125.7 614.2 L1126.4 612.6 L1127.3 611.1 L1128.3 609.7 L1129.4 608.3 L1130.7 607.2 L1132 606.2 L1133.3 605.4 L1134.6 604.9 L1135.9 604.6 L1137.2 604.5 L1138.3 604.7 L1139.3 605.1 L1140.2 605.8 L1140.9 606.7 L1141.4 607.7 L1141.7 609 L1141.8 610.4 L1141.7 611.9 L1141.4 613.4 L1140.9 615 L1140.2 616.6 L1139.3 618.1 L1138.3 619.5 L1137.2 620.9 L1135.9 622 L1134.6 623 L1133.3 623.8 L1132 624.3 L1130.7 624.6 L1129.4 624.7 L1128.3 624.5 L1127.3 624.1 L1126.4 623.4 L1125.7 622.5 L1125.2 621.5 L1124.9 620.2 L1124.8 618.8Z" fill="#f6b66c" stroke="#5f6870" stroke-width="1" />
<path d="M1092.8 623 L1080.7 629.1 L1085.8 636 L1087.7 635.1ZM1092.8 646.6 L1080.7 652.7 L1085.8 640.6 L1087.7 639.7Z" fill="#f0a857" stroke="#5f6870" stroke-width="1" />
<path d="M1089.2 636.6 L1089.3 634.4 L1089.8 632.1 L1090.6 629.7 L1091.6 627.3 L1092.9 625 L1094.5 622.9 L1096.2 620.9 L1098 619.2 L1100 617.7 L1102 616.5 L1104 615.7 L1106 615.2 L1107.8 615.1 L1109.5 615.4 L1111.1 616.1 L1112.4 617.1 L1113.4 618.4 L1114.2 620 L1114.7 621.9 L1114.8 624 L1114.7 626.2 L1114.2 628.5 L1113.4 630.9 L1112.4 633.3 L1111.1 635.6 L1109.5 637.7 L1107.8 639.7 L1106 641.4 L1104 642.9 L1102 644.1 L1100 644.9 L1098 645.4 L1096.2 645.5 L1094.5 645.2 L1092.9 644.5 L1091.6 643.5 L1090.6 642.2 L1089.8 640.6 L1089.3 638.7 L1089.2 636.6Z" fill="#f3ad60" stroke="#5f6870" stroke-width="1.1" />
<path d="M1090.2 636.3 L1090.4 634.4 L1090.8 632.4 L1091.4 630.4 L1092.3 628.4 L1093.4 626.4 L1094.7 624.5 L1096.2 622.8 L1097.8 621.3 L1099.5 620.1 L1101.2 619.1 L1102.9 618.4 L1104.6 618 L1106.2 617.9 L1107.7 618.2 L1109 618.7 L1110.1 619.6 L1111 620.7 L1111.6 622.1 L1112 623.7 L1112.2 625.5 L1112 627.4 L1111.6 629.4 L1111 631.4 L1110.1 633.4 L1109 635.4 L1107.7 637.3 L1106.2 639 L1104.6 640.5 L1102.9 641.7 L1101.2 642.7 L1099.5 643.4 L1097.8 643.8 L1096.2 643.9 L1094.7 643.6 L1093.4 643.1 L1092.3 642.2 L1091.4 641.1 L1090.8 639.7 L1090.4 638.1 L1090.2 636.3Z" fill="none" stroke="#5f6870" stroke-width="1" />
<path d="M1094.3 633.9 L1094.4 632.4 L1094.7 630.9 L1095.2 629.3 L1095.9 627.7 L1096.8 626.2 L1097.8 624.8 L1098.9 623.4 L1100.2 622.3 L1101.5 621.3 L1102.8 620.5 L1104.1 620 L1105.4 619.7 L1106.7 619.6 L1107.8 619.8 L1108.8 620.2 L1109.7 620.9 L1110.4 621.8 L1110.9 622.8 L1111.2 624.1 L1111.3 625.5 L1111.2 627 L1110.9 628.5 L1110.4 630.1 L1109.7 631.7 L1108.8 633.2 L1107.8 634.6 L1106.7 636 L1105.4 637.1 L1104.1 638.1 L1102.8 638.9 L1101.5 639.4 L1100.2 639.7 L1098.9 639.8 L1097.8 639.6 L1096.8 639.2 L1095.9 638.5 L1095.2 637.6 L1094.7 636.6 L1094.4 635.3 L1094.3 633.9Z" fill="#f6b66c" stroke="#5f6870" stroke-width="1" />
<path d="M1062.3 638.1 L1050.2 644.2 L1055.3 651.1 L1057.2 650.2ZM1062.3 661.7 L1050.2 667.8 L1055.3 655.7 L1057.2 654.8Z" fill="#f0a857" stroke="#5f6870" stroke-width="1" />
<path d="M1058.7 651.7 L1058.8 649.5 L1059.3 647.2 L1060.1 644.8 L1061.1 642.4 L1062.4 640.1 L1064 638 L1065.7 636 L1067.5 634.3 L1069.5 632.8 L1071.5 631.6 L1073.5 630.8 L1075.5 630.3 L1077.3 630.2 L1079 630.5 L1080.6 631.2 L1081.9 632.2 L1082.9 633.5 L1083.7 635.1 L1084.2 637 L1084.3 639.1 L1084.2 641.3 L1083.7 643.6 L1082.9 646 L1081.9 648.4 L1080.6 650.7 L1079 652.8 L1077.3 654.8 L1075.5 656.5 L1073.5 658 L1071.5 659.2 L1069.5 660 L1067.5 660.5 L1065.7 660.6 L1064 660.3 L1062.4 659.6 L1061.1 658.6 L1060.1 657.3 L1059.3 655.7 L1058.8 653.8 L1058.7 651.7Z" fill="#f3ad60" stroke="#5f6870" stroke-width="1.1" />
<path d="M1059.7 651.4 L1059.9 649.5 L1060.3 647.5 L1060.9 645.5 L1061.8 643.5 L1062.9 641.5 L1064.2 639.6 L1065.7 637.9 L1067.3 636.4 L1069 635.2 L1070.7 634.2 L1072.4 633.5 L1074.1 633.1 L1075.7 633 L1077.2 633.3 L1078.5 633.8 L1079.6 634.7 L1080.5 635.8 L1081.1 637.2 L1081.5 638.8 L1081.7 640.6 L1081.5 642.5 L1081.1 644.5 L1080.5 646.5 L1079.6 648.5 L1078.5 650.5 L1077.2 652.4 L1075.7 654.1 L1074.1 655.6 L1072.4 656.8 L1070.7 657.8 L1069 658.5 L1067.3 658.9 L1065.7 659 L1064.2 658.7 L1062.9 658.2 L1061.8 657.3 L1060.9 656.2 L1060.3 654.8 L1059.9 653.2 L1059.7 651.4Z" fill="none" stroke="#5f6870" stroke-width="1" />
<path d="M1063.8 649 L1063.9 647.5 L1064.2 646 L1064.7 644.4 L1065.4 642.8 L1066.3 641.3 L1067.3 639.9 L1068.4 638.5 L1069.7 637.4 L1071 636.4 L1072.3 635.6 L1073.6 635.1 L1074.9 634.8 L1076.2 634.7 L1077.3 634.9 L1078.3 635.3 L1079.2 636 L1079.9 636.9 L1080.4 637.9 L1080.7 639.2 L1080.8 640.6 L1080.7 642.1 L1080.4 643.6 L1079.9 645.2 L1079.2 646.8 L1078.3 648.3 L1077.3 649.7 L1076.2 651.1 L1074.9 652.2 L1073.6 653.2 L1072.3 654 L1071 654.5 L1069.7 654.8 L1068.4 654.9 L1067.3 654.7 L1066.3 654.3 L1065.4 653.6 L1064.7 652.7 L1064.2 651.7 L1063.9 650.4 L1063.8 649Z" fill="#f6b66c" stroke="#5f6870" stroke-width="1" />
<path d="M1031.8 653.2 L1019.6 659.3 L1024.8 666.2 L1026.7 665.3ZM1031.8 676.8 L1019.6 682.9 L1024.8 670.8 L1026.7 669.9Z" fill="#f0a857" stroke="#5f6870" stroke-width="1" />
<path d="M1028.2 666.8 L1028.3 664.6 L1028.8 662.3 L1029.6 659.9 L1030.6 657.5 L1031.9 655.2 L1033.5 653.1 L1035.2 651.1 L1037 649.4 L1039 647.9 L1041 646.7 L1043 645.9 L1045 645.4 L1046.8 645.3 L1048.5 645.6 L1050.1 646.3 L1051.4 647.3 L1052.4 648.6 L1053.2 650.2 L1053.7 652.1 L1053.8 654.2 L1053.7 656.4 L1053.2 658.7 L1052.4 661.1 L1051.4 663.5 L1050.1 665.8 L1048.5 667.9 L1046.8 669.9 L1045 671.6 L1043 673.1 L1041 674.3 L1039 675.1 L1037 675.6 L1035.2 675.7 L1033.5 675.4 L1031.9 674.7 L1030.6 673.7 L1029.6 672.4 L1028.8 670.8 L1028.3 668.9 L1028.2 666.8Z" fill="#f3ad60" stroke="#5f6870" stroke-width="1.1" />
<path d="M1029.2 666.5 L1029.4 664.6 L1029.8 662.6 L1030.4 660.6 L1031.3 658.6 L1032.4 656.6 L1033.7 654.7 L1035.2 653 L1036.8 651.5 L1038.5 650.3 L1040.2 649.3 L1041.9 648.6 L1043.6 648.2 L1045.2 648.1 L1046.7 648.4 L1048 648.9 L1049.1 649.8 L1050 650.9 L1050.6 652.3 L1051 653.9 L1051.2 655.7 L1051 657.6 L1050.6 659.6 L1050 661.6 L1049.1 663.6 L1048 665.6 L1046.7 667.5 L1045.2 669.2 L1043.6 670.7 L1041.9 671.9 L1040.2 672.9 L1038.5 673.6 L1036.8 674 L1035.2 674.1 L1033.7 673.8 L1032.4 673.3 L1031.3 672.4 L1030.4 671.3 L1029.8 669.9 L1029.4 668.3 L1029.2 666.5Z" fill="none" stroke="#5f6870" stroke-width="1" />
<path d="M1033.3 664.1 L1033.4 662.6 L1033.7 661.1 L1034.2 659.5 L1034.9 657.9 L1035.8 656.4 L1036.8 655 L1037.9 653.6 L1039.2 652.5 L1040.5 651.5 L1041.8 650.7 L1043.1 650.2 L1044.4 649.9 L1045.7 649.8 L1046.8 650 L1047.8 650.4 L1048.7 651.1 L1049.4 652 L1049.9 653 L1050.2 654.3 L1050.3 655.7 L1050.2 657.2 L1049.9 658.7 L1049.4 660.3 L1048.7 661.9 L1047.8 663.4 L1046.8 664.8 L1045.7 666.2 L1044.4 667.3 L1043.1 668.3 L1041.8 669.1 L1040.5 669.6 L1039.2 669.9 L1037.9 670 L1036.8 669.8 L1035.8 669.4 L1034.9 668.7 L1034.2 667.8 L1033.7 666.8 L1033.4 665.5 L1033.3 664.1Z" fill="#f6b66c" stroke="#5f6870" stroke-width="1" />
<path d="M1001.4 668.3 L989.1 674.4 L994.3 681.3 L996.2 680.4ZM1001.4 691.9 L989.1 698 L994.3 685.9 L996.2 685Z" fill="#f0a857" stroke="#5f6870" stroke-width="1" />
<path d="M997.7 681.9 L997.8 679.7 L998.3 677.4 L999.1 675 L1000.1 672.6 L1001.4 670.3 L1003 668.2 L1004.7 666.2 L1006.5 664.5 L1008.5 663 L1010.5 661.8 L1012.5 661 L1014.5 660.5 L1016.3 660.4 L1018 660.7 L1019.6 661.4 L1020.9 662.4 L1021.9 663.7 L1022.7 665.3 L1023.2 667.2 L1023.3 669.3 L1023.2 671.5 L1022.7 673.8 L1021.9 676.2 L1020.9 678.6 L1019.6 680.9 L1018 683 L1016.3 685 L1014.5 686.7 L1012.5 688.2 L1010.5 689.4 L1008.5 690.2 L1006.5 690.7 L1004.7 690.8 L1003 690.5 L1001.4 689.8 L1000.1 688.8 L999.1 687.5 L998.3 685.9 L997.8 684 L997.7 681.9Z" fill="#f3ad60" stroke="#5f6870" stroke-width="1.1" />
<path d="M998.7 681.6 L998.9 679.7 L999.3 677.7 L999.9 675.7 L1000.8 673.7 L1001.9 671.7 L1003.2 669.8 L1004.7 668.1 L1006.3 666.6 L1008 665.4 L1009.7 664.4 L1011.4 663.7 L1013.1 663.3 L1014.7 663.2 L1016.2 663.5 L1017.5 664 L1018.6 664.9 L1019.5 666 L1020.1 667.4 L1020.5 669 L1020.7 670.8 L1020.5 672.7 L1020.1 674.7 L1019.5 676.7 L1018.6 678.7 L1017.5 680.7 L1016.2 682.6 L1014.7 684.3 L1013.1 685.8 L1011.4 687 L1009.7 688 L1008 688.7 L1006.3 689.1 L1004.7 689.2 L1003.2 688.9 L1001.9 688.4 L1000.8 687.5 L999.9 686.4 L999.3 685 L998.9 683.4 L998.7 681.6Z" fill="none" stroke="#5f6870" stroke-width="1" />
<path d="M1002.8 679.2 L1002.9 677.7 L1003.2 676.2 L1003.7 674.6 L1004.4 673 L1005.3 671.5 L1006.3 670.1 L1007.4 668.7 L1008.7 667.6 L1010 666.6 L1011.3 665.8 L1012.6 665.3 L1013.9 665 L1015.2 664.9 L1016.3 665.1 L1017.3 665.5 L1018.2 666.2 L1018.9 667.1 L1019.4 668.1 L1019.7 669.4 L1019.8 670.8 L1019.7 672.3 L1019.4 673.8 L1018.9 675.4 L1018.2 677 L1017.3 678.5 L1016.3 679.9 L1015.2 681.3 L1013.9 682.4 L1012.6 683.4 L1011.3 684.2 L1010 684.7 L1008.7 685 L1007.4 685.1 L1006.3 684.9 L1005.3 684.5 L1004.4 683.8 L1003.7 682.9 L1003.2 681.9 L1002.9 680.6 L1002.8 679.2Z" fill="#f6b66c" stroke="#5f6870" stroke-width="1" />
<path d="M970.9 683.4 L958.6 689.5 L963.8 696.4 L965.7 695.5ZM970.9 707 L958.6 713.1 L963.8 701 L965.7 700.1Z" fill="#f0a857" stroke="#5f6870" stroke-width="1" />
<path d="M967.2 697 L967.3 694.8 L967.8 692.5 L968.6 690.1 L969.6 687.7 L970.9 685.4 L972.5 683.3 L974.2 681.3 L976 679.6 L978 678.1 L980 676.9 L982 676.1 L984 675.6 L985.8 675.5 L987.5 675.8 L989.1 676.5 L990.4 677.5 L991.4 678.8 L992.2 680.4 L992.7 682.3 L992.8 684.4 L992.7 686.6 L992.2 688.9 L991.4 691.3 L990.4 693.7 L989.1 696 L987.5 698.1 L985.8 700.1 L984 701.8 L982 703.3 L980 704.5 L978 705.3 L976 705.8 L974.2 705.9 L972.5 705.6 L970.9 704.9 L969.6 703.9 L968.6 702.6 L967.8 701 L967.3 699.1 L967.2 697Z" fill="#f3ad60" stroke="#5f6870" stroke-width="1.1" />
<path d="M968.2 696.7 L968.4 694.8 L968.8 692.8 L969.4 690.8 L970.3 688.8 L971.4 686.8 L972.7 684.9 L974.2 683.2 L975.8 681.7 L977.5 680.5 L979.2 679.5 L980.9 678.8 L982.6 678.4 L984.2 678.3 L985.7 678.6 L987 679.1 L988.1 680 L989 681.1 L989.6 682.5 L990 684.1 L990.2 685.9 L990 687.8 L989.6 689.8 L989 691.8 L988.1 693.8 L987 695.8 L985.7 697.7 L984.2 699.4 L982.6 700.9 L980.9 702.1 L979.2 703.1 L977.5 703.8 L975.8 704.2 L974.2 704.3 L972.7 704 L971.4 703.5 L970.3 702.6 L969.4 701.5 L968.8 700.1 L968.4 698.5 L968.2 696.7Z" fill="none" stroke="#5f6870" stroke-width="1" />
<path d="M972.3 694.3 L972.4 692.8 L972.7 691.3 L973.2 689.7 L973.9 688.1 L974.8 686.6 L975.8 685.2 L976.9 683.8 L978.2 682.7 L979.5 681.7 L980.8 680.9 L982.1 680.4 L983.4 680.1 L984.7 680 L985.8 680.2 L986.8 680.6 L987.7 681.3 L988.4 682.2 L988.9 683.2 L989.2 684.5 L989.3 685.9 L989.2 687.4 L988.9 688.9 L988.4 690.5 L987.7 692.1 L986.8 693.6 L985.8 695 L984.7 696.4 L983.4 697.5 L982.1 698.5 L980.8 699.3 L979.5 699.8 L978.2 700.1 L976.9 700.2 L975.8 700 L974.8 699.6 L973.9 698.9 L973.2 698 L972.7 697 L972.4 695.7 L972.3 694.3Z" fill="#f6b66c" stroke="#5f6870" stroke-width="1" />
<path d="M940.4 698.5 L928.1 704.6 L933.3 711.5 L935.2 710.6ZM940.4 722.1 L928.1 728.2 L933.3 716.1 L935.2 715.2Z" fill="#f0a857" stroke="#5f6870" stroke-width="1" />
<path d="M936.7 712.1 L936.8 709.9 L937.3 707.6 L938.1 705.2 L939.1 702.8 L940.4 700.5 L942 698.4 L943.7 696.4 L945.5 694.7 L947.5 693.2 L949.5 692 L951.5 691.2 L953.5 690.7 L955.3 690.6 L957 690.9 L958.6 691.6 L959.9 692.6 L960.9 693.9 L961.7 695.5 L962.2 697.4 L962.3 699.5 L962.2 701.7 L961.7 704 L960.9 706.4 L959.9 708.8 L958.6 711.1 L957 713.2 L955.3 715.2 L953.5 716.9 L951.5 718.4 L949.5 719.6 L947.5 720.4 L945.5 720.9 L943.7 721 L942 720.7 L940.4 720 L939.1 719 L938.1 717.7 L937.3 716.1 L936.8 714.2 L936.7 712.1Z" fill="#f3ad60" stroke="#5f6870" stroke-width="1.1" />
<path d="M937.7 711.8 L937.9 709.9 L938.3 707.9 L938.9 705.9 L939.8 703.9 L940.9 701.9 L942.2 700 L943.7 698.3 L945.3 696.8 L947 695.6 L948.7 694.6 L950.4 693.9 L952.1 693.5 L953.7 693.4 L955.2 693.7 L956.5 694.2 L957.6 695.1 L958.5 696.2 L959.1 697.6 L959.5 699.2 L959.7 701 L959.5 702.9 L959.1 704.9 L958.5 706.9 L957.6 708.9 L956.5 710.9 L955.2 712.8 L953.7 714.5 L952.1 716 L950.4 717.2 L948.7 718.2 L947 718.9 L945.3 719.3 L943.7 719.4 L942.2 719.1 L940.9 718.6 L939.8 717.7 L938.9 716.6 L938.3 715.2 L937.9 713.6 L937.7 711.8Z" fill="none" stroke="#5f6870" stroke-width="1" />
<path d="M941.8 709.4 L941.9 707.9 L942.2 706.4 L942.7 704.8 L943.4 703.2 L944.3 701.7 L945.3 700.3 L946.4 698.9 L947.7 697.8 L949 696.8 L950.3 696 L951.6 695.5 L952.9 695.2 L954.2 695.1 L955.3 695.3 L956.3 695.7 L957.2 696.4 L957.9 697.3 L958.4 698.3 L958.7 699.6 L958.8 701 L958.7 702.5 L958.4 704 L957.9 705.6 L957.2 707.2 L956.3 708.7 L955.3 710.1 L954.2 711.5 L952.9 712.6 L951.6 713.6 L950.3 714.4 L949 714.9 L947.7 715.2 L946.4 715.3 L945.3 715.1 L944.3 714.7 L943.4 714 L942.7 713.1 L942.2 712.1 L941.9 710.8 L941.8 709.4Z" fill="#f6b66c" stroke="#5f6870" stroke-width="1" />
<path d="M906.2 727.2 L906.3 725 L906.8 722.7 L907.6 720.3 L908.6 717.9 L909.9 715.6 L911.5 713.5 L913.2 711.5 L915 709.8 L917 708.3 L919 707.1 L921 706.3 L923 705.8 L924.8 705.7 L926.5 706 L928.1 706.7 L929.4 707.7 L930.4 709 L931.2 710.6 L931.7 712.5 L931.8 714.6 L931.7 716.8 L931.2 719.1 L930.4 721.5 L929.4 723.9 L928.1 726.2 L926.5 728.3 L924.8 730.3 L923 732 L921 733.5 L919 734.7 L917 735.5 L915 736 L913.2 736.1 L911.5 735.8 L909.9 735.1 L908.6 734.1 L907.6 732.8 L906.8 731.2 L906.3 729.3 L906.2 727.2Z" fill="#f3ad60" stroke="#5f6870" stroke-width="1.1" />
<path d="M907.2 726.9 L907.4 725 L907.8 723 L908.4 721 L909.3 719 L910.4 717 L911.7 715.1 L913.2 713.4 L914.8 711.9 L916.5 710.7 L918.2 709.7 L919.9 709 L921.6 708.6 L923.2 708.5 L924.7 708.8 L926 709.3 L927.1 710.2 L928 711.3 L928.6 712.7 L929 714.3 L929.2 716.1 L929 718 L928.6 720 L928 722 L927.1 724 L926 726 L924.7 727.9 L923.2 729.6 L921.6 731.1 L919.9 732.3 L918.2 733.3 L916.5 734 L914.8 734.4 L913.2 734.5 L911.7 734.2 L910.4 733.7 L909.3 732.8 L908.4 731.7 L907.8 730.3 L907.4 728.7 L907.2 726.9Z" fill="none" stroke="#5f6870" stroke-width="1" />
<path d="M911.3 724.5 L911.4 723 L911.7 721.5 L912.2 719.9 L912.9 718.3 L913.8 716.8 L914.8 715.4 L915.9 714 L917.2 712.9 L918.5 711.9 L919.8 711.1 L921.1 710.6 L922.4 710.3 L923.7 710.2 L924.8 710.4 L925.8 710.8 L926.7 711.5 L927.4 712.4 L927.9 713.4 L928.2 714.7 L928.3 716.1 L928.2 717.6 L927.9 719.1 L927.4 720.7 L926.7 722.3 L925.8 723.8 L924.8 725.2 L923.7 726.6 L922.4 727.7 L921.1 728.7 L919.8 729.5 L918.5 730 L917.2 730.3 L915.9 730.4 L914.8 730.2 L913.8 729.8 L912.9 729.1 L912.2 728.2 L911.7 727.2 L911.4 725.9 L911.3 724.5Z" fill="#f6b66c" stroke="#5f6870" stroke-width="1" />
</g>
<g stroke-linejoin="round">
<path d="M908 726.3 L908.2 724.4 L908.6 722.4 L909.2 720.4 L910.1 718.4 L911.2 716.4 L912.5 714.5 L914 712.8 L915.6 711.3 L917.3 710.1 L919 709.1 L920.7 708.4 L922.4 708 L924 707.9 L925.5 708.2 L926.8 708.7 L927.9 709.6 L928.8 710.7 L929.4 712.1 L929.8 713.7 L930 715.5 L929.8 717.4 L929.4 719.4 L928.8 721.4 L927.9 723.4 L926.8 725.4 L925.5 727.3 L924 729 L922.4 730.5 L920.7 731.7 L919 732.7 L917.3 733.4 L915.6 733.8 L914 733.9 L912.5 733.6 L911.2 733.1 L910.1 732.2 L909.2 731.1 L908.6 729.7 L908.2 728.1 L908 726.3Z" fill="#5b8ed6" stroke="#6b7581" stroke-width="1" />
<path d="M913.3 723.7 L913.4 722.6 L913.6 721.3 L914 720.1 L914.6 718.8 L915.3 717.6 L916.1 716.5 L917 715.5 L917.9 714.6 L919 713.8 L920 713.2 L921 712.8 L922.1 712.5 L923 712.5 L923.9 712.6 L924.7 712.9 L925.4 713.5 L926 714.2 L926.4 715 L926.6 716 L926.7 717.1 L926.6 718.2 L926.4 719.5 L926 720.7 L925.4 722 L924.7 723.2 L923.9 724.3 L923 725.3 L922.1 726.2 L921 727 L920 727.6 L919 728 L917.9 728.3 L917 728.3 L916.1 728.2 L915.3 727.9 L914.6 727.3 L914 726.6 L913.6 725.8 L913.4 724.8 L913.3 723.7Z" fill="#4677bd" stroke="#6b7581" stroke-width="0.9" />
<path d="M917 723.4 L917.1 722.7 L917.2 721.9 L917.5 721.2 L917.8 720.5 L918.2 719.8 L918.7 719.1 L919.2 718.5 L919.8 718 L920.4 717.5 L921 717.1 L921.6 716.9 L922.2 716.7 L922.8 716.7 L923.3 716.8 L923.8 717 L924.2 717.3 L924.5 717.7 L924.8 718.2 L924.9 718.8 L925 719.4 L924.9 720.1 L924.8 720.9 L924.5 721.6 L924.2 722.3 L923.8 723 L923.3 723.7 L922.8 724.3 L922.2 724.8 L921.6 725.3 L921 725.7 L920.4 725.9 L919.8 726.1 L919.2 726.1 L918.7 726 L918.2 725.8 L917.8 725.5 L917.5 725.1 L917.2 724.6 L917.1 724 L917 723.4Z" fill="#5b8ed6" stroke="none" stroke-width="0" />
<path d="M925.1 714.6 L914.4 719.2" stroke="#6b7581" stroke-width="1.2" fill="none" />
</g>
<g stroke-linejoin="round">
<path d="M1120.3 622.1 L1120.5 619.9 L1120.9 617.5 L1121.7 615 L1122.8 612.6 L1124.1 610.3 L1125.7 608.1 L1127.5 606 L1129.4 604.2 L1131.4 602.7 L1133.4 601.6 L1135.5 600.7 L1137.5 600.2 L1139.4 600.1 L1141.1 600.4 L1142.7 601.1 L1144 602.1 L1145.1 603.5 L1145.9 605.1 L1146.4 607 L1146.5 609.2 L1146.4 611.4 L1145.9 613.8 L1145.1 616.3 L1144 618.7 L1142.7 621 L1141.1 623.2 L1139.4 625.3 L1137.5 627.1 L1135.5 628.6 L1133.4 629.8 L1131.4 630.6 L1129.4 631.1 L1127.5 631.2 L1125.7 630.9 L1124.1 630.2 L1122.8 629.2 L1121.7 627.8 L1120.9 626.2 L1120.5 624.3 L1120.3 622.1Z" fill="#5b8ed6" stroke="#6b7581" stroke-width="1" />
</g>
<g stroke-linejoin="round">
<path d="M1136.5 610.9 L1141.9 608.1 L1170.7 622.6 L1165.2 625.3Z" fill="#6a9be0" stroke="#6b7581" stroke-width="0.9" />
<path d="M1130.4 626.4 L1130.4 620.4 L1159.1 634.9 L1159.1 640.8Z" fill="#5b8ed6" stroke="#6b7581" stroke-width="0.9" />
<path d="M1130.4 608 L1136.5 605 L1165.2 619.4 L1159.1 622.4Z" fill="#6a9be0" stroke="#6b7581" stroke-width="0.9" />
<path d="M1130.4 613.9 L1130.4 608 L1159.1 622.4 L1159.1 628.3Z" fill="#5b8ed6" stroke="#6b7581" stroke-width="0.9" />
<path d="M1124.9 623.2 L1124.9 616.6 L1153.7 631 L1153.7 637.6Z" fill="#5b8ed6" stroke="#6b7581" stroke-width="0.9" />
<path d="M1124.9 616.6 L1130.4 613.9 L1159.1 628.3 L1153.7 631Z" fill="#6a9be0" stroke="#6b7581" stroke-width="0.9" />
<path d="M1170.7 629.1 L1165.2 631.9 L1165.2 637.8 L1159.1 640.8 L1159.1 634.9 L1153.7 637.6 L1153.7 631 L1159.1 628.3 L1159.1 622.4 L1165.2 619.4 L1165.2 625.3 L1170.7 622.6Z" fill="#5b8ed6" stroke="#6b7581" stroke-width="0.9" />
</g>
<g stroke-linejoin="round">
<path d="M937.3 712.7 L937.5 710.5 L937.9 708.1 L938.7 705.6 L939.8 703.2 L941.1 700.9 L942.7 698.7 L944.5 696.6 L946.4 694.8 L948.4 693.3 L950.4 692.2 L952.5 691.3 L954.5 690.8 L956.4 690.7 L958.1 691 L959.7 691.7 L961 692.7 L962.1 694.1 L962.9 695.7 L963.4 697.6 L963.5 699.8 L963.4 702 L962.9 704.4 L962.1 706.9 L961 709.3 L959.7 711.6 L958.1 713.8 L956.4 715.9 L954.5 717.7 L952.5 719.2 L950.4 720.4 L948.4 721.2 L946.4 721.7 L944.5 721.8 L942.7 721.5 L941.1 720.8 L939.8 719.8 L938.7 718.4 L937.9 716.8 L937.5 714.9 L937.3 712.7Z" fill="#5b8ed6" stroke="#6b7581" stroke-width="1" />
</g>
<g stroke-linejoin="round">
<path d="M953.5 701.5 L958.9 698.7 L987.7 713.2 L982.2 715.9Z" fill="#6a9be0" stroke="#6b7581" stroke-width="0.9" />
<path d="M947.4 716.9 L947.4 711 L976.1 725.5 L976.1 731.4Z" fill="#5b8ed6" stroke="#6b7581" stroke-width="0.9" />
<path d="M947.4 698.6 L953.5 695.6 L982.2 710 L976.1 713Z" fill="#6a9be0" stroke="#6b7581" stroke-width="0.9" />
<path d="M947.4 704.5 L947.4 698.6 L976.1 713 L976.1 718.9Z" fill="#5b8ed6" stroke="#6b7581" stroke-width="0.9" />
<path d="M941.9 713.8 L941.9 707.2 L970.7 721.6 L970.7 728.2Z" fill="#5b8ed6" stroke="#6b7581" stroke-width="0.9" />
<path d="M941.9 707.2 L947.4 704.5 L976.1 718.9 L970.7 721.6Z" fill="#6a9be0" stroke="#6b7581" stroke-width="0.9" />
<path d="M987.7 719.7 L982.2 722.5 L982.2 728.4 L976.1 731.4 L976.1 725.5 L970.7 728.2 L970.7 721.6 L976.1 718.9 L976.1 713 L982.2 710 L982.2 715.9 L987.7 713.2Z" fill="#5b8ed6" stroke="#6b7581" stroke-width="0.9" />
</g>
<g stroke-linejoin="round">
<path d="M1179.6 592.3 L1179.7 590.1 L1180.1 587.8 L1180.8 585.4 L1181.7 583 L1182.8 580.7 L1184.1 578.4 L1185.6 576.2 L1187.3 574.2 L1189.1 572.3 L1191 570.7 L1193 569.3 L1195 568.1 L1500 417.1 L1502 416.3 L1504 415.7 L1505.9 415.5 L1507.7 415.5 L1509.4 415.9 L1510.9 416.6 L1539.7 432.1 L1541 433.1 L1542.1 434.3 L1543 435.8 L1543.7 437.6 L1544.1 439.5 L1544.2 441.6 L1544.1 443.8 L1543.7 446.1 L1543 448.5 L1542.1 450.9 L1541 453.2 L1539.7 455.5 L1538.2 457.7 L1536.5 459.7 L1534.7 461.6 L1532.8 463.2 L1530.8 464.6 L1528.8 465.8 L1223.8 616.8 L1221.8 617.6 L1219.8 618.2 L1217.9 618.4 L1216.1 618.4 L1214.4 618 L1212.9 617.3 L1184.1 601.8 L1182.8 600.8 L1181.7 599.6 L1180.8 598.1 L1180.1 596.4 L1179.7 594.4Z" fill="#f5b368" stroke="#5f6870" stroke-width="1.3" />
<path d="M1223.8 616.8 L1221.8 617.6 L1219.8 618.2 L1217.9 618.4 L1216.1 618.4 L1214.4 618 L1212.9 617.3 L1211.6 616.3 L1210.5 615.1 L1209.6 613.6 L1208.9 611.9 L1208.5 609.9 L1208.4 607.8 L1208.5 605.6 L1208.9 603.3 L1209.6 600.9 L1210.5 598.5 L1211.6 596.2 L1212.9 593.9 L1214.4 591.7 L1216.1 589.7 L1217.9 587.8 L1219.8 586.2 L1221.8 584.8 L1223.8 583.6 L1528.8 432.6 L1530.8 431.8 L1532.8 431.2 L1534.7 431 L1536.5 431 L1538.2 431.4 L1539.7 432.1 L1541 433.1 L1542.1 434.3 L1543 435.8 L1543.7 437.5 L1544.1 439.5 L1544.2 441.6 L1544.1 443.8 L1543.7 446.1 L1543 448.5 L1542.1 450.9 L1541 453.2 L1539.7 455.5 L1538.2 457.7 L1536.5 459.7 L1534.7 461.6 L1532.8 463.2 L1530.8 464.6 L1528.8 465.8Z" fill="#f3ad60" stroke="#5f6870" stroke-width="1.3" />
<path d="M1223.8 615.1 L1222 615.9 L1220.2 616.4 L1218.5 616.6 L1216.9 616.5 L1215.4 616.2 L1214 615.6 L1212.8 614.7 L1211.8 613.6 L1211 612.2 L1210.4 610.7 L1210.1 609 L1209.9 607.1 L1210.1 605.1 L1210.4 603 L1211 600.8 L1211.8 598.7 L1212.8 596.6 L1214 594.5 L1215.4 592.6 L1216.9 590.7 L1218.5 589.1 L1220.2 587.6 L1222 586.3 L1223.8 585.3 L1528.8 434.3 L1530.6 433.5 L1532.4 433 L1534.1 432.8 L1535.7 432.9 L1537.2 433.2 L1538.6 433.8 L1539.8 434.7 L1540.8 435.8 L1541.6 437.2 L1542.2 438.7 L1542.5 440.4 L1542.7 442.3 L1542.5 444.3 L1542.2 446.4 L1541.6 448.6 L1540.8 450.7 L1539.8 452.8 L1538.6 454.9 L1537.2 456.8 L1535.7 458.7 L1534.1 460.3 L1532.4 461.8 L1530.6 463.1 L1528.8 464.1Z" fill="none" stroke="#5f6870" stroke-width="0.9" />
<path d="M1519.6 441.9 L1507.5 448 L1512.6 454.9 L1514.5 454ZM1519.6 465.5 L1507.5 471.6 L1512.6 459.5 L1514.5 458.6Z" fill="#f0a857" stroke="#5f6870" stroke-width="1" />
<path d="M1516 455.5 L1516.1 453.3 L1516.6 451 L1517.4 448.6 L1518.4 446.2 L1519.7 443.9 L1521.3 441.8 L1523 439.8 L1524.8 438.1 L1526.8 436.6 L1528.8 435.4 L1530.8 434.6 L1532.8 434.1 L1534.6 434 L1536.3 434.3 L1537.9 435 L1539.2 436 L1540.2 437.3 L1541 438.9 L1541.5 440.8 L1541.6 442.9 L1541.5 445.1 L1541 447.4 L1540.2 449.8 L1539.2 452.2 L1537.9 454.5 L1536.3 456.6 L1534.6 458.6 L1532.8 460.3 L1530.8 461.8 L1528.8 463 L1526.8 463.8 L1524.8 464.3 L1523 464.4 L1521.3 464.1 L1519.7 463.4 L1518.4 462.4 L1517.4 461.1 L1516.6 459.5 L1516.1 457.6 L1516 455.5Z" fill="#f3ad60" stroke="#5f6870" stroke-width="1.1" />
<path d="M1517 455.2 L1517.2 453.3 L1517.6 451.3 L1518.2 449.3 L1519.1 447.3 L1520.2 445.3 L1521.5 443.4 L1523 441.7 L1524.6 440.2 L1526.3 439 L1528 438 L1529.7 437.3 L1531.4 436.9 L1533 436.8 L1534.5 437.1 L1535.8 437.6 L1536.9 438.5 L1537.8 439.6 L1538.4 441 L1538.8 442.6 L1539 444.4 L1538.8 446.3 L1538.4 448.3 L1537.8 450.3 L1536.9 452.3 L1535.8 454.3 L1534.5 456.2 L1533 457.9 L1531.4 459.4 L1529.7 460.6 L1528 461.6 L1526.3 462.3 L1524.6 462.7 L1523 462.8 L1521.5 462.5 L1520.2 462 L1519.1 461.1 L1518.2 460 L1517.6 458.6 L1517.2 457 L1517 455.2Z" fill="none" stroke="#5f6870" stroke-width="1" />
<path d="M1521.1 452.8 L1521.2 451.3 L1521.5 449.8 L1522 448.2 L1522.7 446.6 L1523.6 445.1 L1524.6 443.7 L1525.7 442.3 L1527 441.2 L1528.3 440.2 L1529.6 439.4 L1530.9 438.9 L1532.2 438.6 L1533.5 438.5 L1534.6 438.7 L1535.6 439.1 L1536.5 439.8 L1537.2 440.7 L1537.7 441.7 L1538 443 L1538.1 444.4 L1538 445.9 L1537.7 447.4 L1537.2 449 L1536.5 450.6 L1535.6 452.1 L1534.6 453.5 L1533.5 454.9 L1532.2 456 L1530.9 457 L1529.6 457.8 L1528.3 458.3 L1527 458.6 L1525.7 458.7 L1524.6 458.5 L1523.6 458.1 L1522.7 457.4 L1522 456.5 L1521.5 455.5 L1521.2 454.2 L1521.1 452.8Z" fill="#f6b66c" stroke="#5f6870" stroke-width="1" />
<path d="M1489.1 457 L1477 463.1 L1482.1 470 L1484 469.1ZM1489.1 480.6 L1477 486.7 L1482.1 474.6 L1484 473.7Z" fill="#f0a857" stroke="#5f6870" stroke-width="1" />
<path d="M1485.5 470.6 L1485.6 468.4 L1486.1 466.1 L1486.9 463.7 L1487.9 461.3 L1489.2 459 L1490.8 456.9 L1492.5 454.9 L1494.3 453.2 L1496.3 451.7 L1498.3 450.5 L1500.3 449.7 L1502.3 449.2 L1504.1 449.1 L1505.8 449.4 L1507.4 450.1 L1508.7 451.1 L1509.7 452.4 L1510.5 454 L1511 455.9 L1511.1 458 L1511 460.2 L1510.5 462.5 L1509.7 464.9 L1508.7 467.3 L1507.4 469.6 L1505.8 471.7 L1504.1 473.7 L1502.3 475.4 L1500.3 476.9 L1498.3 478.1 L1496.3 478.9 L1494.3 479.4 L1492.5 479.5 L1490.8 479.2 L1489.2 478.5 L1487.9 477.5 L1486.9 476.2 L1486.1 474.6 L1485.6 472.7 L1485.5 470.6Z" fill="#f3ad60" stroke="#5f6870" stroke-width="1.1" />
<path d="M1486.5 470.3 L1486.7 468.4 L1487.1 466.4 L1487.7 464.4 L1488.6 462.4 L1489.7 460.4 L1491 458.5 L1492.5 456.8 L1494.1 455.3 L1495.8 454.1 L1497.5 453.1 L1499.2 452.4 L1500.9 452 L1502.5 451.9 L1504 452.2 L1505.3 452.7 L1506.4 453.6 L1507.3 454.7 L1507.9 456.1 L1508.3 457.7 L1508.5 459.5 L1508.3 461.4 L1507.9 463.4 L1507.3 465.4 L1506.4 467.4 L1505.3 469.4 L1504 471.3 L1502.5 473 L1500.9 474.5 L1499.2 475.7 L1497.5 476.7 L1495.8 477.4 L1494.1 477.8 L1492.5 477.9 L1491 477.6 L1489.7 477.1 L1488.6 476.2 L1487.7 475.1 L1487.1 473.7 L1486.7 472.1 L1486.5 470.3Z" fill="none" stroke="#5f6870" stroke-width="1" />
<path d="M1490.6 467.9 L1490.7 466.4 L1491 464.9 L1491.5 463.3 L1492.2 461.7 L1493.1 460.2 L1494.1 458.8 L1495.2 457.4 L1496.5 456.3 L1497.8 455.3 L1499.1 454.5 L1500.4 454 L1501.7 453.7 L1503 453.6 L1504.1 453.8 L1505.1 454.2 L1506 454.9 L1506.7 455.8 L1507.2 456.8 L1507.5 458.1 L1507.6 459.5 L1507.5 461 L1507.2 462.5 L1506.7 464.1 L1506 465.7 L1505.1 467.2 L1504.1 468.6 L1503 470 L1501.7 471.1 L1500.4 472.1 L1499.1 472.9 L1497.8 473.4 L1496.5 473.7 L1495.2 473.8 L1494.1 473.6 L1493.1 473.2 L1492.2 472.5 L1491.5 471.6 L1491 470.6 L1490.7 469.3 L1490.6 467.9Z" fill="#f6b66c" stroke="#5f6870" stroke-width="1" />
<path d="M1458.6 472.1 L1446.5 478.2 L1451.6 485.1 L1453.5 484.2ZM1458.6 495.7 L1446.5 501.8 L1451.6 489.7 L1453.5 488.8Z" fill="#f0a857" stroke="#5f6870" stroke-width="1" />
<path d="M1455 485.7 L1455.1 483.5 L1455.6 481.2 L1456.4 478.8 L1457.4 476.4 L1458.7 474.1 L1460.3 472 L1462 470 L1463.8 468.3 L1465.8 466.8 L1467.8 465.6 L1469.8 464.8 L1471.8 464.3 L1473.6 464.2 L1475.3 464.5 L1476.9 465.2 L1478.2 466.2 L1479.2 467.5 L1480 469.1 L1480.5 471 L1480.6 473.1 L1480.5 475.3 L1480 477.6 L1479.2 480 L1478.2 482.4 L1476.9 484.7 L1475.3 486.8 L1473.6 488.8 L1471.8 490.5 L1469.8 492 L1467.8 493.2 L1465.8 494 L1463.8 494.5 L1462 494.6 L1460.3 494.3 L1458.7 493.6 L1457.4 492.6 L1456.4 491.3 L1455.6 489.7 L1455.1 487.8 L1455 485.7Z" fill="#f3ad60" stroke="#5f6870" stroke-width="1.1" />
<path d="M1456 485.4 L1456.2 483.5 L1456.6 481.5 L1457.2 479.5 L1458.1 477.5 L1459.2 475.5 L1460.5 473.6 L1462 471.9 L1463.6 470.4 L1465.3 469.2 L1467 468.2 L1468.7 467.5 L1470.4 467.1 L1472 467 L1473.5 467.3 L1474.8 467.8 L1475.9 468.7 L1476.8 469.8 L1477.4 471.2 L1477.8 472.8 L1478 474.6 L1477.8 476.5 L1477.4 478.5 L1476.8 480.5 L1475.9 482.5 L1474.8 484.5 L1473.5 486.4 L1472 488.1 L1470.4 489.6 L1468.7 490.8 L1467 491.8 L1465.3 492.5 L1463.6 492.9 L1462 493 L1460.5 492.7 L1459.2 492.2 L1458.1 491.3 L1457.2 490.2 L1456.6 488.8 L1456.2 487.2 L1456 485.4Z" fill="none" stroke="#5f6870" stroke-width="1" />
<path d="M1460.1 483 L1460.2 481.5 L1460.5 480 L1461 478.4 L1461.7 476.8 L1462.6 475.3 L1463.6 473.9 L1464.7 472.5 L1466 471.4 L1467.3 470.4 L1468.6 469.6 L1469.9 469.1 L1471.2 468.8 L1472.5 468.7 L1473.6 468.9 L1474.6 469.3 L1475.5 470 L1476.2 470.9 L1476.7 471.9 L1477 473.2 L1477.1 474.6 L1477 476.1 L1476.7 477.6 L1476.2 479.2 L1475.5 480.8 L1474.6 482.3 L1473.6 483.7 L1472.5 485.1 L1471.2 486.2 L1469.9 487.2 L1468.6 488 L1467.3 488.5 L1466 488.8 L1464.7 488.9 L1463.6 488.7 L1462.6 488.3 L1461.7 487.6 L1461 486.7 L1460.5 485.7 L1460.2 484.4 L1460.1 483Z" fill="#f6b66c" stroke="#5f6870" stroke-width="1" />
<path d="M1428.1 487.2 L1416 493.3 L1421.1 500.2 L1423 499.3ZM1428.1 510.8 L1416 516.9 L1421.1 504.8 L1423 503.9Z" fill="#f0a857" stroke="#5f6870" stroke-width="1" />
<path d="M1424.5 500.8 L1424.6 498.6 L1425.1 496.3 L1425.9 493.9 L1426.9 491.5 L1428.2 489.2 L1429.8 487.1 L1431.5 485.1 L1433.3 483.4 L1435.3 481.9 L1437.3 480.7 L1439.3 479.9 L1441.3 479.4 L1443.1 479.3 L1444.8 479.6 L1446.4 480.3 L1447.7 481.3 L1448.7 482.6 L1449.5 484.2 L1450 486.1 L1450.1 488.2 L1450 490.4 L1449.5 492.7 L1448.7 495.1 L1447.7 497.5 L1446.4 499.8 L1444.8 501.9 L1443.1 503.9 L1441.3 505.6 L1439.3 507.1 L1437.3 508.3 L1435.3 509.1 L1433.3 509.6 L1431.5 509.7 L1429.8 509.4 L1428.2 508.7 L1426.9 507.7 L1425.9 506.4 L1425.1 504.8 L1424.6 502.9 L1424.5 500.8Z" fill="#f3ad60" stroke="#5f6870" stroke-width="1.1" />
<path d="M1425.5 500.5 L1425.7 498.6 L1426.1 496.6 L1426.7 494.6 L1427.6 492.6 L1428.7 490.6 L1430 488.7 L1431.5 487 L1433.1 485.5 L1434.8 484.3 L1436.5 483.3 L1438.2 482.6 L1439.9 482.2 L1441.5 482.1 L1443 482.4 L1444.3 482.9 L1445.4 483.8 L1446.3 484.9 L1446.9 486.3 L1447.3 487.9 L1447.5 489.7 L1447.3 491.6 L1446.9 493.6 L1446.3 495.6 L1445.4 497.6 L1444.3 499.6 L1443 501.5 L1441.5 503.2 L1439.9 504.7 L1438.2 505.9 L1436.5 506.9 L1434.8 507.6 L1433.1 508 L1431.5 508.1 L1430 507.8 L1428.7 507.3 L1427.6 506.4 L1426.7 505.3 L1426.1 503.9 L1425.7 502.3 L1425.5 500.5Z" fill="none" stroke="#5f6870" stroke-width="1" />
<path d="M1429.6 498.1 L1429.7 496.6 L1430 495.1 L1430.5 493.5 L1431.2 491.9 L1432.1 490.4 L1433.1 489 L1434.2 487.6 L1435.5 486.5 L1436.8 485.5 L1438.1 484.7 L1439.4 484.2 L1440.7 483.9 L1442 483.8 L1443.1 484 L1444.1 484.4 L1445 485.1 L1445.7 486 L1446.2 487 L1446.5 488.3 L1446.6 489.7 L1446.5 491.2 L1446.2 492.7 L1445.7 494.3 L1445 495.9 L1444.1 497.4 L1443.1 498.8 L1442 500.2 L1440.7 501.3 L1439.4 502.3 L1438.1 503.1 L1436.8 503.6 L1435.5 503.9 L1434.2 504 L1433.1 503.8 L1432.1 503.4 L1431.2 502.7 L1430.5 501.8 L1430 500.8 L1429.7 499.5 L1429.6 498.1Z" fill="#f6b66c" stroke="#5f6870" stroke-width="1" />
<path d="M1397.6 502.3 L1385.5 508.4 L1390.6 515.3 L1392.5 514.4ZM1397.6 525.9 L1385.5 532 L1390.6 519.9 L1392.5 519Z" fill="#f0a857" stroke="#5f6870" stroke-width="1" />
<path d="M1394 515.9 L1394.1 513.7 L1394.6 511.4 L1395.4 509 L1396.4 506.6 L1397.7 504.3 L1399.3 502.2 L1401 500.2 L1402.8 498.5 L1404.8 497 L1406.8 495.8 L1408.8 495 L1410.8 494.5 L1412.6 494.4 L1414.3 494.7 L1415.9 495.4 L1417.2 496.4 L1418.2 497.7 L1419 499.3 L1419.5 501.2 L1419.6 503.3 L1419.5 505.5 L1419 507.8 L1418.2 510.2 L1417.2 512.6 L1415.9 514.9 L1414.3 517 L1412.6 519 L1410.8 520.7 L1408.8 522.2 L1406.8 523.4 L1404.8 524.2 L1402.8 524.7 L1401 524.8 L1399.3 524.5 L1397.7 523.8 L1396.4 522.8 L1395.4 521.5 L1394.6 519.9 L1394.1 518 L1394 515.9Z" fill="#f3ad60" stroke="#5f6870" stroke-width="1.1" />
<path d="M1395 515.6 L1395.2 513.7 L1395.6 511.7 L1396.2 509.7 L1397.1 507.7 L1398.2 505.7 L1399.5 503.8 L1401 502.1 L1402.6 500.6 L1404.3 499.4 L1406 498.4 L1407.7 497.7 L1409.4 497.3 L1411 497.2 L1412.5 497.5 L1413.8 498 L1414.9 498.9 L1415.8 500 L1416.4 501.4 L1416.8 503 L1417 504.8 L1416.8 506.7 L1416.4 508.7 L1415.8 510.7 L1414.9 512.7 L1413.8 514.7 L1412.5 516.6 L1411 518.3 L1409.4 519.8 L1407.7 521 L1406 522 L1404.3 522.7 L1402.6 523.1 L1401 523.2 L1399.5 522.9 L1398.2 522.4 L1397.1 521.5 L1396.2 520.4 L1395.6 519 L1395.2 517.4 L1395 515.6Z" fill="none" stroke="#5f6870" stroke-width="1" />
<path d="M1399.1 513.2 L1399.2 511.7 L1399.5 510.2 L1400 508.6 L1400.7 507 L1401.6 505.5 L1402.6 504.1 L1403.7 502.7 L1405 501.6 L1406.3 500.6 L1407.6 499.8 L1408.9 499.3 L1410.2 499 L1411.5 498.9 L1412.6 499.1 L1413.6 499.5 L1414.5 500.2 L1415.2 501.1 L1415.7 502.1 L1416 503.4 L1416.1 504.8 L1416 506.3 L1415.7 507.8 L1415.2 509.4 L1414.5 511 L1413.6 512.5 L1412.6 513.9 L1411.5 515.3 L1410.2 516.4 L1408.9 517.4 L1407.6 518.2 L1406.3 518.7 L1405 519 L1403.7 519.1 L1402.6 518.9 L1401.6 518.5 L1400.7 517.8 L1400 516.9 L1399.5 515.9 L1399.2 514.6 L1399.1 513.2Z" fill="#f6b66c" stroke="#5f6870" stroke-width="1" />
<path d="M1367.1 517.4 L1355 523.5 L1360.1 530.4 L1362 529.5ZM1367.1 541 L1355 547.1 L1360.1 535 L1362 534.1Z" fill="#f0a857" stroke="#5f6870" stroke-width="1" />
<path d="M1363.5 531 L1363.6 528.8 L1364.1 526.5 L1364.9 524.1 L1365.9 521.7 L1367.2 519.4 L1368.8 517.3 L1370.5 515.3 L1372.3 513.6 L1374.3 512.1 L1376.3 510.9 L1378.3 510.1 L1380.3 509.6 L1382.1 509.5 L1383.8 509.8 L1385.4 510.5 L1386.7 511.5 L1387.7 512.8 L1388.5 514.4 L1389 516.3 L1389.1 518.4 L1389 520.6 L1388.5 522.9 L1387.7 525.3 L1386.7 527.7 L1385.4 530 L1383.8 532.1 L1382.1 534.1 L1380.3 535.8 L1378.3 537.3 L1376.3 538.5 L1374.3 539.3 L1372.3 539.8 L1370.5 539.9 L1368.8 539.6 L1367.2 538.9 L1365.9 537.9 L1364.9 536.6 L1364.1 535 L1363.6 533.1 L1363.5 531Z" fill="#f3ad60" stroke="#5f6870" stroke-width="1.1" />
<path d="M1364.5 530.7 L1364.7 528.8 L1365.1 526.8 L1365.7 524.8 L1366.6 522.8 L1367.7 520.8 L1369 518.9 L1370.5 517.2 L1372.1 515.7 L1373.8 514.5 L1375.5 513.5 L1377.2 512.8 L1378.9 512.4 L1380.5 512.3 L1382 512.6 L1383.3 513.1 L1384.4 514 L1385.3 515.1 L1385.9 516.5 L1386.3 518.1 L1386.5 519.9 L1386.3 521.8 L1385.9 523.8 L1385.3 525.8 L1384.4 527.8 L1383.3 529.8 L1382 531.7 L1380.5 533.4 L1378.9 534.9 L1377.2 536.1 L1375.5 537.1 L1373.8 537.8 L1372.1 538.2 L1370.5 538.3 L1369 538 L1367.7 537.5 L1366.6 536.6 L1365.7 535.5 L1365.1 534.1 L1364.7 532.5 L1364.5 530.7Z" fill="none" stroke="#5f6870" stroke-width="1" />
<path d="M1368.6 528.3 L1368.7 526.8 L1369 525.3 L1369.5 523.7 L1370.2 522.1 L1371.1 520.6 L1372.1 519.2 L1373.2 517.8 L1374.5 516.7 L1375.8 515.7 L1377.1 514.9 L1378.4 514.4 L1379.7 514.1 L1381 514 L1382.1 514.2 L1383.1 514.6 L1384 515.3 L1384.7 516.2 L1385.2 517.2 L1385.5 518.5 L1385.6 519.9 L1385.5 521.4 L1385.2 522.9 L1384.7 524.5 L1384 526.1 L1383.1 527.6 L1382.1 529 L1381 530.4 L1379.7 531.5 L1378.4 532.5 L1377.1 533.3 L1375.8 533.8 L1374.5 534.1 L1373.2 534.2 L1372.1 534 L1371.1 533.6 L1370.2 532.9 L1369.5 532 L1369 531 L1368.7 529.7 L1368.6 528.3Z" fill="#f6b66c" stroke="#5f6870" stroke-width="1" />
<path d="M1336.6 532.5 L1324.5 538.6 L1329.6 545.5 L1331.5 544.6ZM1336.6 556.1 L1324.5 562.2 L1329.6 550.1 L1331.5 549.2Z" fill="#f0a857" stroke="#5f6870" stroke-width="1" />
<path d="M1333 546.1 L1333.1 543.9 L1333.6 541.6 L1334.4 539.2 L1335.4 536.8 L1336.7 534.5 L1338.3 532.4 L1340 530.4 L1341.8 528.7 L1343.8 527.2 L1345.8 526 L1347.8 525.2 L1349.8 524.7 L1351.6 524.6 L1353.3 524.9 L1354.9 525.6 L1356.2 526.6 L1357.2 527.9 L1358 529.5 L1358.5 531.4 L1358.6 533.5 L1358.5 535.7 L1358 538 L1357.2 540.4 L1356.2 542.8 L1354.9 545.1 L1353.3 547.2 L1351.6 549.2 L1349.8 550.9 L1347.8 552.4 L1345.8 553.6 L1343.8 554.4 L1341.8 554.9 L1340 555 L1338.3 554.7 L1336.7 554 L1335.4 553 L1334.4 551.7 L1333.6 550.1 L1333.1 548.2 L1333 546.1Z" fill="#f3ad60" stroke="#5f6870" stroke-width="1.1" />
<path d="M1334 545.8 L1334.2 543.9 L1334.6 541.9 L1335.2 539.9 L1336.1 537.9 L1337.2 535.9 L1338.5 534 L1340 532.3 L1341.6 530.8 L1343.3 529.6 L1345 528.6 L1346.7 527.9 L1348.4 527.5 L1350 527.4 L1351.5 527.7 L1352.8 528.2 L1353.9 529.1 L1354.8 530.2 L1355.4 531.6 L1355.8 533.2 L1356 535 L1355.8 536.9 L1355.4 538.9 L1354.8 540.9 L1353.9 542.9 L1352.8 544.9 L1351.5 546.8 L1350 548.5 L1348.4 550 L1346.7 551.2 L1345 552.2 L1343.3 552.9 L1341.6 553.3 L1340 553.4 L1338.5 553.1 L1337.2 552.6 L1336.1 551.7 L1335.2 550.6 L1334.6 549.2 L1334.2 547.6 L1334 545.8Z" fill="none" stroke="#5f6870" stroke-width="1" />
<path d="M1338.1 543.4 L1338.2 541.9 L1338.5 540.4 L1339 538.8 L1339.7 537.2 L1340.6 535.7 L1341.6 534.3 L1342.7 532.9 L1344 531.8 L1345.3 530.8 L1346.6 530 L1347.9 529.5 L1349.2 529.2 L1350.5 529.1 L1351.6 529.3 L1352.6 529.7 L1353.5 530.4 L1354.2 531.3 L1354.7 532.3 L1355 533.6 L1355.1 535 L1355 536.5 L1354.7 538 L1354.2 539.6 L1353.5 541.2 L1352.6 542.7 L1351.6 544.1 L1350.5 545.5 L1349.2 546.6 L1347.9 547.6 L1346.6 548.4 L1345.3 548.9 L1344 549.2 L1342.7 549.3 L1341.6 549.1 L1340.6 548.7 L1339.7 548 L1339 547.1 L1338.5 546.1 L1338.2 544.8 L1338.1 543.4Z" fill="#f6b66c" stroke="#5f6870" stroke-width="1" />
<path d="M1306.1 547.6 L1294 553.7 L1299.1 560.6 L1301 559.7ZM1306.1 571.2 L1294 577.3 L1299.1 565.2 L1301 564.3Z" fill="#f0a857" stroke="#5f6870" stroke-width="1" />
<path d="M1302.5 561.2 L1302.6 559 L1303.1 556.7 L1303.9 554.3 L1304.9 551.9 L1306.2 549.6 L1307.8 547.5 L1309.5 545.5 L1311.3 543.8 L1313.3 542.3 L1315.3 541.1 L1317.3 540.3 L1319.3 539.8 L1321.1 539.7 L1322.8 540 L1324.4 540.7 L1325.7 541.7 L1326.7 543 L1327.5 544.6 L1328 546.5 L1328.1 548.6 L1328 550.8 L1327.5 553.1 L1326.7 555.5 L1325.7 557.9 L1324.4 560.2 L1322.8 562.3 L1321.1 564.3 L1319.3 566 L1317.3 567.5 L1315.3 568.7 L1313.3 569.5 L1311.3 570 L1309.5 570.1 L1307.8 569.8 L1306.2 569.1 L1304.9 568.1 L1303.9 566.8 L1303.1 565.2 L1302.6 563.3 L1302.5 561.2Z" fill="#f3ad60" stroke="#5f6870" stroke-width="1.1" />
<path d="M1303.5 560.9 L1303.7 559 L1304.1 557 L1304.7 555 L1305.6 553 L1306.7 551 L1308 549.1 L1309.5 547.4 L1311.1 545.9 L1312.8 544.7 L1314.5 543.7 L1316.2 543 L1317.9 542.6 L1319.5 542.5 L1321 542.8 L1322.3 543.3 L1323.4 544.2 L1324.3 545.3 L1324.9 546.7 L1325.3 548.3 L1325.5 550.1 L1325.3 552 L1324.9 554 L1324.3 556 L1323.4 558 L1322.3 560 L1321 561.9 L1319.5 563.6 L1317.9 565.1 L1316.2 566.3 L1314.5 567.3 L1312.8 568 L1311.1 568.4 L1309.5 568.5 L1308 568.2 L1306.7 567.7 L1305.6 566.8 L1304.7 565.7 L1304.1 564.3 L1303.7 562.7 L1303.5 560.9Z" fill="none" stroke="#5f6870" stroke-width="1" />
<path d="M1307.6 558.5 L1307.7 557 L1308 555.5 L1308.5 553.9 L1309.2 552.3 L1310.1 550.8 L1311.1 549.4 L1312.2 548 L1313.5 546.9 L1314.8 545.9 L1316.1 545.1 L1317.4 544.6 L1318.7 544.3 L1320 544.2 L1321.1 544.4 L1322.1 544.8 L1323 545.5 L1323.7 546.4 L1324.2 547.4 L1324.5 548.7 L1324.6 550.1 L1324.5 551.6 L1324.2 553.1 L1323.7 554.7 L1323 556.3 L1322.1 557.8 L1321.1 559.2 L1320 560.6 L1318.7 561.7 L1317.4 562.7 L1316.1 563.5 L1314.8 564 L1313.5 564.3 L1312.2 564.4 L1311.1 564.2 L1310.1 563.8 L1309.2 563.1 L1308.5 562.2 L1308 561.2 L1307.7 559.9 L1307.6 558.5Z" fill="#f6b66c" stroke="#5f6870" stroke-width="1" />
<path d="M1275.6 562.7 L1263.5 568.8 L1268.6 575.7 L1270.5 574.8ZM1275.6 586.3 L1263.5 592.4 L1268.6 580.3 L1270.5 579.4Z" fill="#f0a857" stroke="#5f6870" stroke-width="1" />
<path d="M1272 576.3 L1272.1 574.1 L1272.6 571.8 L1273.4 569.4 L1274.4 567 L1275.7 564.7 L1277.3 562.6 L1279 560.6 L1280.8 558.9 L1282.8 557.4 L1284.8 556.2 L1286.8 555.4 L1288.8 554.9 L1290.6 554.8 L1292.3 555.1 L1293.9 555.8 L1295.2 556.8 L1296.2 558.1 L1297 559.7 L1297.5 561.6 L1297.6 563.7 L1297.5 565.9 L1297 568.2 L1296.2 570.6 L1295.2 573 L1293.9 575.3 L1292.3 577.4 L1290.6 579.4 L1288.8 581.1 L1286.8 582.6 L1284.8 583.8 L1282.8 584.6 L1280.8 585.1 L1279 585.2 L1277.3 584.9 L1275.7 584.2 L1274.4 583.2 L1273.4 581.9 L1272.6 580.3 L1272.1 578.4 L1272 576.3Z" fill="#f3ad60" stroke="#5f6870" stroke-width="1.1" />
<path d="M1273 576 L1273.2 574.1 L1273.6 572.1 L1274.2 570.1 L1275.1 568.1 L1276.2 566.1 L1277.5 564.2 L1279 562.5 L1280.6 561 L1282.3 559.8 L1284 558.8 L1285.7 558.1 L1287.4 557.7 L1289 557.6 L1290.5 557.9 L1291.8 558.4 L1292.9 559.3 L1293.8 560.4 L1294.4 561.8 L1294.8 563.4 L1295 565.2 L1294.8 567.1 L1294.4 569.1 L1293.8 571.1 L1292.9 573.1 L1291.8 575.1 L1290.5 577 L1289 578.7 L1287.4 580.2 L1285.7 581.4 L1284 582.4 L1282.3 583.1 L1280.6 583.5 L1279 583.6 L1277.5 583.3 L1276.2 582.8 L1275.1 581.9 L1274.2 580.8 L1273.6 579.4 L1273.2 577.8 L1273 576Z" fill="none" stroke="#5f6870" stroke-width="1" />
<path d="M1277.1 573.6 L1277.2 572.1 L1277.5 570.6 L1278 569 L1278.7 567.4 L1279.6 565.9 L1280.6 564.5 L1281.7 563.1 L1283 562 L1284.3 561 L1285.6 560.2 L1286.9 559.7 L1288.2 559.4 L1289.5 559.3 L1290.6 559.5 L1291.6 559.9 L1292.5 560.6 L1293.2 561.5 L1293.7 562.5 L1294 563.8 L1294.1 565.2 L1294 566.7 L1293.7 568.2 L1293.2 569.8 L1292.5 571.4 L1291.6 572.9 L1290.6 574.3 L1289.5 575.7 L1288.2 576.8 L1286.9 577.8 L1285.6 578.6 L1284.3 579.1 L1283 579.4 L1281.7 579.5 L1280.6 579.3 L1279.6 578.9 L1278.7 578.2 L1278 577.3 L1277.5 576.3 L1277.2 575 L1277.1 573.6Z" fill="#f6b66c" stroke="#5f6870" stroke-width="1" />
<path d="M1245.1 577.8 L1233 583.9 L1238.1 590.8 L1240 589.9ZM1245.1 601.4 L1233 607.5 L1238.1 595.4 L1240 594.5Z" fill="#f0a857" stroke="#5f6870" stroke-width="1" />
<path d="M1241.5 591.4 L1241.6 589.2 L1242.1 586.9 L1242.9 584.5 L1243.9 582.1 L1245.2 579.8 L1246.8 577.7 L1248.5 575.7 L1250.3 574 L1252.3 572.5 L1254.3 571.3 L1256.3 570.5 L1258.3 570 L1260.1 569.9 L1261.8 570.2 L1263.4 570.9 L1264.7 571.9 L1265.7 573.2 L1266.5 574.8 L1267 576.7 L1267.1 578.8 L1267 581 L1266.5 583.3 L1265.7 585.7 L1264.7 588.1 L1263.4 590.4 L1261.8 592.5 L1260.1 594.5 L1258.3 596.2 L1256.3 597.7 L1254.3 598.9 L1252.3 599.7 L1250.3 600.2 L1248.5 600.3 L1246.8 600 L1245.2 599.3 L1243.9 598.3 L1242.9 597 L1242.1 595.4 L1241.6 593.5 L1241.5 591.4Z" fill="#f3ad60" stroke="#5f6870" stroke-width="1.1" />
<path d="M1242.5 591.1 L1242.7 589.2 L1243.1 587.2 L1243.7 585.2 L1244.6 583.2 L1245.7 581.2 L1247 579.3 L1248.5 577.6 L1250.1 576.1 L1251.8 574.9 L1253.5 573.9 L1255.2 573.2 L1256.9 572.8 L1258.5 572.7 L1260 573 L1261.3 573.5 L1262.4 574.4 L1263.3 575.5 L1263.9 576.9 L1264.3 578.5 L1264.5 580.3 L1264.3 582.2 L1263.9 584.2 L1263.3 586.2 L1262.4 588.2 L1261.3 590.2 L1260 592.1 L1258.5 593.8 L1256.9 595.3 L1255.2 596.5 L1253.5 597.5 L1251.8 598.2 L1250.1 598.6 L1248.5 598.7 L1247 598.4 L1245.7 597.9 L1244.6 597 L1243.7 595.9 L1243.1 594.5 L1242.7 592.9 L1242.5 591.1Z" fill="none" stroke="#5f6870" stroke-width="1" />
<path d="M1246.6 588.7 L1246.7 587.2 L1247 585.7 L1247.5 584.1 L1248.2 582.5 L1249.1 581 L1250.1 579.6 L1251.2 578.2 L1252.5 577.1 L1253.8 576.1 L1255.1 575.3 L1256.4 574.8 L1257.7 574.5 L1259 574.4 L1260.1 574.6 L1261.1 575 L1262 575.7 L1262.7 576.6 L1263.2 577.6 L1263.5 578.9 L1263.6 580.3 L1263.5 581.8 L1263.2 583.3 L1262.7 584.9 L1262 586.5 L1261.1 588 L1260.1 589.4 L1259 590.8 L1257.7 591.9 L1256.4 592.9 L1255.1 593.7 L1253.8 594.2 L1252.5 594.5 L1251.2 594.6 L1250.1 594.4 L1249.1 594 L1248.2 593.3 L1247.5 592.4 L1247 591.4 L1246.7 590.1 L1246.6 588.7Z" fill="#f6b66c" stroke="#5f6870" stroke-width="1" />
<path d="M1211 606.5 L1211.1 604.3 L1211.6 602 L1212.4 599.6 L1213.4 597.2 L1214.7 594.9 L1216.3 592.8 L1218 590.8 L1219.8 589.1 L1221.8 587.6 L1223.8 586.4 L1225.8 585.6 L1227.8 585.1 L1229.6 585 L1231.3 585.3 L1232.9 586 L1234.2 587 L1235.2 588.3 L1236 589.9 L1236.5 591.8 L1236.6 593.9 L1236.5 596.1 L1236 598.4 L1235.2 600.8 L1234.2 603.2 L1232.9 605.5 L1231.3 607.6 L1229.6 609.6 L1227.8 611.3 L1225.8 612.8 L1223.8 614 L1221.8 614.8 L1219.8 615.3 L1218 615.4 L1216.3 615.1 L1214.7 614.4 L1213.4 613.4 L1212.4 612.1 L1211.6 610.5 L1211.1 608.6 L1211 606.5Z" fill="#f3ad60" stroke="#5f6870" stroke-width="1.1" />
<path d="M1212 606.2 L1212.2 604.3 L1212.6 602.3 L1213.2 600.3 L1214.1 598.3 L1215.2 596.3 L1216.5 594.4 L1218 592.7 L1219.6 591.2 L1221.3 590 L1223 589 L1224.7 588.3 L1226.4 587.9 L1228 587.8 L1229.5 588.1 L1230.8 588.6 L1231.9 589.5 L1232.8 590.6 L1233.4 592 L1233.8 593.6 L1234 595.4 L1233.8 597.3 L1233.4 599.3 L1232.8 601.3 L1231.9 603.3 L1230.8 605.3 L1229.5 607.2 L1228 608.9 L1226.4 610.4 L1224.7 611.6 L1223 612.6 L1221.3 613.3 L1219.6 613.7 L1218 613.8 L1216.5 613.5 L1215.2 613 L1214.1 612.1 L1213.2 611 L1212.6 609.6 L1212.2 608 L1212 606.2Z" fill="none" stroke="#5f6870" stroke-width="1" />
<path d="M1216.1 603.8 L1216.2 602.3 L1216.5 600.8 L1217 599.2 L1217.7 597.6 L1218.6 596.1 L1219.6 594.7 L1220.7 593.3 L1222 592.2 L1223.3 591.2 L1224.6 590.4 L1225.9 589.9 L1227.2 589.6 L1228.5 589.5 L1229.6 589.7 L1230.6 590.1 L1231.5 590.8 L1232.2 591.7 L1232.7 592.7 L1233 594 L1233.1 595.4 L1233 596.9 L1232.7 598.4 L1232.2 600 L1231.5 601.6 L1230.6 603.1 L1229.6 604.5 L1228.5 605.9 L1227.2 607 L1225.9 608 L1224.6 608.8 L1223.3 609.3 L1222 609.6 L1220.7 609.7 L1219.6 609.5 L1218.6 609.1 L1217.7 608.4 L1217 607.5 L1216.5 606.5 L1216.2 605.2 L1216.1 603.8Z" fill="#f6b66c" stroke="#5f6870" stroke-width="1" />
</g>
<g stroke-linejoin="round">
<path d="M1517.8 454.6 L1518 452.7 L1518.4 450.7 L1519 448.7 L1519.9 446.7 L1521 444.7 L1522.3 442.8 L1523.8 441.1 L1525.4 439.6 L1527.1 438.4 L1528.8 437.4 L1530.5 436.7 L1532.2 436.3 L1533.8 436.2 L1535.3 436.5 L1536.6 437 L1537.7 437.9 L1538.6 439 L1539.2 440.4 L1539.6 442 L1539.8 443.8 L1539.6 445.7 L1539.2 447.7 L1538.6 449.7 L1537.7 451.7 L1536.6 453.7 L1535.3 455.6 L1533.8 457.3 L1532.2 458.8 L1530.5 460 L1528.8 461 L1527.1 461.7 L1525.4 462.1 L1523.8 462.2 L1522.3 461.9 L1521 461.4 L1519.9 460.5 L1519 459.4 L1518.4 458 L1518 456.4 L1517.8 454.6Z" fill="#586069" stroke="#6b7581" stroke-width="1" />
<path d="M1525.6 441.9 L1526.3 441.3 L1527 440.8 L1527.8 440.3 L1528.5 439.8 L1529.3 439.5 L1530 439.2 L1530.8 439 L1531.5 438.8 L1532.2 438.7 L1532.9 438.7 L1533.5 438.8 L1534.1 439 L1534.7 439.2 L1535.3 439.5 L1535.8 439.9 L1536.2 440.3 L1536.6 440.8 L1536.9 441.4 L1537.2 442 L1537.4 442.7 L1537.5 443.4 L1537.6 444.2 L1537.6 444.9 L1537.6 445.8 L1537.5 446.6 L1537.3 447.5 L1537.1 448.4 L1536.8 449.3 L1536.5 450.2 L1536.1 451 L1535.6 451.9 L1535.1 452.8 L1534.5 453.6 L1534 454.4 L1533.3 455.1 L1532.7 455.8 L1532 456.5 L1531.3 457.1 L1530.5 457.7 L1529.8 458.2" fill="none" stroke="#ffffff" stroke-width="1.4" />
<path d="M1531.8 453.4 L1531.4 453.9 L1530.9 454.3 L1530.4 454.7 L1530 455.1 L1529.5 455.4 L1529 455.7 L1528.5 455.9 L1528 456.1 L1527.5 456.2 L1527.1 456.3 L1526.6 456.4 L1526.2 456.4 L1525.7 456.4 L1525.3 456.3 L1524.9 456.2 L1524.6 456 L1524.2 455.8 L1523.9 455.6 L1523.6 455.3 L1523.4 454.9 L1523.2 454.6 L1523 454.1 L1522.9 453.7 L1522.8 453.2 L1522.7 452.8 L1522.7 452.2 L1522.7 451.7 L1522.8 451.2 L1522.9 450.6 L1523 450 L1523.2 449.5 L1523.4 448.9 L1523.6 448.3 L1523.9 447.7 L1524.2 447.2 L1524.5 446.6 L1524.9 446.1 L1525.3 445.6 L1525.7 445.1 L1526.1 444.6" fill="none" stroke="#ffffff" stroke-width="1.2" />
</g>
<g stroke-linejoin="round">
<path d="M1243.3 590.5 L1243.5 588.6 L1243.9 586.6 L1244.5 584.6 L1245.4 582.6 L1246.5 580.6 L1247.8 578.7 L1249.3 577 L1250.9 575.5 L1252.6 574.3 L1254.3 573.3 L1256 572.6 L1257.7 572.2 L1259.3 572.1 L1260.8 572.4 L1262.1 572.9 L1263.2 573.8 L1264.1 574.9 L1264.7 576.3 L1265.1 577.9 L1265.3 579.7 L1265.1 581.6 L1264.7 583.6 L1264.1 585.6 L1263.2 587.6 L1262.1 589.6 L1260.8 591.5 L1259.3 593.2 L1257.7 594.7 L1256 595.9 L1254.3 596.9 L1252.6 597.6 L1250.9 598 L1249.3 598.1 L1247.8 597.8 L1246.5 597.3 L1245.4 596.4 L1244.5 595.3 L1243.9 593.9 L1243.5 592.3 L1243.3 590.5Z" fill="#586069" stroke="#6b7581" stroke-width="1" />
<path d="M1246.7 583.3 L1247.2 582.5 L1247.6 581.7 L1248.1 580.9 L1248.6 580.2 L1249.2 579.5 L1249.7 578.8 L1250.4 578.2 L1251 577.6 L1251.6 577 L1252.3 576.5 L1253 576 L1253.7 575.6 L1254.3 575.2 L1255 574.9 L1255.7 574.7 L1256.4 574.5 L1257 574.4 L1257.7 574.3 L1258.3 574.3 L1258.9 574.3 L1259.5 574.4 L1260 574.6 L1260.6 574.8 L1261 575.1 L1261.5 575.5 L1261.9 575.9 L1262.3 576.3 L1262.6 576.8 L1262.8 577.3 L1263.1 577.9 L1263.2 578.6 L1263.4 579.2 L1263.4 579.9 L1263.4 580.7 L1263.4 581.4 L1263.3 582.2 L1263.2 583 L1263 583.8 L1262.8 584.6 L1262.5 585.4" fill="none" stroke="#ffffff" stroke-width="1.2" />
<path d="M1259.3 579.4 L1259.6 579.7 L1259.9 580 L1260.1 580.3 L1260.4 580.7 L1260.5 581.1 L1260.7 581.5 L1260.8 581.9 L1260.9 582.4 L1260.9 582.9 L1260.9 583.5 L1260.8 584 L1260.8 584.6 L1260.6 585.1 L1260.5 585.7 L1260.3 586.3 L1260 586.9 L1259.8 587.4 L1259.5 588 L1259.1 588.6 L1258.8 589.1 L1258.4 589.6 L1258 590.1 L1257.6 590.6 L1257.1 591 L1256.7 591.4 L1256.2 591.8 L1255.7 592.1 L1255.2 592.4 L1254.8 592.7 L1254.3 592.9 L1253.8 593.1 L1253.3 593.2 L1252.8 593.3 L1252.4 593.3 L1251.9 593.3 L1251.5 593.3 L1251.1 593.2 L1250.7 593 L1250.4 592.8 L1250.1 592.6" fill="none" stroke="#ffffff" stroke-width="1.2" />
<path d="M1253.7 580.8 L1257.3 577" stroke="#ffffff" stroke-width="1.2" fill="none" />
</g>
<g stroke-linejoin="round">
<path d="M1212.8 605.6 L1213 603.7 L1213.4 601.7 L1214 599.7 L1214.9 597.7 L1216 595.7 L1217.3 593.8 L1218.8 592.1 L1220.4 590.6 L1222.1 589.4 L1223.8 588.4 L1225.5 587.7 L1227.2 587.3 L1228.8 587.2 L1230.3 587.5 L1231.6 588 L1232.7 588.9 L1233.6 590 L1234.2 591.4 L1234.6 593 L1234.8 594.8 L1234.6 596.7 L1234.2 598.7 L1233.6 600.7 L1232.7 602.7 L1231.6 604.7 L1230.3 606.6 L1228.8 608.3 L1227.2 609.8 L1225.5 611 L1223.8 612 L1222.1 612.7 L1220.4 613.1 L1218.8 613.2 L1217.3 612.9 L1216 612.4 L1214.9 611.5 L1214 610.4 L1213.4 609 L1213 607.4 L1212.8 605.6Z" fill="#586069" stroke="#6b7581" stroke-width="1" />
<path d="M1216.2 598.4 L1216.7 597.6 L1217.1 596.8 L1217.6 596 L1218.1 595.3 L1218.7 594.6 L1219.2 593.9 L1219.9 593.3 L1220.5 592.7 L1221.1 592.1 L1221.8 591.6 L1222.5 591.1 L1223.2 590.7 L1223.8 590.3 L1224.5 590 L1225.2 589.8 L1225.9 589.6 L1226.5 589.5 L1227.2 589.4 L1227.8 589.4 L1228.4 589.4 L1229 589.5 L1229.5 589.7 L1230.1 589.9 L1230.5 590.2 L1231 590.6 L1231.4 591 L1231.8 591.4 L1232.1 591.9 L1232.3 592.4 L1232.6 593 L1232.7 593.7 L1232.9 594.3 L1232.9 595 L1232.9 595.8 L1232.9 596.5 L1232.8 597.3 L1232.7 598.1 L1232.5 598.9 L1232.3 599.7 L1232 600.5" fill="none" stroke="#ffffff" stroke-width="1.2" />
<path d="M1228.8 594.5 L1229.1 594.8 L1229.4 595.1 L1229.6 595.4 L1229.9 595.8 L1230 596.2 L1230.2 596.6 L1230.3 597 L1230.4 597.5 L1230.4 598 L1230.4 598.6 L1230.3 599.1 L1230.3 599.7 L1230.1 600.2 L1230 600.8 L1229.8 601.4 L1229.5 602 L1229.3 602.5 L1229 603.1 L1228.6 603.7 L1228.3 604.2 L1227.9 604.7 L1227.5 605.2 L1227.1 605.7 L1226.6 606.1 L1226.2 606.5 L1225.7 606.9 L1225.2 607.2 L1224.7 607.5 L1224.3 607.8 L1223.8 608 L1223.3 608.2 L1222.8 608.3 L1222.3 608.4 L1221.9 608.4 L1221.4 608.4 L1221 608.4 L1220.6 608.3 L1220.2 608.1 L1219.9 607.9 L1219.6 607.7" fill="none" stroke="#ffffff" stroke-width="1.2" />
<path d="M1223.2 595.9 L1226.8 592.1" stroke="#ffffff" stroke-width="1.2" fill="none" />
</g>
<g stroke-linejoin="round">
<path d="M1486.1 471.2 L1486.3 469 L1486.7 466.6 L1487.5 464.1 L1488.6 461.7 L1489.9 459.4 L1491.5 457.2 L1493.3 455.1 L1495.2 453.3 L1497.2 451.8 L1499.2 450.7 L1501.3 449.8 L1503.3 449.3 L1505.2 449.2 L1506.9 449.5 L1508.5 450.2 L1509.8 451.2 L1510.9 452.6 L1511.7 454.2 L1512.2 456.1 L1512.3 458.3 L1512.2 460.5 L1511.7 462.9 L1510.9 465.4 L1509.8 467.8 L1508.5 470.1 L1506.9 472.3 L1505.2 474.4 L1503.3 476.2 L1501.3 477.7 L1499.2 478.9 L1497.2 479.7 L1495.2 480.2 L1493.3 480.3 L1491.5 480 L1489.9 479.3 L1488.6 478.3 L1487.5 476.9 L1486.7 475.3 L1486.3 473.4 L1486.1 471.2Z" fill="#5b8ed6" stroke="#6b7581" stroke-width="1" />
</g>
<g stroke-linejoin="round">
<path d="M1502.3 460 L1507.7 457.2 L1536.5 471.7 L1531 474.4Z" fill="#6a9be0" stroke="#6b7581" stroke-width="0.9" />
<path d="M1496.2 475.5 L1496.2 469.5 L1524.9 484 L1524.9 489.9Z" fill="#5b8ed6" stroke="#6b7581" stroke-width="0.9" />
<path d="M1496.2 457.1 L1502.3 454.1 L1531 468.5 L1524.9 471.5Z" fill="#6a9be0" stroke="#6b7581" stroke-width="0.9" />
<path d="M1496.2 463 L1496.2 457.1 L1524.9 471.5 L1524.9 477.4Z" fill="#5b8ed6" stroke="#6b7581" stroke-width="0.9" />
<path d="M1490.7 472.3 L1490.7 465.7 L1519.5 480.1 L1519.5 486.7Z" fill="#5b8ed6" stroke="#6b7581" stroke-width="0.9" />
<path d="M1490.7 465.7 L1496.2 463 L1524.9 477.4 L1519.5 480.1Z" fill="#6a9be0" stroke="#6b7581" stroke-width="0.9" />
<path d="M1536.5 478.2 L1531 481 L1531 486.9 L1524.9 489.9 L1524.9 484 L1519.5 486.7 L1519.5 480.1 L1524.9 477.4 L1524.9 471.5 L1531 468.5 L1531 474.4 L1536.5 471.7Z" fill="#5b8ed6" stroke="#6b7581" stroke-width="0.9" />
</g>
<g stroke-linejoin="round">
<path d="M1303.1 561.8 L1303.3 559.6 L1303.7 557.2 L1304.5 554.7 L1305.6 552.3 L1306.9 550 L1308.5 547.8 L1310.3 545.7 L1312.2 543.9 L1314.2 542.4 L1316.2 541.3 L1318.3 540.4 L1320.3 539.9 L1322.2 539.8 L1323.9 540.1 L1325.5 540.8 L1326.8 541.8 L1327.9 543.2 L1328.7 544.8 L1329.2 546.7 L1329.3 548.9 L1329.2 551.1 L1328.7 553.5 L1327.9 556 L1326.8 558.4 L1325.5 560.7 L1323.9 562.9 L1322.2 565 L1320.3 566.8 L1318.3 568.3 L1316.2 569.5 L1314.2 570.3 L1312.2 570.8 L1310.3 570.9 L1308.5 570.6 L1306.9 569.9 L1305.6 568.9 L1304.5 567.5 L1303.7 565.9 L1303.3 564 L1303.1 561.8Z" fill="#5b8ed6" stroke="#6b7581" stroke-width="1" />
</g>
<g stroke-linejoin="round">
<path d="M1319.3 550.6 L1324.7 547.8 L1353.5 562.3 L1348 565Z" fill="#6a9be0" stroke="#6b7581" stroke-width="0.9" />
<path d="M1313.2 566 L1313.2 560.1 L1341.9 574.6 L1341.9 580.5Z" fill="#5b8ed6" stroke="#6b7581" stroke-width="0.9" />
<path d="M1313.2 547.7 L1319.3 544.7 L1348 559.1 L1341.9 562.1Z" fill="#6a9be0" stroke="#6b7581" stroke-width="0.9" />
<path d="M1313.2 553.6 L1313.2 547.7 L1341.9 562.1 L1341.9 568Z" fill="#5b8ed6" stroke="#6b7581" stroke-width="0.9" />
<path d="M1307.7 562.9 L1307.7 556.3 L1336.5 570.7 L1336.5 577.3Z" fill="#5b8ed6" stroke="#6b7581" stroke-width="0.9" />
<path d="M1307.7 556.3 L1313.2 553.6 L1341.9 568 L1336.5 570.7Z" fill="#6a9be0" stroke="#6b7581" stroke-width="0.9" />
<path d="M1353.5 568.8 L1348 571.6 L1348 577.5 L1341.9 580.5 L1341.9 574.6 L1336.5 577.3 L1336.5 570.7 L1341.9 568 L1341.9 562.1 L1348 559.1 L1348 565 L1353.5 562.3Z" fill="#5b8ed6" stroke="#6b7581" stroke-width="0.9" />
</g>
<path d="M680.8 857 L680.9 854.9 L681.1 852.5 L681.7 850.2 L682.4 847.8 L683.4 845.4 L735.3 729.9 L736.5 727.6 L737.8 725.3 L739.3 723.2 L740.9 721.2 L742.6 719.5 L744.4 718 L746.2 716.7 L748 715.7 L749.8 715 L751.5 714.6 L753.2 714.6 L754.7 714.8 L756.1 715.4 L772.1 723.5 L773.4 724.3 L774.4 725.4 L775.3 726.8 L775.9 728.5 L776.3 730.3 L776.5 732.4 L776.5 734.5 L776.1 736.9 L775.6 739.2 L774.9 741.6 L773.9 744 L722 859.5 L720.8 861.8 L719.5 864.1 L718 866.2 L716.4 868.1 L714.7 869.9 L712.9 871.4 L711.1 872.7 L709.3 873.7 L707.5 874.4 L705.8 874.8 L704.1 874.8 L702.6 874.6 L701.2 874 L685.2 866 L683.9 865.1 L682.9 864 L682 862.6 L681.4 860.9 L681 859.1Z" fill="#e60012" stroke="#e60012" stroke-width="6.4" stroke-linejoin="round"/>
<path d="M785.6 913.6 L785.7 911.3 L786 908.9 L786.6 906.5 L787.5 904 L788.5 901.5 L844.3 781.5 L845.5 779.1 L847 776.7 L848.5 774.5 L850.2 772.5 L852 770.7 L853.9 769.1 L855.8 767.8 L857.7 766.8 L859.5 766 L861.3 765.6 L863 765.6 L864.6 765.8 L866.1 766.4 L880.9 773.8 L882.1 774.6 L883.2 775.8 L884.1 777.3 L884.7 779 L885.1 780.9 L885.2 783 L885.1 785.3 L884.8 787.7 L884.2 790.1 L883.3 792.6 L882.3 795.1 L826.5 915.1 L825.3 917.5 L823.8 919.9 L822.3 922.1 L820.6 924.1 L818.8 925.9 L816.9 927.5 L815 928.8 L813.1 929.8 L811.3 930.6 L809.5 931 L807.8 931 L806.2 930.8 L804.7 930.2 L789.9 922.8 L788.6 922 L787.6 920.8 L786.7 919.3 L786.1 917.6 L785.7 915.7Z" fill="#e60012" stroke="#e60012" stroke-width="6.4" stroke-linejoin="round"/>
<path d="M696.6 863.8 L696.7 861.2 L697.1 858.5 L697.9 855.7 L698.9 853 L700.1 850.4 L701.6 848 L703.2 845.8 L705 843.9 L706.8 842.3 L708.7 841.1 L710.6 840.3 L712.5 840 L714.2 840 L715.8 840.5 L747.3 858 L748.8 859 L750 860.2 L751 861.9 L751.8 863.9 L752.2 866.2 L752.3 868.7 L752.2 871.3 L751.8 874 L751 876.8 L750 879.5 L748.8 882.1 L747.3 884.5 L745.7 886.7 L744 888.6 L742.1 890.2 L740.2 891.4 L738.3 892.2 L736.5 892.5 L734.7 892.5 L733.1 892 L701.6 874.5 L700.1 873.5 L698.9 872.2 L697.9 870.6 L697.1 868.6 L696.7 866.3Z" fill="#e60012" stroke="#e60012" stroke-width="6.4" stroke-linejoin="round"/>
<path d="M735.8 833 L736 831.5 L736.8 830.1 L738 828.8 L739.6 827.6 L741.6 826.5 L744 825.6 L746.6 824.9 L749.5 824.4 L752.5 824.1 L755.6 824.1 L758.7 824.3 L761.7 824.7 L764.6 825.3 L767.2 826.1 L769.6 827.1 L771.6 828.2 L773.2 829.5 L774.4 830.9 L775.2 832.3 L775.4 833.8 L776 862.4 L775.8 863.8 L775.1 865.1 L773.9 866.4 L772.4 867.6 L770.4 868.6 L768.2 869.5 L765.6 870.1 L762.9 870.6 L760 870.9 L757 870.9 L754 870.8 L751.1 870.4 L748.4 869.8 L745.8 869 L743.6 868 L741.6 866.9 L740.1 865.7 L738.9 864.4 L738.2 863 L738 861.6Z" fill="#e60012" stroke="#e60012" stroke-width="6.4" stroke-linejoin="round"/>
<path d="M739 856 L770 842 L774 866 L752 876Z" fill="#e60012" stroke="#e60012" stroke-width="6.4" stroke-linejoin="round"/>
<path d="M806.6 855 L765.5 875.5 L758.2 885.5 L756.5 897 L760.5 907 L790.5 920.5 L800 923 L815 905Z" fill="#e60012" stroke="#e60012" stroke-width="6.4" stroke-linejoin="round"/>
<path d="M670.5 839.7 L675.3 833.2 L680.7 834.4 L690.7 839.4 L695.5 847.9 L695.5 856.3 L690.7 862.8 L685.3 861.6 L675.3 856.6 L670.5 848.1Z" fill="#e60012" stroke="#e60012" stroke-width="6.4" stroke-linejoin="round"/>
<path d="M805 901 L810.3 893.9 L816.3 895.1 L836.3 905.1 L841.6 914.6 L841.6 924 L836.3 931.1 L830.3 929.9 L810.3 919.9 L805 910.4Z" fill="#e60012" stroke="#e60012" stroke-width="6.4" stroke-linejoin="round"/>
<g stroke-linejoin="round">
<path d="M670.5 839.7 L675.3 833.2 L680.7 834.4 L690.7 839.4 L695.5 847.9 L695.5 856.3 L690.7 862.8 L685.3 861.6 L675.3 856.6 L670.5 848.1Z" fill="#1f4fa0" stroke="#0a1d48" stroke-width="1" />
<path d="M670.5 848.1 L675.3 849.1 L675.3 856.6 L680.7 857.8 L680.7 850.3 L685.5 851.3 L685.5 842.9 L680.7 841.9 L680.7 834.4 L675.3 833.2 L675.3 840.7 L670.5 839.7Z" fill="#2458b0" stroke="#0a1d48" stroke-width="1" />
</g>
<g stroke-linejoin="round" stroke-linecap="round">
<path d="M680.8 857 L680.9 854.9 L681.1 852.5 L681.7 850.2 L682.4 847.8 L683.4 845.4 L735.3 729.9 L736.5 727.6 L737.8 725.3 L739.3 723.2 L740.9 721.2 L742.6 719.5 L744.4 718 L746.2 716.7 L748 715.7 L749.8 715 L751.5 714.6 L753.2 714.6 L754.7 714.8 L756.1 715.4 L772.1 723.5 L773.4 724.3 L774.4 725.4 L775.3 726.8 L775.9 728.5 L776.3 730.3 L776.5 732.4 L776.5 734.5 L776.1 736.9 L775.6 739.2 L774.9 741.6 L773.9 744 L722 859.5 L720.8 861.8 L719.5 864.1 L718 866.2 L716.4 868.1 L714.7 869.9 L712.9 871.4 L711.1 872.7 L709.3 873.7 L707.5 874.4 L705.8 874.8 L704.1 874.8 L702.6 874.6 L701.2 874 L685.2 866 L683.9 865.1 L682.9 864 L682 862.6 L681.4 860.9 L681 859.1Z" fill="url(#gBandA)" stroke="#1c1a1a" stroke-width="1.2" />
<path d="M699.4 853.5 L698.4 855.9 L697.7 858.3 L697.1 860.7 L696.8 862.9 L696.8 865.1 L697 867.2 L697.4 869 L698 870.7 L698.9 872.1 L699.9 873.2 L701.2 874 L702.6 874.6 L704.1 874.8 L705.8 874.8 L707.5 874.4 L709.3 873.7 L711.1 872.7 L712.9 871.4 L714.7 869.9 L716.4 868.1 L718 866.2 L719.5 864.1 L720.8 861.8 L722 859.5 L773.9 744 L774.9 741.6 L775.6 739.2 L776.2 736.8 L776.5 734.6 L776.5 732.4 L776.3 730.3 L775.9 728.5 L775.3 726.8 L774.4 725.4 L773.4 724.3 L772.1 723.5 L770.7 722.9 L769.2 722.7 L767.5 722.7 L765.8 723.1 L764 723.8 L762.2 724.8 L760.4 726.1 L758.6 727.6 L756.9 729.4 L755.3 731.3 L753.8 733.4 L752.5 735.7 L751.3 738Z" fill="#a5a9ad" stroke="#1c1a1a" stroke-width="1.2" />
<path d="M701.7 854.1 L700.9 856 L700.3 857.9 L699.9 859.8 L699.6 861.7 L699.6 863.4 L699.7 865 L700 866.5 L700.5 867.8 L701.2 869 L702.1 869.9 L703.1 870.5 L704.2 871 L705.4 871.2 L706.8 871.1 L708.1 870.8 L709.6 870.2 L711 869.4 L712.5 868.4 L713.9 867.2 L715.3 865.8 L716.6 864.3 L717.7 862.6 L718.8 860.8 L719.7 858.9 L771.6 743.4 L772.4 741.5 L773 739.6 L773.4 737.7 L773.7 735.8 L773.7 734.1 L773.6 732.5 L773.3 731 L772.8 729.7 L772.1 728.5 L771.2 727.6 L770.2 727 L769.1 726.5 L767.9 726.3 L766.5 726.4 L765.2 726.7 L763.7 727.3 L762.3 728.1 L760.8 729.1 L759.4 730.3 L758 731.7 L756.7 733.2 L755.6 734.9 L754.5 736.7 L753.6 738.6Z" fill="none" stroke="#1c1a1a" stroke-width="1" />
<path d="M747.1 797.2 L743.7 804.9 L740.5 799.8Z" fill="#9ca0a4" stroke="#1c1a1a" stroke-width="1" />
<path d="M729.6 792.6 L726.2 800.3 L732.8 797.7Z" fill="#9ca0a4" stroke="#1c1a1a" stroke-width="1" />
<path d="M738 795.7 L739.7 795.9 L741.5 795.7 L743.5 795.1 L745.4 794.2 L747.4 792.8 L749.3 791.2 L751.1 789.3 L752.8 787.1 L754.2 784.7 L755.5 782.2 L756.5 779.6 L757.3 777.1 L757.7 774.6 L757.8 772.2 L757.7 770 L757.2 768 L756.4 766.3 L755.4 765 L754.1 764 L752.6 763.3 L750.9 763.1 L749.1 763.3 L747.1 763.9 L745.2 764.8 L743.2 766.2 L741.3 767.8 L739.5 769.7 L737.8 771.9 L736.4 774.3 L735.1 776.8 L734.1 779.4 L733.3 781.9 L732.9 784.4 L732.8 786.8 L732.9 789 L733.4 791 L734.2 792.7 L735.2 794 L736.5 795 L738 795.7Z" fill="#a8acb0" stroke="#1c1a1a" stroke-width="1.2" />
<path d="M738.3 793.8 L739.8 794 L741.3 793.8 L742.9 793.4 L744.6 792.5 L746.2 791.4 L747.8 790 L749.4 788.4 L750.8 786.5 L752 784.5 L753.1 782.4 L753.9 780.3 L754.6 778.1 L754.9 776 L755.1 774 L754.9 772.1 L754.5 770.4 L753.9 769 L753 767.9 L751.9 767 L750.6 766.5 L749.2 766.3 L747.6 766.4 L746 766.9 L744.4 767.7 L742.7 768.9 L741.1 770.3 L739.6 771.9 L738.2 773.7 L736.9 775.7 L735.8 777.9 L735 780 L734.4 782.2 L734 784.3 L733.9 786.3 L734 788.2 L734.4 789.9 L735.1 791.3 L736 792.4 L737.1 793.3 L738.3 793.8Z" fill="#a8acb0" stroke="#1c1a1a" stroke-width="1" />
<path d="M739 791.6 L740.2 791.8 L741.5 791.7 L742.8 791.3 L744.1 790.6 L745.5 789.7 L746.8 788.5 L748.1 787.2 L749.2 785.7 L750.2 784.1 L751.1 782.3 L751.8 780.6 L752.3 778.8 L752.6 777.1 L752.7 775.4 L752.6 773.9 L752.3 772.5 L751.7 771.4 L751 770.4 L750.1 769.7 L749.1 769.3 L747.9 769.1 L746.6 769.3 L745.3 769.7 L744 770.3 L742.6 771.2 L741.3 772.4 L740.1 773.7 L738.9 775.2 L737.9 776.9 L737 778.6 L736.3 780.4 L735.8 782.1 L735.5 783.9 L735.4 785.5 L735.5 787 L735.9 788.4 L736.4 789.6 L737.1 790.5 L738 791.2 L739 791.6Z" fill="#e60012" stroke="#1c1a1a" stroke-width="1.2" />
<clipPath id="c565"><path d="M739 791.6 L740.2 791.8 L741.5 791.7 L742.8 791.3 L744.1 790.6 L745.5 789.7 L746.8 788.5 L748.1 787.2 L749.2 785.7 L750.2 784.1 L751.1 782.3 L751.8 780.6 L752.3 778.8 L752.6 777.1 L752.7 775.4 L752.6 773.9 L752.3 772.5 L751.7 771.4 L751 770.4 L750.1 769.7 L749.1 769.3 L747.9 769.1 L746.6 769.3 L745.3 769.7 L744 770.3 L742.6 771.2 L741.3 772.4 L740.1 773.7 L738.9 775.2 L737.9 776.9 L737 778.6 L736.3 780.4 L735.8 782.1 L735.5 783.9 L735.4 785.5 L735.5 787 L735.9 788.4 L736.4 789.6 L737.1 790.5 L738 791.2 L739 791.6Z"/></clipPath>
<path d="M743.3 791.9 L744.5 792 L745.8 791.9 L747.1 791.5 L748.5 790.8 L749.9 789.9 L751.3 788.7 L752.6 787.3 L753.8 785.7 L754.8 784.1 L755.7 782.3 L756.5 780.4 L757 778.6 L757.3 776.8 L757.4 775.1 L757.3 773.5 L756.9 772.1 L756.4 770.9 L755.6 770 L754.7 769.2 L753.6 768.8 L752.4 768.6 L751.1 768.8 L749.8 769.2 L748.4 769.9 L747 770.8 L745.6 772 L744.3 773.4 L743.1 774.9 L742.1 776.6 L741.2 778.4 L740.4 780.2 L739.9 782.1 L739.6 783.9 L739.5 785.6 L739.6 787.1 L740 788.5 L740.5 789.8 L741.3 790.7 L742.2 791.4 L743.3 791.9Z" fill="#abafb3" stroke="#1c1a1a" stroke-width="1" clip-path="url(#c565)"/>
<path d="M731 833 L725.2 846.1 L723 842.5 L719.3 841.6 L722.8 833.9 L726.4 834.8Z" fill="#9ca0a4" stroke="#1c1a1a" stroke-width="1" />
<path d="M713.5 828.4 L707.7 841.5 L712.3 839.7 L715.9 840.6 L719.4 832.9 L715.7 832Z" fill="#9ca0a4" stroke="#1c1a1a" stroke-width="1" />
<path d="M720.7 834.2 L722.4 834.4 L724.2 834.2 L726.2 833.6 L728.1 832.7 L730.1 831.3 L732 829.7 L733.8 827.8 L735.5 825.6 L736.9 823.2 L738.2 820.7 L739.2 818.1 L740 815.6 L740.4 813.1 L740.5 810.7 L740.4 808.5 L739.9 806.5 L739.1 804.8 L738.1 803.5 L736.8 802.5 L735.3 801.8 L733.6 801.6 L731.8 801.8 L729.8 802.4 L727.9 803.3 L725.9 804.7 L724 806.3 L722.2 808.2 L720.5 810.4 L719.1 812.8 L717.8 815.3 L716.8 817.9 L716 820.4 L715.6 822.9 L715.5 825.3 L715.6 827.5 L716.1 829.5 L716.9 831.2 L717.9 832.5 L719.2 833.5 L720.7 834.2Z" fill="#a8acb0" stroke="#1c1a1a" stroke-width="1.2" />
<path d="M721 832.3 L722.5 832.5 L724 832.3 L725.6 831.9 L727.3 831 L728.9 829.9 L730.5 828.5 L732.1 826.9 L733.5 825 L734.7 823 L735.8 820.9 L736.6 818.8 L737.3 816.6 L737.6 814.5 L737.8 812.5 L737.6 810.6 L737.2 808.9 L736.6 807.5 L735.7 806.4 L734.6 805.5 L733.3 805 L731.9 804.8 L730.3 804.9 L728.7 805.4 L727.1 806.2 L725.4 807.4 L723.8 808.8 L722.3 810.4 L720.9 812.2 L719.6 814.2 L718.5 816.4 L717.7 818.5 L717.1 820.7 L716.7 822.8 L716.6 824.8 L716.7 826.7 L717.1 828.4 L717.8 829.8 L718.7 830.9 L719.8 831.8 L721 832.3Z" fill="#a8acb0" stroke="#1c1a1a" stroke-width="1" />
<path d="M721.7 830.1 L722.9 830.3 L724.2 830.2 L725.5 829.8 L726.8 829.1 L728.2 828.2 L729.5 827 L730.8 825.7 L731.9 824.2 L732.9 822.6 L733.8 820.8 L734.5 819.1 L735 817.3 L735.3 815.6 L735.4 813.9 L735.3 812.4 L735 811 L734.4 809.9 L733.7 808.9 L732.8 808.2 L731.8 807.8 L730.6 807.6 L729.3 807.8 L728 808.2 L726.7 808.8 L725.3 809.7 L724 810.9 L722.8 812.2 L721.6 813.7 L720.6 815.4 L719.7 817.1 L719 818.9 L718.5 820.6 L718.2 822.4 L718.1 824 L718.2 825.5 L718.6 826.9 L719.1 828.1 L719.8 829 L720.7 829.7 L721.7 830.1Z" fill="#e60012" stroke="#1c1a1a" stroke-width="1.2" />
<clipPath id="c572"><path d="M721.7 830.1 L722.9 830.3 L724.2 830.2 L725.5 829.8 L726.8 829.1 L728.2 828.2 L729.5 827 L730.8 825.7 L731.9 824.2 L732.9 822.6 L733.8 820.8 L734.5 819.1 L735 817.3 L735.3 815.6 L735.4 813.9 L735.3 812.4 L735 811 L734.4 809.9 L733.7 808.9 L732.8 808.2 L731.8 807.8 L730.6 807.6 L729.3 807.8 L728 808.2 L726.7 808.8 L725.3 809.7 L724 810.9 L722.8 812.2 L721.6 813.7 L720.6 815.4 L719.7 817.1 L719 818.9 L718.5 820.6 L718.2 822.4 L718.1 824 L718.2 825.5 L718.6 826.9 L719.1 828.1 L719.8 829 L720.7 829.7 L721.7 830.1Z"/></clipPath>
<path d="M726 830.4 L727.2 830.5 L728.5 830.4 L729.8 830 L731.2 829.3 L732.6 828.4 L734 827.2 L735.3 825.8 L736.5 824.2 L737.5 822.6 L738.4 820.8 L739.2 818.9 L739.7 817.1 L740 815.3 L740.1 813.6 L740 812 L739.6 810.6 L739.1 809.4 L738.3 808.5 L737.4 807.7 L736.3 807.3 L735.1 807.1 L733.8 807.3 L732.5 807.7 L731.1 808.4 L729.7 809.3 L728.3 810.5 L727 811.9 L725.8 813.4 L724.8 815.1 L723.9 816.9 L723.1 818.7 L722.6 820.6 L722.3 822.4 L722.2 824.1 L722.3 825.6 L722.7 827 L723.2 828.3 L724 829.2 L724.9 829.9 L726 830.4Z" fill="#abafb3" stroke="#1c1a1a" stroke-width="1" clip-path="url(#c572)"/>
<path d="M713.4 844.7 L710 852.2 L705.3 851 L702 858.3 L706.7 859.5 L703.4 867.1 L708 868.3 L711.4 860.8 L716.1 862 L719.4 854.7 L714.7 853.5 L718 845.9Z" fill="#92969a" stroke="#1c1a1a" stroke-width="1.2" />
</g>
<g stroke-linejoin="round">
<path d="M806.6 855 L765.5 875.5 C756 882 754.5 900 761.5 908 L792 921 L800 923 L815 905Z" fill="url(#gTube)" stroke="#1c1a1a" stroke-width="1.2"/>
<path d="M825.5 867.6 L825.2 869.7 L824.3 871.7 L822.8 873.4 L820.9 874.7 L818.5 875.6 L815.8 876.1 L813 876.2 L810 875.7 L807.2 874.8 L804.5 873.5 L802.1 871.9 L800.2 870 L798.7 867.9 L797.8 865.6 L797.5 863.4 L797.8 861.3 L798.7 859.3 L800.2 857.6 L802.1 856.3 L804.5 855.4 L807.2 854.9 L810 854.8 L813 855.3 L815.8 856.2 L818.5 857.5 L820.9 859.1 L822.8 861 L824.3 863.1 L825.2 865.4 L825.5 867.6Z" fill="#a0a3a6" stroke="#1c1a1a" stroke-width="1.1" />
</g>
<g stroke-linejoin="round" stroke-linecap="round">
<path d="M785.6 913.6 L785.7 911.3 L786 908.9 L786.6 906.5 L787.5 904 L788.5 901.5 L844.3 781.5 L845.5 779.1 L847 776.7 L848.5 774.5 L850.2 772.5 L852 770.7 L853.9 769.1 L855.8 767.8 L857.7 766.8 L859.5 766 L861.3 765.6 L863 765.6 L864.6 765.8 L866.1 766.4 L880.9 773.8 L882.1 774.6 L883.2 775.8 L884.1 777.3 L884.7 779 L885.1 780.9 L885.2 783 L885.1 785.3 L884.8 787.7 L884.2 790.1 L883.3 792.6 L882.3 795.1 L826.5 915.1 L825.3 917.5 L823.8 919.9 L822.3 922.1 L820.6 924.1 L818.8 925.9 L816.9 927.5 L815 928.8 L813.1 929.8 L811.3 930.6 L809.5 931 L807.8 931 L806.2 930.8 L804.7 930.2 L789.9 922.8 L788.6 922 L787.6 920.8 L786.7 919.3 L786.1 917.6 L785.7 915.7Z" fill="url(#gBandA)" stroke="#1c1a1a" stroke-width="1.2" />
<path d="M803.3 908.9 L802.3 911.4 L801.4 913.9 L800.8 916.3 L800.5 918.7 L800.4 921 L800.5 923.1 L800.9 925 L801.5 926.7 L802.4 928.2 L803.5 929.4 L804.7 930.2 L806.2 930.8 L807.7 931 L809.5 931 L811.3 930.6 L813.1 929.8 L815 928.8 L816.9 927.5 L818.8 925.9 L820.6 924.1 L822.3 922.1 L823.8 919.9 L825.3 917.5 L826.5 915.1 L882.3 795.1 L883.3 792.6 L884.2 790.1 L884.8 787.7 L885.1 785.3 L885.2 783 L885.1 780.9 L884.7 779 L884.1 777.3 L883.2 775.8 L882.1 774.6 L880.9 773.8 L879.4 773.2 L877.9 773 L876.1 773 L874.3 773.4 L872.5 774.2 L870.6 775.2 L868.7 776.5 L866.8 778.1 L865 779.9 L863.3 781.9 L861.8 784.1 L860.3 786.5 L859.1 788.9Z" fill="#a5a9ad" stroke="#1c1a1a" stroke-width="1.2" />
<path d="M805.6 909.5 L804.8 911.5 L804.1 913.5 L803.7 915.5 L803.4 917.4 L803.3 919.2 L803.4 920.9 L803.7 922.4 L804.2 923.8 L804.9 924.9 L805.7 925.9 L806.8 926.6 L807.9 927 L809.2 927.2 L810.5 927.2 L812 926.8 L813.5 926.3 L815 925.4 L816.5 924.4 L818 923.1 L819.4 921.7 L820.8 920 L822.1 918.3 L823.2 916.4 L824.2 914.5 L880 794.5 L880.8 792.5 L881.5 790.5 L881.9 788.5 L882.2 786.6 L882.3 784.8 L882.2 783.1 L881.9 781.6 L881.4 780.2 L880.7 779.1 L879.9 778.1 L878.8 777.4 L877.7 777 L876.4 776.8 L875.1 776.8 L873.6 777.2 L872.1 777.7 L870.6 778.6 L869.1 779.6 L867.6 780.9 L866.2 782.3 L864.8 784 L863.5 785.7 L862.4 787.6 L861.4 789.5Z" fill="none" stroke="#1c1a1a" stroke-width="1" />
<path d="M853.6 850.4 L849.9 858.4 L846.8 853.1Z" fill="#9ca0a4" stroke="#1c1a1a" stroke-width="1" />
<path d="M835.7 845.6 L832 853.6 L838.8 850.9Z" fill="#9ca0a4" stroke="#1c1a1a" stroke-width="1" />
<path d="M844.3 848.8 L846 849 L847.9 848.8 L849.9 848.2 L851.9 847.2 L854 845.9 L856 844.1 L857.9 842.1 L859.7 839.9 L861.2 837.4 L862.6 834.8 L863.7 832.1 L864.5 829.5 L865 826.9 L865.2 824.4 L865 822.1 L864.6 820.1 L863.8 818.3 L862.8 816.9 L861.5 815.8 L859.9 815.2 L858.2 815 L856.3 815.2 L854.3 815.8 L852.3 816.8 L850.2 818.1 L848.2 819.9 L846.3 821.9 L844.5 824.1 L843 826.6 L841.6 829.2 L840.5 831.9 L839.7 834.5 L839.2 837.1 L839 839.6 L839.2 841.9 L839.6 843.9 L840.4 845.7 L841.4 847.1 L842.7 848.2 L844.3 848.8Z" fill="#a8acb0" stroke="#1c1a1a" stroke-width="1.2" />
<path d="M844.6 846.9 L846.1 847.1 L847.7 846.9 L849.4 846.4 L851.1 845.5 L852.8 844.4 L854.5 842.9 L856.1 841.2 L857.6 839.3 L858.9 837.2 L860.1 835 L861 832.8 L861.7 830.5 L862.1 828.3 L862.3 826.2 L862.2 824.3 L861.8 822.6 L861.1 821.1 L860.2 819.9 L859.1 819 L857.8 818.5 L856.4 818.3 L854.8 818.4 L853.1 818.9 L851.4 819.8 L849.6 821 L847.9 822.4 L846.3 824.1 L844.8 826 L843.5 828.1 L842.4 830.3 L841.4 832.6 L840.8 834.8 L840.3 837 L840.2 839.1 L840.3 841 L840.7 842.8 L841.3 844.2 L842.2 845.4 L843.3 846.3 L844.6 846.9Z" fill="#a8acb0" stroke="#1c1a1a" stroke-width="1" />
<path d="M845.4 844.6 L846.6 844.8 L847.9 844.6 L849.3 844.2 L850.7 843.5 L852.1 842.6 L853.5 841.4 L854.8 840 L856 838.4 L857.1 836.7 L858 834.9 L858.8 833.1 L859.3 831.3 L859.7 829.5 L859.8 827.7 L859.7 826.2 L859.4 824.8 L858.9 823.5 L858.2 822.6 L857.3 821.8 L856.2 821.4 L855 821.2 L853.7 821.4 L852.3 821.8 L850.9 822.5 L849.5 823.4 L848.1 824.6 L846.8 826 L845.6 827.6 L844.5 829.3 L843.6 831.1 L842.8 832.9 L842.2 834.7 L841.9 836.5 L841.8 838.3 L841.9 839.8 L842.2 841.2 L842.7 842.5 L843.4 843.4 L844.3 844.2 L845.4 844.6Z" fill="#e60012" stroke="#1c1a1a" stroke-width="1.2" />
<clipPath id="c589"><path d="M845.4 844.6 L846.6 844.8 L847.9 844.6 L849.3 844.2 L850.7 843.5 L852.1 842.6 L853.5 841.4 L854.8 840 L856 838.4 L857.1 836.7 L858 834.9 L858.8 833.1 L859.3 831.3 L859.7 829.5 L859.8 827.7 L859.7 826.2 L859.4 824.8 L858.9 823.5 L858.2 822.6 L857.3 821.8 L856.2 821.4 L855 821.2 L853.7 821.4 L852.3 821.8 L850.9 822.5 L849.5 823.4 L848.1 824.6 L846.8 826 L845.6 827.6 L844.5 829.3 L843.6 831.1 L842.8 832.9 L842.2 834.7 L841.9 836.5 L841.8 838.3 L841.9 839.8 L842.2 841.2 L842.7 842.5 L843.4 843.4 L844.3 844.2 L845.4 844.6Z"/></clipPath>
<path d="M849.8 844.9 L851 845 L852.3 844.9 L853.8 844.5 L855.2 843.8 L856.7 842.8 L858.1 841.5 L859.5 840.1 L860.7 838.5 L861.9 836.7 L862.8 834.9 L863.6 833 L864.2 831.1 L864.5 829.2 L864.7 827.4 L864.6 825.8 L864.3 824.3 L863.7 823.1 L863 822.1 L862 821.3 L860.9 820.9 L859.7 820.7 L858.3 820.8 L856.9 821.3 L855.5 822 L854 823 L852.6 824.2 L851.2 825.6 L849.9 827.3 L848.8 829 L847.9 830.9 L847.1 832.8 L846.5 834.7 L846.1 836.5 L846 838.3 L846.1 839.9 L846.4 841.4 L847 842.7 L847.7 843.7 L848.7 844.4 L849.8 844.9Z" fill="#abafb3" stroke="#1c1a1a" stroke-width="1" clip-path="url(#c589)"/>
<path d="M825.7 888.8 L827.4 889 L829.3 888.8 L831.3 888.2 L833.3 887.2 L835.4 885.9 L837.4 884.1 L839.3 882.1 L841.1 879.9 L842.6 877.4 L844 874.8 L845.1 872.1 L845.9 869.5 L846.4 866.9 L846.6 864.4 L846.4 862.1 L846 860.1 L845.2 858.3 L844.2 856.9 L842.9 855.8 L841.3 855.2 L839.6 855 L837.7 855.2 L835.7 855.8 L833.7 856.8 L831.6 858.1 L829.6 859.9 L827.7 861.9 L825.9 864.1 L824.4 866.6 L823 869.2 L821.9 871.9 L821.1 874.5 L820.6 877.1 L820.4 879.6 L820.6 881.9 L821 883.9 L821.8 885.7 L822.8 887.1 L824.1 888.2 L825.7 888.8Z" fill="#a8acb0" stroke="#1c1a1a" stroke-width="1.2" />
<path d="M826 886.9 L827.5 887.1 L829.1 886.9 L830.8 886.4 L832.5 885.5 L834.2 884.4 L835.9 882.9 L837.5 881.2 L839 879.3 L840.3 877.2 L841.5 875 L842.4 872.8 L843.1 870.5 L843.5 868.3 L843.7 866.2 L843.6 864.3 L843.2 862.6 L842.5 861.1 L841.6 859.9 L840.5 859 L839.2 858.5 L837.8 858.3 L836.2 858.4 L834.5 858.9 L832.8 859.8 L831 861 L829.3 862.4 L827.7 864.1 L826.2 866 L824.9 868.1 L823.8 870.3 L822.8 872.6 L822.2 874.8 L821.7 877 L821.6 879.1 L821.7 881 L822.1 882.8 L822.7 884.2 L823.6 885.4 L824.7 886.3 L826 886.9Z" fill="#a8acb0" stroke="#1c1a1a" stroke-width="1" />
<path d="M826.8 884.6 L828 884.8 L829.3 884.6 L830.7 884.2 L832.1 883.5 L833.5 882.6 L834.9 881.4 L836.2 880 L837.4 878.4 L838.5 876.7 L839.4 874.9 L840.2 873.1 L840.7 871.3 L841.1 869.5 L841.2 867.7 L841.1 866.2 L840.8 864.8 L840.3 863.5 L839.6 862.6 L838.7 861.8 L837.6 861.4 L836.4 861.2 L835.1 861.4 L833.7 861.8 L832.3 862.5 L830.9 863.4 L829.5 864.6 L828.2 866 L827 867.6 L825.9 869.3 L825 871.1 L824.2 872.9 L823.6 874.7 L823.3 876.5 L823.2 878.3 L823.3 879.8 L823.6 881.2 L824.1 882.5 L824.8 883.4 L825.7 884.2 L826.8 884.6Z" fill="#e60012" stroke="#1c1a1a" stroke-width="1.2" />
<clipPath id="c594"><path d="M826.8 884.6 L828 884.8 L829.3 884.6 L830.7 884.2 L832.1 883.5 L833.5 882.6 L834.9 881.4 L836.2 880 L837.4 878.4 L838.5 876.7 L839.4 874.9 L840.2 873.1 L840.7 871.3 L841.1 869.5 L841.2 867.7 L841.1 866.2 L840.8 864.8 L840.3 863.5 L839.6 862.6 L838.7 861.8 L837.6 861.4 L836.4 861.2 L835.1 861.4 L833.7 861.8 L832.3 862.5 L830.9 863.4 L829.5 864.6 L828.2 866 L827 867.6 L825.9 869.3 L825 871.1 L824.2 872.9 L823.6 874.7 L823.3 876.5 L823.2 878.3 L823.3 879.8 L823.6 881.2 L824.1 882.5 L824.8 883.4 L825.7 884.2 L826.8 884.6Z"/></clipPath>
<path d="M831.2 884.9 L832.4 885 L833.7 884.9 L835.2 884.5 L836.6 883.8 L838.1 882.8 L839.5 881.5 L840.9 880.1 L842.1 878.5 L843.3 876.7 L844.2 874.9 L845 873 L845.6 871.1 L845.9 869.2 L846.1 867.4 L846 865.8 L845.7 864.3 L845.1 863.1 L844.4 862.1 L843.4 861.3 L842.3 860.9 L841.1 860.7 L839.7 860.8 L838.3 861.3 L836.9 862 L835.4 863 L834 864.2 L832.6 865.6 L831.3 867.3 L830.2 869 L829.3 870.9 L828.5 872.8 L827.9 874.7 L827.5 876.5 L827.4 878.3 L827.5 879.9 L827.8 881.4 L828.4 882.7 L829.1 883.7 L830.1 884.4 L831.2 884.9Z" fill="#abafb3" stroke="#1c1a1a" stroke-width="1" clip-path="url(#c594)"/>
</g>
<g stroke-linejoin="round">
<path d="M805 901 L810.3 893.9 L816.3 895.1 L836.3 905.1 L841.6 914.6 L841.6 924 L836.3 931.1 L830.3 929.9 L810.3 919.9 L805 910.4Z" fill="#1f4fa0" stroke="#0a1d48" stroke-width="1" />
<path d="M833.3 922.2 L813.3 912.2" stroke="#0a1d48" stroke-width="1" fill="none" />
<path d="M833.3 912.8 L813.3 902.8" stroke="#0a1d48" stroke-width="1" fill="none" />
<path d="M825 920.4 L830.3 921.5 L830.3 929.9 L836.3 931.1 L836.3 922.8 L841.6 924 L841.6 914.6 L836.3 913.5 L836.3 905.1 L830.3 903.9 L830.3 912.2 L825 911Z" fill="#2458b0" stroke="#0a1d48" stroke-width="1" />
</g>
<clipPath id="clipA"><path d="M677.6 857 L677.6 854.9 L678 852.5 L678.5 850.2 L679.2 847.8 L679.9 845.9 L680.8 843.5 L732.7 728 L733.9 725.7 L735.2 723.4 L736.7 721.3 L738.3 719.4 L740 717.6 L741.8 716.1 L743.4 714.9 L745.2 713.7 L747 712.7 L748.8 712 L750.5 711.6 L752.2 711.5 L754.2 711.5 L755.7 711.8 L757.1 712.3 L773.1 720.4 L774.4 721.3 L776 722.4 L777 723.5 L777.9 725 L778.5 726.6 L779.1 728.5 L779.5 730.3 L779.7 732.4 L779.6 734.5 L779.4 736.9 L778.8 739.2 L778.1 741.6 L777.5 743.5 L776.5 745.9 L724.6 861.4 L723.4 863.7 L722.1 866 L720.6 868.1 L719 870 L717.3 871.8 L715.5 873.3 L713.9 874.5 L712.1 875.7 L710.3 876.7 L708.5 877.4 L706.8 877.8 L705.1 877.9 L703.1 877.9 L701.6 877.6 L700.2 877.1 L684.2 869 L682.9 868.1 L681.3 867 L680.3 865.9 L679.4 864.5 L678.8 862.8 L678.2 860.9 L677.8 859.1Z"/></clipPath>
<path d="M749.5 748.8 L749.5 746.6 L749.9 744.4 L750.4 742 L751.2 739.6 L752.3 737.2 L790.5 660.5 L791.8 658.1 L793.3 655.9 L794.9 653.8 L796.7 651.8 L798.6 650 L800.7 648.5 L802.7 647.2 L804.8 646.2 L806.8 645.5 L808.8 645.1 L810.7 645 L812.5 645.1 L814.1 645.7 L841.6 659.5 L843 660.3 L844.3 661.4 L845.3 662.7 L846 664.4 L846.5 666.2 L846.8 668.2 L846.8 670.4 L846.5 672.6 L845.9 675 L845.1 677.4 L844 679.8 L805.8 756.5 L804.5 758.9 L803 761.1 L801.4 763.2 L799.6 765.2 L797.6 767 L795.6 768.5 L793.6 769.8 L791.5 770.8 L789.5 771.5 L787.5 771.9 L785.6 772 L783.8 771.9 L782.2 771.3 L754.7 757.5 L753.3 756.7 L752 755.6 L751 754.3 L750.3 752.6 L749.8 750.8Z" fill="none" stroke="#e60012" stroke-width="6.4" clip-path="url(#clipA)" stroke-linejoin="round"/>
<path d="M749.5 748.8 L749.5 746.6 L749.9 744.4 L750.4 742 L751.2 739.6 L752.3 737.2 L790.5 660.5 L791.8 658.1 L793.3 655.9 L794.9 653.8 L796.7 651.8 L798.6 650 L800.7 648.5 L802.7 647.2 L804.8 646.2 L806.8 645.5 L808.8 645.1 L810.7 645 L812.5 645.1 L814.1 645.7 L841.6 659.5 L843 660.3 L844.3 661.4 L845.3 662.7 L846 664.4 L846.5 666.2 L846.8 668.2 L846.8 670.4 L846.5 672.6 L845.9 675 L845.1 677.4 L844 679.8 L805.8 756.5 L804.5 758.9 L803 761.1 L801.4 763.2 L799.6 765.2 L797.6 767 L795.6 768.5 L793.6 769.8 L791.5 770.8 L789.5 771.5 L787.5 771.9 L785.6 772 L783.8 771.9 L782.2 771.3 L754.7 757.5 L753.3 756.7 L752 755.6 L751 754.3 L750.3 752.6 L749.8 750.8Z" fill="#d9dbdd" stroke="#84888d" stroke-width="1.1" stroke-linejoin="round"/>
<path d="M763.7 756 L763.8 753.8 L764 751.5 L764.6 749.2 L765.4 746.8 L766.5 744.4 L804.7 667.6 L806 665.3 L807.5 663 L809.1 660.9 L810.9 658.9 L812.9 657.2 L814.9 655.6 L816.9 654.4 L819 653.3 L821 652.6 L823 652.2 L824.9 652.1 L826.7 652.3 L828.3 652.8 L841.6 659.5 L843 660.3 L844.3 661.4 L845.3 662.7 L846 664.4 L846.5 666.2 L846.8 668.2 L846.8 670.4 L846.5 672.6 L845.9 675 L845.1 677.4 L844 679.8 L805.8 756.5 L804.5 758.9 L803 761.1 L801.4 763.2 L799.6 765.2 L797.6 767 L795.6 768.5 L793.6 769.8 L791.5 770.8 L789.5 771.5 L787.5 771.9 L785.6 772 L783.8 771.9 L782.2 771.3 L768.9 764.7 L767.5 763.9 L766.2 762.8 L765.2 761.4 L764.5 759.8 L764 758Z" fill="#d9dbdd" stroke="#84888d" stroke-width="1.1" stroke-linejoin="round"/>
<g stroke-linejoin="round" stroke-linecap="round">
<path d="M763.7 756 L763.8 753.8 L764 751.5 L764.6 749.2 L765.4 746.8 L766.5 744.4 L804.7 667.6 L806 665.3 L807.5 663 L809.1 660.9 L810.9 658.9 L812.9 657.2 L814.9 655.6 L816.9 654.4 L819 653.3 L821 652.6 L823 652.2 L824.9 652.1 L826.7 652.3 L828.3 652.8 L841.6 659.5 L843 660.3 L844.3 661.4 L845.3 662.7 L846 664.4 L846.5 666.2 L846.8 668.2 L846.8 670.4 L846.5 672.6 L845.9 675 L845.1 677.4 L844 679.8 L805.8 756.5 L804.5 758.9 L803 761.1 L801.4 763.2 L799.6 765.2 L797.6 767 L795.6 768.5 L793.6 769.8 L791.5 770.8 L789.5 771.5 L787.5 771.9 L785.6 772 L783.8 771.9 L782.2 771.3 L768.9 764.7 L767.5 763.9 L766.2 762.8 L765.2 761.4 L764.5 759.8 L764 758Z" fill="#d9dbdd" stroke="#84888d" stroke-width="1.1" />
<path d="M779.8 751 L778.7 753.4 L777.9 755.8 L777.4 758.2 L777.1 760.4 L777 762.6 L777.3 764.6 L777.8 766.4 L778.5 768.1 L779.5 769.4 L780.8 770.5 L782.2 771.3 L783.8 771.8 L785.6 772.1 L787.5 771.9 L789.5 771.5 L791.5 770.8 L793.6 769.8 L795.6 768.5 L797.6 767 L799.6 765.2 L801.4 763.2 L803 761.1 L804.5 758.9 L805.8 756.5 L844 679.8 L845.1 677.4 L845.9 675 L846.4 672.6 L846.7 670.4 L846.8 668.2 L846.5 666.2 L846 664.4 L845.3 662.7 L844.3 661.4 L843 660.3 L841.6 659.5 L840 659 L838.2 658.7 L836.3 658.9 L834.3 659.3 L832.3 660 L830.2 661 L828.2 662.3 L826.2 663.8 L824.2 665.6 L822.4 667.6 L820.8 669.7 L819.3 671.9 L818 674.2Z" fill="#d3d5d7" stroke="#84888d" stroke-width="1.1" />
<path d="M782.4 751.6 L781.6 753.5 L780.9 755.4 L780.4 757.3 L780.2 759.1 L780.2 760.8 L780.4 762.5 L780.8 763.9 L781.4 765.2 L782.2 766.3 L783.2 767.2 L784.3 767.8 L785.6 768.2 L787 768.4 L788.6 768.3 L790.1 768 L791.8 767.4 L793.4 766.6 L795.1 765.6 L796.7 764.3 L798.2 762.9 L799.7 761.4 L801 759.7 L802.2 757.9 L803.2 756 L841.4 679.2 L842.2 677.3 L842.9 675.4 L843.4 673.5 L843.6 671.7 L843.6 670 L843.4 668.3 L843 666.9 L842.4 665.6 L841.6 664.5 L840.6 663.6 L839.5 663 L838.2 662.6 L836.8 662.4 L835.2 662.5 L833.7 662.8 L832 663.4 L830.4 664.2 L828.7 665.2 L827.1 666.5 L825.6 667.9 L824.1 669.4 L822.8 671.1 L821.6 672.9 L820.6 674.8Z" fill="none" stroke="#84888d" stroke-width="0.9" />
<path d="M834.8 691.8 L828.3 704.9 L825.7 701.3 L821.5 700.5 L825.3 692.8 L829.5 693.7Z" fill="#c9cbcd" stroke="#84888d" stroke-width="0.9" />
<path d="M814.6 687.5 L808.1 700.6 L813.4 698.7 L817.6 699.6 L821.4 691.9 L817.2 691.1Z" fill="#c9cbcd" stroke="#84888d" stroke-width="0.9" />
<path d="M833.9 665.3 L830.2 672.8 L824.7 671.6 L821.1 678.9 L826.5 680.1 L822.8 687.6 L828.1 688.7 L831.8 681.2 L837.3 682.4 L840.9 675.1 L835.5 673.9 L839.2 666.4Z" fill="#5b8fd6" stroke="#84888d" stroke-width="1.1" />
<path d="M815.7 730.2 L809.2 743.3 L806.6 739.7 L802.4 738.9 L806.2 731.2 L810.4 732.1Z" fill="#c9cbcd" stroke="#84888d" stroke-width="0.9" />
<path d="M795.5 725.9 L789 739 L794.3 737.1 L798.5 738 L802.3 730.3 L798.1 729.5Z" fill="#c9cbcd" stroke="#84888d" stroke-width="0.9" />
<path d="M803.9 731.5 L805.8 731.7 L807.9 731.5 L810.1 730.9 L812.3 729.9 L814.5 728.6 L816.7 726.9 L818.7 724.9 L820.6 722.7 L822.2 720.4 L823.6 717.9 L824.8 715.3 L825.5 712.8 L826 710.3 L826.1 707.9 L825.9 705.8 L825.3 703.8 L824.4 702.2 L823.2 700.8 L821.7 699.9 L819.9 699.3 L818 699.1 L815.9 699.3 L813.7 699.9 L811.5 700.9 L809.3 702.2 L807.1 703.9 L805.1 705.9 L803.2 708.1 L801.6 710.4 L800.2 712.9 L799 715.5 L798.3 718 L797.8 720.5 L797.7 722.9 L797.9 725 L798.5 727 L799.4 728.6 L800.6 730 L802.1 730.9 L803.9 731.5Z" fill="#d6d8da" stroke="#84888d" stroke-width="1.1" />
<path d="M804.2 729.7 L805.8 729.8 L807.6 729.7 L809.4 729.1 L811.3 728.3 L813.2 727.2 L815 725.8 L816.7 724.1 L818.3 722.3 L819.7 720.3 L820.9 718.1 L821.8 716 L822.5 713.8 L822.9 711.7 L823 709.7 L822.8 707.9 L822.3 706.3 L821.5 704.9 L820.5 703.7 L819.2 702.9 L817.7 702.4 L816.1 702.3 L814.3 702.4 L812.5 703 L810.6 703.8 L808.7 704.9 L806.9 706.3 L805.2 708 L803.6 709.8 L802.2 711.8 L801 714 L800.1 716.1 L799.4 718.3 L799 720.4 L798.9 722.4 L799.1 724.2 L799.6 725.8 L800.4 727.2 L801.4 728.4 L802.7 729.2 L804.2 729.7Z" fill="#d6d8da" stroke="#84888d" stroke-width="0.9" />
<path d="M804.9 727.5 L806.3 727.6 L807.7 727.5 L809.2 727.1 L810.8 726.4 L812.3 725.5 L813.8 724.3 L815.2 723 L816.5 721.4 L817.6 719.8 L818.6 718.1 L819.4 716.3 L819.9 714.6 L820.2 712.8 L820.3 711.2 L820.1 709.7 L819.7 708.4 L819.1 707.2 L818.3 706.3 L817.2 705.6 L816 705.2 L814.7 705.1 L813.3 705.3 L811.7 705.7 L810.2 706.4 L808.7 707.3 L807.2 708.4 L805.8 709.8 L804.5 711.3 L803.3 712.9 L802.4 714.7 L801.6 716.4 L801.1 718.2 L800.7 719.9 L800.7 721.5 L800.8 723 L801.2 724.4 L801.9 725.5 L802.7 726.4 L803.7 727.1 L804.9 727.5Z" fill="#c4c6c9" stroke="#84888d" stroke-width="1.1" />
<path d="M795.7 742.1 L792 749.6 L786.5 748.4 L782.9 755.7 L788.3 756.9 L784.6 764.4 L789.9 765.5 L793.6 758 L799.1 759.2 L802.7 751.9 L797.3 750.7 L801 743.2Z" fill="#d3d5d7" stroke="#84888d" stroke-width="1.1" />
</g>
<g transform="translate(660,780) scale(0.10173)" stroke="#1c1a1a" stroke-width="11" stroke-linejoin="round" stroke-linecap="round" fill="none">
<ellipse cx="985" cy="848" rx="150" ry="62" fill="#b6b9bc"/>
<path d="M745 525 L765 800 C820 880 1010 890 1108 815 L1135 525Z" fill="#a4a7aa"/>
<path d="M1036 690 V848" stroke="#2c2d2f" stroke-width="16"/>
<path d="M800 772 L1080 640 L1084 700 L1012 742 L1012 872 L900 915Z" fill="#acafb2"/>
<path d="M780 750 L1080 620 L1083 652 L800 780Z" fill="#c3c6c8"/>
<ellipse cx="940" cy="527" rx="196" ry="92" fill="#b9bcbf"/>
<path d="M760 560 C800 640 1080 640 1122 560" stroke-width="8"/>
<path d="M850 478 L905 500 L935 485 L965 500 L1020 478 L1045 500 L1000 525 L1045 555 L1015 578 L965 555 L935 575 L905 555 L850 578 L825 555 L870 525 L825 500Z" fill="#8f9296" stroke-width="9"/>
<path d="M905 500 C925 515 925 540 905 555 M965 500 C945 515 945 540 965 555" stroke-width="7"/>
</g>
<g stroke-linejoin="round" stroke-linecap="round">
<path d="M696.6 863.8 L696.7 861.2 L697.1 858.5 L697.9 855.7 L698.9 853 L700.1 850.4 L701.6 848 L703.2 845.8 L705 843.9 L706.8 842.3 L708.7 841.1 L710.6 840.3 L712.5 840 L714.2 840 L715.8 840.5 L747.3 858 L748.8 859 L750 860.2 L751 861.9 L751.8 863.9 L752.2 866.2 L752.3 868.7 L752.2 871.3 L751.8 874 L751 876.8 L750 879.5 L748.8 882.1 L747.3 884.5 L745.7 886.7 L744 888.6 L742.1 890.2 L740.2 891.4 L738.3 892.2 L736.5 892.5 L734.7 892.5 L733.1 892 L701.6 874.5 L700.1 873.5 L698.9 872.2 L697.9 870.6 L697.1 868.6 L696.7 866.3Z" fill="url(#gTube)" stroke="#1c1a1a" stroke-width="1.2" />
<path d="M728.1 881.3 L728.2 878.7 L728.7 876 L729.4 873.2 L730.4 870.5 L731.6 867.9 L733.1 865.5 L734.7 863.3 L736.4 861.4 L738.3 859.8 L740.2 858.6 L742.1 857.8 L744 857.5 L745.7 857.5 L747.3 858 L748.8 858.9 L750 860.3 L751 861.9 L751.7 863.9 L752.2 866.2 L752.3 868.7 L752.2 871.3 L751.7 874 L751 876.8 L750 879.5 L748.8 882.1 L747.3 884.5 L745.7 886.7 L744 888.6 L742.1 890.2 L740.2 891.4 L738.3 892.2 L736.4 892.5 L734.7 892.5 L733.1 892 L731.6 891.1 L730.4 889.7 L729.4 888.1 L728.7 886.1 L728.2 883.8 L728.1 881.3Z" fill="#9b9ea1" stroke="#1c1a1a" stroke-width="1.2" />
<path d="M729.8 880.4 L729.9 878.2 L730.3 875.8 L730.9 873.5 L731.8 871.1 L732.8 868.9 L734.1 866.8 L735.5 864.9 L737 863.3 L738.6 861.9 L740.2 860.9 L741.8 860.2 L743.4 859.9 L744.9 860 L746.3 860.4 L747.6 861.2 L748.6 862.3 L749.5 863.8 L750.1 865.5 L750.5 867.4 L750.6 869.6 L750.5 871.8 L750.1 874.2 L749.5 876.5 L748.6 878.9 L747.6 881.1 L746.3 883.2 L744.9 885.1 L743.4 886.7 L741.8 888.1 L740.2 889.1 L738.6 889.8 L737 890.1 L735.5 890 L734.1 889.6 L732.8 888.8 L731.8 887.7 L730.9 886.2 L730.3 884.5 L729.9 882.6 L729.8 880.4Z" fill="#8b8e92" stroke="#1c1a1a" stroke-width="0.9" />
<path d="M731.2 879.7 L731.3 877.7 L731.7 875.7 L732.2 873.7 L732.9 871.7 L733.8 869.8 L734.9 868 L736.1 866.3 L737.4 864.9 L738.8 863.8 L740.2 862.9 L741.6 862.3 L743 862 L744.3 862.1 L745.5 862.4 L746.6 863.1 L747.5 864.1 L748.2 865.3 L748.7 866.8 L749.1 868.5 L749.2 870.3 L749.1 872.3 L748.7 874.3 L748.2 876.3 L747.5 878.3 L746.6 880.2 L745.5 882 L744.3 883.7 L743 885.1 L741.6 886.2 L740.2 887.1 L738.8 887.7 L737.4 888 L736.1 887.9 L734.9 887.6 L733.8 886.9 L732.9 885.9 L732.2 884.7 L731.7 883.2 L731.3 881.5 L731.2 879.7Z" fill="#1f4fa0" stroke="#0a1d48" stroke-width="1.1" />
<path d="M734.9 878.6 L735 877.2 L735.2 875.9 L735.6 874.5 L736.1 873.2 L736.7 871.9 L737.4 870.6 L738.2 869.5 L739.1 868.6 L740.1 867.8 L741 867.2 L741.9 866.8 L742.9 866.6 L743.8 866.7 L744.6 866.9 L745.3 867.4 L745.9 868 L746.4 868.9 L746.8 869.9 L747 871 L747.1 872.2 L747 873.6 L746.8 874.9 L746.4 876.3 L745.9 877.6 L745.3 878.9 L744.6 880.2 L743.8 881.3 L742.9 882.2 L741.9 883 L741 883.6 L740.1 884 L739.1 884.2 L738.2 884.1 L737.4 883.9 L736.7 883.4 L736.1 882.8 L735.6 881.9 L735.2 880.9 L735 879.8 L734.9 878.6Z" fill="#2a5cb4" stroke="#0a1d48" stroke-width="1" />
<path d="M737.8 877.7 L737.8 876.9 L737.9 876.1 L738.2 875.3 L738.5 874.5 L738.8 873.7 L739.3 872.9 L739.7 872.3 L740.3 871.7 L740.8 871.2 L741.4 870.9 L742 870.7 L742.5 870.5 L743.1 870.6 L743.5 870.7 L744 871 L744.3 871.4 L744.6 871.9 L744.9 872.5 L745 873.2 L745 873.9 L745 874.7 L744.9 875.5 L744.6 876.3 L744.3 877.1 L744 877.9 L743.5 878.7 L743.1 879.3 L742.5 879.9 L742 880.4 L741.4 880.7 L740.8 880.9 L740.3 881.1 L739.7 881 L739.3 880.9 L738.8 880.6 L738.5 880.2 L738.2 879.7 L737.9 879.1 L737.8 878.4 L737.8 877.7Z" fill="#2a5cb4" stroke="#0a1d48" stroke-width="0.9" />
</g>
<g transform="translate(800,755) scale(0.07634)" stroke="#84888d" stroke-width="12" stroke-linejoin="round" fill="#d8dadc">
<path d="M960 395 L1020 440 L1150 465 L1215 490 L1185 570 L1130 575 L1120 640 L1100 735 L1045 745 L1010 715 L1025 660 L900 610 L860 640 L840 600 L870 545 L850 520 L870 470 L930 440Z"/>
<path d="M1020 440 L985 520 L1040 545 L1010 640 L1060 660 L1100 735 M985 520 L880 480 M1010 640 L900 600 M1040 545 L1130 575" fill="none" stroke-width="8"/>
</g>
<g stroke-linejoin="miter">
<path d="M602.2 659.3 L707.9 711.9" stroke="#ffffff" stroke-width="5.8" fill="none" stroke-linecap="butt"/>
<path d="M726.7 721.3 L699.6 719.6 L707.9 711.9 L709 700.8Z" fill="#ffffff" stroke="#ffffff" stroke-width="2.6" />
<path d="M602.2 659.3 L707.9 711.9" stroke="#e60012" stroke-width="3.2" fill="none" />
<path d="M726.7 721.3 L699.6 719.6 L707.9 711.9 L709 700.8Z" fill="#e60012" stroke="none" stroke-width="1" />
</g>
<path d="M631.1 685.9 L631.2 683.1 L631.7 680.3 L632.5 677.4 L633.5 674.6 L634.8 671.9 L636.4 669.3 L638.1 667 L639.9 665 L641.9 663.4 L643.9 662.1 L645.9 661.2 L647.9 660.8 L649.7 660.9 L651.4 661.4 L669.2 669.1 L670.8 670.1 L672.1 671.4 L673.1 673.1 L673.9 675.2 L674.4 677.5 L674.5 680.1 L674.4 682.9 L673.9 685.7 L673.1 688.6 L672.1 691.4 L670.8 694.1 L669.2 696.7 L667.5 699 L665.7 701 L663.7 702.6 L661.7 703.9 L659.7 704.8 L657.7 705.2 L655.9 705.1 L654.2 704.6 L636.4 696.9 L634.8 695.9 L633.5 694.6 L632.5 692.9 L631.7 690.8 L631.2 688.5Z" fill="#e60012" stroke="#e60012" stroke-width="6" stroke-linejoin="round"/>
<g stroke-linejoin="round">
<path d="M631.1 685.9 L631.2 683.1 L631.7 680.3 L632.5 677.4 L633.5 674.6 L634.8 671.9 L636.4 669.3 L638.1 667 L639.9 665 L641.9 663.4 L643.9 662.1 L645.9 661.2 L647.9 660.8 L649.7 660.9 L651.4 661.4 L656.4 663.5 L657.9 664.5 L659.2 665.8 L660.3 667.5 L661.1 669.6 L661.5 671.9 L661.7 674.5 L661.5 677.3 L661.1 680.1 L660.3 683 L659.2 685.8 L657.9 688.5 L656.4 691.1 L654.7 693.4 L652.8 695.4 L650.9 697 L648.9 698.3 L646.9 699.1 L644.9 699.6 L643.1 699.5 L641.4 699 L636.4 696.9 L634.8 695.9 L633.5 694.6 L632.5 692.9 L631.7 690.8 L631.2 688.5Z" fill="#abafb3" stroke="#1c1a1a" stroke-width="1.2" />
<path d="M636.1 688.1 L636.2 685.3 L636.7 682.5 L637.5 679.6 L638.5 676.8 L639.8 674 L641.4 671.5 L643.1 669.2 L644.9 667.2 L646.9 665.5 L648.9 664.3 L650.9 663.4 L652.8 663 L654.7 663 L656.4 663.5 L657.9 664.5 L659.2 665.8 L660.3 667.5 L661.1 669.6 L661.5 671.9 L661.7 674.5 L661.5 677.3 L661.1 680.1 L660.3 683 L659.2 685.8 L657.9 688.5 L656.4 691.1 L654.7 693.4 L652.8 695.4 L650.9 697 L648.9 698.3 L646.9 699.2 L644.9 699.6 L643.1 699.5 L641.4 699 L639.8 698.1 L638.5 696.8 L637.5 695 L636.7 693 L636.2 690.6 L636.1 688.1Z" fill="#a5a9ad" stroke="#1c1a1a" stroke-width="1.2" />
<path d="M638.4 686.8 L638.5 684.6 L638.9 682.2 L639.5 679.9 L640.4 677.6 L641.5 675.3 L642.7 673.3 L644.1 671.4 L645.6 669.7 L647.2 668.4 L648.9 667.3 L650.5 666.6 L652.1 666.3 L653.6 666.3 L655.1 666.7 L661.1 669.4 L662.4 670.1 L663.4 671.2 L664.3 672.6 L664.9 674.3 L665.3 676.3 L665.4 678.4 L665.3 680.6 L664.9 683 L664.3 685.3 L663.4 687.6 L662.4 689.9 L661.1 692 L659.7 693.9 L658.2 695.5 L656.6 696.9 L654.9 697.9 L653.3 698.6 L651.7 698.9 L650.2 698.9 L648.8 698.5 L642.7 695.8 L641.5 695.1 L640.4 694 L639.5 692.6 L638.9 690.9 L638.5 689Z" fill="#9ca0a4" stroke="#1c1a1a" stroke-width="1.2" />
<path d="M642.1 690.7 L642.3 688 L642.8 685.1 L643.5 682.2 L644.6 679.4 L645.9 676.7 L647.4 674.1 L649.1 671.9 L651 669.8 L652.9 668.2 L654.9 666.9 L656.9 666.1 L658.9 665.7 L660.8 665.7 L662.5 666.2 L669.2 669.1 L670.8 670.1 L672.1 671.4 L673.1 673.1 L673.9 675.2 L674.4 677.5 L674.5 680.1 L674.4 682.9 L673.9 685.7 L673.1 688.6 L672.1 691.4 L670.8 694.1 L669.2 696.7 L667.5 699 L665.7 701 L663.7 702.6 L661.7 703.9 L659.7 704.8 L657.7 705.2 L655.9 705.1 L654.2 704.6 L647.4 701.7 L645.9 700.8 L644.6 699.4 L643.5 697.7 L642.8 695.6 L642.3 693.3Z" fill="#abafb3" stroke="#1c1a1a" stroke-width="1.2" />
<path d="M648.9 693.7 L649 690.9 L649.5 688.1 L650.3 685.2 L651.3 682.4 L652.6 679.7 L654.2 677.1 L655.9 674.8 L657.7 672.8 L659.7 671.1 L661.7 669.9 L663.7 669 L665.7 668.6 L667.5 668.7 L669.2 669.2 L670.8 670.1 L672.1 671.4 L673.1 673.1 L673.9 675.2 L674.4 677.6 L674.5 680.1 L674.4 682.9 L673.9 685.7 L673.1 688.6 L672.1 691.4 L670.8 694.1 L669.2 696.7 L667.5 699 L665.7 701 L663.7 702.7 L661.7 703.9 L659.7 704.8 L657.7 705.2 L655.9 705.1 L654.2 704.6 L652.6 703.7 L651.3 702.4 L650.3 700.7 L649.5 698.6 L649 696.2 L648.9 693.7Z" fill="#a5a9ad" stroke="#1c1a1a" stroke-width="1.2" />
<path d="M651.5 692.3 L651.6 690.1 L652 687.8 L652.6 685.5 L653.4 683.3 L654.5 681.1 L655.7 679.1 L657 677.2 L658.5 675.6 L660.1 674.3 L661.7 673.3 L663.3 672.6 L664.9 672.3 L666.4 672.3 L667.7 672.7 L668.9 673.4 L670 674.5 L670.8 675.9 L671.4 677.5 L671.8 679.4 L671.9 681.5 L671.8 683.7 L671.4 686 L670.8 688.3 L670 690.5 L668.9 692.7 L667.7 694.7 L666.4 696.6 L664.9 698.2 L663.3 699.5 L661.7 700.5 L660.1 701.2 L658.5 701.5 L657 701.5 L655.7 701.1 L654.5 700.4 L653.4 699.3 L652.6 697.9 L652 696.3 L651.6 694.4 L651.5 692.3Z" fill="#a8acb0" stroke="#1c1a1a" stroke-width="1" />
<path d="M668.9 686.9 L664.5 689.2 L664.5 694.9 L658.9 697.9 L658.9 692.1 L654.5 694.4 L654.5 686.9 L658.9 684.6 L658.9 678.9 L664.5 675.9 L664.5 681.7 L668.9 679.4Z" fill="#abafb3" stroke="#1c1a1a" stroke-width="1.2" />
</g>
<path d="M658.5 687.3 L690 703" stroke="#ffffff" stroke-width="5.8" fill="none" />
<path d="M658.5 687.3 L690 703" stroke="#e60012" stroke-width="3.2" fill="none" />
<g stroke-linejoin="miter">
<path d="M1004.3 859.4 L906.4 812.3" stroke="#ffffff" stroke-width="5.8" fill="none" stroke-linecap="butt"/>
<path d="M883.9 801.5 L915.4 805.2 L906.4 812.3 L906.5 823.8Z" fill="#ffffff" stroke="#ffffff" stroke-width="2.6" />
<path d="M1004.3 859.4 L906.4 812.3" stroke="#e60012" stroke-width="3.2" fill="none" />
<path d="M883.9 801.5 L915.4 805.2 L906.4 812.3 L906.5 823.8Z" fill="#e60012" stroke="none" stroke-width="1" />
</g>
<path d="M943.5 843.4 L943.6 840.6 L944.1 837.8 L944.9 834.9 L945.9 832.1 L947.2 829.4 L948.8 826.8 L950.5 824.5 L952.3 822.5 L954.3 820.9 L956.3 819.6 L958.3 818.7 L960.3 818.3 L962.1 818.4 L963.8 818.9 L981.5 826.9 L983.1 827.8 L984.4 829.1 L985.4 830.8 L986.2 832.9 L986.6 835.2 L986.8 837.8 L986.6 840.6 L986.2 843.4 L985.4 846.3 L984.4 849.1 L983.1 851.9 L981.5 854.4 L979.8 856.7 L978 858.7 L976 860.4 L974 861.6 L972 862.5 L970 862.9 L968.2 862.8 L966.5 862.4 L948.8 854.4 L947.2 853.4 L945.9 852.1 L944.9 850.4 L944.1 848.3 L943.6 846Z" fill="#e60012" stroke="#e60012" stroke-width="6" stroke-linejoin="round"/>
<g stroke-linejoin="round">
<path d="M943.5 843.4 L943.6 840.6 L944.1 837.8 L944.9 834.9 L945.9 832.1 L947.2 829.4 L948.8 826.8 L950.5 824.5 L952.3 822.5 L954.3 820.9 L956.3 819.6 L958.3 818.7 L960.3 818.3 L962.1 818.4 L963.8 818.9 L968.8 821.1 L970.3 822 L971.6 823.4 L972.7 825.1 L973.4 827.1 L973.9 829.5 L974.1 832.1 L973.9 834.8 L973.4 837.7 L972.7 840.5 L971.6 843.4 L970.3 846.1 L968.8 848.6 L967.1 850.9 L965.2 852.9 L963.3 854.6 L961.3 855.9 L959.2 856.7 L957.3 857.1 L955.4 857.1 L953.7 856.6 L948.8 854.4 L947.2 853.4 L945.9 852.1 L944.9 850.4 L944.1 848.3 L943.6 846Z" fill="#abafb3" stroke="#1c1a1a" stroke-width="1.2" />
<path d="M948.4 845.6 L948.6 842.9 L949.1 840 L949.8 837.1 L950.9 834.3 L952.2 831.6 L953.7 829.1 L955.4 826.7 L957.3 824.7 L959.3 823.1 L961.3 821.8 L963.3 821 L965.2 820.6 L967.1 820.6 L968.8 821.1 L970.3 822 L971.6 823.4 L972.7 825.1 L973.4 827.1 L973.9 829.5 L974.1 832.1 L973.9 834.8 L973.4 837.7 L972.7 840.5 L971.6 843.4 L970.3 846.1 L968.8 848.6 L967.1 850.9 L965.2 852.9 L963.3 854.6 L961.3 855.9 L959.3 856.7 L957.3 857.1 L955.4 857.1 L953.7 856.6 L952.2 855.7 L950.9 854.3 L949.8 852.6 L949.1 850.5 L948.6 848.2 L948.4 845.6Z" fill="#a5a9ad" stroke="#1c1a1a" stroke-width="1.2" />
<path d="M950.8 844.4 L950.9 842.1 L951.3 839.8 L951.9 837.5 L952.8 835.1 L953.8 832.9 L955.1 830.8 L956.5 828.9 L958 827.3 L959.6 825.9 L961.3 824.9 L962.9 824.2 L964.5 823.9 L966 823.9 L967.4 824.3 L973.5 827 L974.7 827.8 L975.8 828.9 L976.6 830.3 L977.3 832 L977.6 833.9 L977.8 836 L977.6 838.3 L977.3 840.6 L976.6 843 L975.8 845.3 L974.7 847.5 L973.5 849.6 L972 851.5 L970.5 853.1 L968.9 854.5 L967.3 855.5 L965.6 856.2 L964 856.5 L962.5 856.5 L961.1 856.1 L955.1 853.4 L953.8 852.6 L952.8 851.5 L951.9 850.1 L951.3 848.4 L950.9 846.5Z" fill="#9ca0a4" stroke="#1c1a1a" stroke-width="1.2" />
<path d="M954.5 848.3 L954.6 845.6 L955.1 842.7 L955.9 839.9 L956.9 837 L958.2 834.3 L959.7 831.8 L961.5 829.5 L963.3 827.5 L965.3 825.8 L967.3 824.5 L969.3 823.7 L971.2 823.3 L973.1 823.3 L974.8 823.8 L981.5 826.9 L983.1 827.8 L984.4 829.1 L985.4 830.8 L986.2 832.9 L986.6 835.2 L986.8 837.8 L986.6 840.6 L986.2 843.4 L985.4 846.3 L984.4 849.1 L983.1 851.9 L981.5 854.4 L979.8 856.7 L978 858.7 L976 860.4 L974 861.6 L972 862.5 L970 862.9 L968.2 862.8 L966.5 862.4 L959.7 859.3 L958.2 858.4 L956.9 857 L955.9 855.3 L955.1 853.3 L954.6 850.9Z" fill="#abafb3" stroke="#1c1a1a" stroke-width="1.2" />
<path d="M961.2 851.4 L961.3 848.6 L961.8 845.8 L962.6 842.9 L963.6 840.1 L964.9 837.4 L966.5 834.8 L968.2 832.5 L970 830.5 L972 828.8 L974 827.6 L976 826.7 L978 826.3 L979.8 826.4 L981.5 826.9 L983.1 827.8 L984.4 829.1 L985.4 830.8 L986.2 832.9 L986.7 835.3 L986.8 837.8 L986.7 840.6 L986.2 843.4 L985.4 846.3 L984.4 849.1 L983.1 851.8 L981.5 854.4 L979.8 856.7 L978 858.7 L976 860.4 L974 861.6 L972 862.5 L970 862.9 L968.2 862.8 L966.5 862.3 L964.9 861.4 L963.6 860.1 L962.6 858.4 L961.8 856.3 L961.3 853.9 L961.2 851.4Z" fill="#a5a9ad" stroke="#1c1a1a" stroke-width="1.2" />
<path d="M963.8 850 L963.9 847.8 L964.3 845.5 L964.9 843.2 L965.7 841 L966.8 838.8 L968 836.8 L969.3 834.9 L970.8 833.3 L972.4 832 L974 831 L975.6 830.3 L977.2 830 L978.7 830 L980 830.4 L981.2 831.1 L982.3 832.2 L983.1 833.6 L983.7 835.2 L984.1 837.1 L984.2 839.2 L984.1 841.4 L983.7 843.7 L983.1 846 L982.3 848.2 L981.2 850.4 L980 852.4 L978.7 854.3 L977.2 855.9 L975.6 857.2 L974 858.2 L972.4 858.9 L970.8 859.2 L969.3 859.2 L968 858.8 L966.8 858.1 L965.7 857 L964.9 855.6 L964.3 854 L963.9 852.1 L963.8 850Z" fill="#a8acb0" stroke="#1c1a1a" stroke-width="1" />
<path d="M981.2 844.6 L976.8 846.9 L976.8 852.6 L971.2 855.6 L971.2 849.8 L966.8 852.1 L966.8 844.6 L971.2 842.3 L971.2 836.6 L976.8 833.6 L976.8 839.4 L981.2 837.1Z" fill="#abafb3" stroke="#1c1a1a" stroke-width="1.2" />
</g>
<path d="M971.5 843.6 L1004.3 859.4" stroke="#ffffff" stroke-width="5.8" fill="none" />
<path d="M971.5 843.6 L1004.3 859.4" stroke="#e60012" stroke-width="3.2" fill="none" />
</svg>
</body></html>
